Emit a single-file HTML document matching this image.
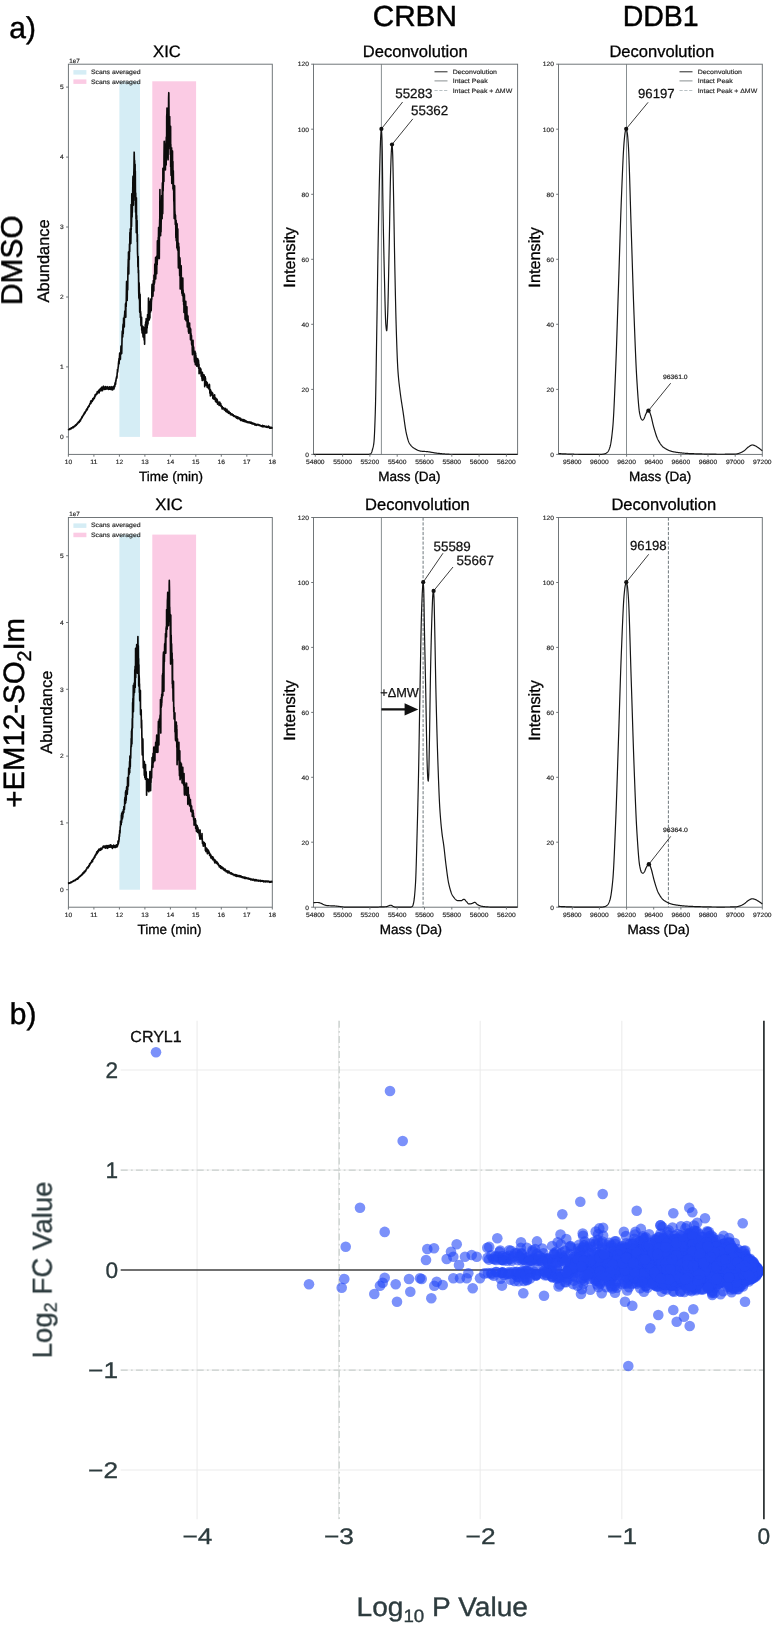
<!DOCTYPE html>
<html><head><meta charset="utf-8"><title>figure</title>
<style>html,body{margin:0;padding:0;background:#fff}svg{display:block}text{font-family:"Liberation Sans",sans-serif;text-rendering:geometricPrecision}.pts circle{r:5.3px}</style>
</head><body>
<svg width="780" height="1632" viewBox="0 0 780 1632">
<rect width="780" height="1632" fill="#fff"/>
<g opacity="0.999">
<text x="9.3" y="38.3" font-size="30" text-anchor="start" fill="#000" stroke="#000" stroke-width="0.45">a)</text>
<text x="414.8" y="25.7" font-size="29" text-anchor="middle" fill="#000" textLength="84.3" lengthAdjust="spacingAndGlyphs" stroke="#000" stroke-width="0.45">CRBN</text>
<text x="660.7" y="26.2" font-size="29" text-anchor="middle" fill="#000" textLength="76" lengthAdjust="spacingAndGlyphs" stroke="#000" stroke-width="0.45">DDB1</text>
<text x="22.2" y="260.2" font-size="30" text-anchor="middle" fill="#000" transform="rotate(-90 22.2 260.2)" stroke="#000" stroke-width="0.45">DMSO</text>
<text font-size="29.4" text-anchor="middle" transform="translate(24.3 712.8) rotate(-90)" stroke="#000" stroke-width="0.45">+EM12-SO<tspan font-size="19.6" dy="6.2">2</tspan><tspan dy="-6.2">Im</tspan></text>
<text x="9.8" y="1023.5" font-size="30" text-anchor="start" fill="#000" stroke="#000" stroke-width="0.45">b)</text>
<rect x="119.4" y="81.3" width="20.6" height="355.6" fill="#d5edf5"/>
<rect x="152.3" y="81.3" width="43.8" height="355.6" fill="#fbcbe4"/>
<rect x="68.4" y="64.2" width="203.9" height="390.2" fill="none" stroke="#6a7073" stroke-width="0.95"/>
<path d="M68.4,429 68.5,429.3 68.7,429.3 68.8,429.7 68.9,429.4 69.1,429.3 69.2,429.2 69.4,429.3 69.5,429.2 69.6,429.1 69.8,429.3 69.9,428.8 70,428.7 70.2,428.5 70.3,428.8 70.4,428.9 70.6,428.8 70.7,429 70.8,428.4 71,428.8 71.1,428.7 71.3,428.4 71.4,427.9 71.5,428.1 71.7,428.4 71.8,428.2 71.9,427.8 72.1,428 72.2,428 72.3,427.8 72.5,427.5 72.6,427.1 72.8,427.7 72.9,427.4 73,427.4 73.2,427.7 73.3,427.3 73.4,427.2 73.6,426.6 73.7,426.8 73.8,427.1 74,426.4 74.1,426.5 74.2,426.8 74.4,426.5 74.5,426.4 74.7,426.3 74.8,426 74.9,426.4 75.1,425.8 75.2,425.4 75.3,425.4 75.5,425.2 75.6,425.2 75.7,424.9 75.9,425.4 76,424.7 76.2,425.3 76.3,424.8 76.4,425 76.6,424.2 76.7,424 76.8,424.3 77,423.7 77.1,424.2 77.2,423.9 77.4,423.7 77.5,423.9 77.6,423.3 77.8,422.8 77.9,423.4 78.1,422.8 78.2,422.8 78.3,422.2 78.5,422.4 78.6,422.2 78.7,422 78.9,422.1 79,422.4 79.1,421.4 79.3,422.1 79.4,421.3 79.6,421 79.7,421.1 79.8,420.6 80,420.1 80.1,420.4 80.2,420.5 80.4,421 80.5,420.1 80.6,419.8 80.8,419.5 80.9,419.4 81.1,418.7 81.2,418.9 81.3,418.4 81.5,418 81.6,418.3 81.7,418 81.9,416.9 82,417.1 82.1,417.7 82.3,417 82.4,416.5 82.5,416.1 82.7,416.3 82.8,416.1 83,416 83.1,415.3 83.2,415.2 83.4,415.2 83.5,414.9 83.6,414.8 83.8,414 83.9,414.5 84,413.9 84.2,413.4 84.3,413.4 84.5,413.7 84.6,412.4 84.7,412.9 84.9,412.4 85,412.5 85.1,412.9 85.3,412 85.4,411.6 85.5,411.6 85.7,411.3 85.8,411.4 85.9,411.2 86.1,410.9 86.2,409.9 86.4,410.2 86.5,410.5 86.6,409.7 86.8,409.9 86.9,409.6 87,408.7 87.2,409.1 87.3,409.6 87.4,409 87.6,408.1 87.7,407.9 87.9,407.1 88,407.6 88.1,406.8 88.3,407 88.4,407 88.5,406.4 88.7,406.3 88.8,406.7 88.9,405.5 89.1,406.3 89.2,405.4 89.3,405.3 89.5,404.8 89.6,404.8 89.8,404.4 89.9,404.4 90,403.4 90.2,403.9 90.3,403.2 90.4,403.2 90.6,403.6 90.7,401.2 90.8,402.7 91,403.3 91.1,401.4 91.3,402.1 91.4,401.2 91.5,400.7 91.7,401.4 91.8,401.1 91.9,401.1 92.1,400.7 92.2,401.5 92.3,401.2 92.5,400.4 92.6,399.7 92.7,399.7 92.9,398.5 93,398.7 93.2,399.2 93.3,398.8 93.4,399.7 93.6,399 93.7,398.9 93.8,397.9 94,397.6 94.1,397.9 94.2,397.8 94.4,398.2 94.5,397.1 94.7,396.3 94.8,396.3 94.9,396.8 95.1,394.8 95.2,395 95.3,395.6 95.5,395.9 95.6,395.4 95.7,395 95.9,395 96,394.7 96.1,394.1 96.3,393.7 96.4,393.7 96.6,394.2 96.7,393.7 96.8,394.1 97,393.9 97.1,392 97.2,393.5 97.4,391.6 97.5,393 97.6,392.4 97.8,391.9 97.9,392.6 98.1,392.1 98.2,392.5 98.3,392.7 98.5,392.3 98.6,392.1 98.7,390.6 98.9,391.6 99,390.1 99.1,392.9 99.3,391.1 99.4,390.5 99.5,390.8 99.7,389.7 99.8,390 100,390.6 100.1,390.2 100.2,388.8 100.4,390.6 100.5,390.5 100.6,390.7 100.8,390.1 100.9,390.9 101,389.8 101.2,387.9 101.3,388.6 101.5,388.5 101.6,388.1 101.7,387.4 101.9,388 102,387.1 102.1,388.1 102.3,388.9 102.4,387.7 102.5,390.7 102.7,389.4 102.8,388.8 103,389.4 103.1,388.8 103.2,388.7 103.4,388.7 103.5,386.2 103.6,387.5 103.8,388.1 103.9,387.6 104,388.7 104.2,388.1 104.3,388.4 104.4,387.5 104.6,389.4 104.7,388 104.9,388.2 105,389.1 105.1,387.2 105.3,388.5 105.4,386.5 105.5,387.3 105.7,387.2 105.8,387.8 105.9,387.4 106.1,389.3 106.2,387.8 106.4,388.1 106.5,387.6 106.6,387.9 106.8,387.6 106.9,388.7 107,387.1 107.2,386.7 107.3,388.7 107.4,388.6 107.6,388.4 107.7,387.7 107.8,387.1 108,389.1 108.1,388.6 108.3,388.7 108.4,388.8 108.5,389.4 108.7,387.9 108.8,389.1 108.9,387.4 109.1,387.8 109.2,389.1 109.3,388.8 109.5,388.5 109.6,386.8 109.8,388.4 109.9,389.2 110,388.5 110.2,387.9 110.3,388.8 110.4,387.1 110.6,387.7 110.7,387.4 110.8,388.6 111,387.8 111.1,388 111.2,389.7 111.4,387.8 111.5,389.1 111.7,387.8 111.8,389 111.9,386.7 112.1,388 112.2,387.8 112.3,388 112.5,389.3 112.6,389.9 112.7,388.4 112.9,387.4 113,388.2 113.2,387.8 113.3,387.5 113.4,389 113.6,387.8 113.7,386.3 113.8,388 114,389 114.1,387.9 114.2,387.4 114.4,386.4 114.5,386.9 114.6,385.8 114.8,386.8 114.9,384.1 115.1,383.1 115.2,382.7 115.3,384.1 115.5,382.4 115.6,384.4 115.7,380.8 115.9,380.6 116,381.3 116.1,379.1 116.3,378.6 116.4,377.6 116.6,377.4 116.7,376.3 116.8,378.2 117,376.6 117.1,374.6 117.2,372.9 117.4,372.4 117.5,369.3 117.6,372.2 117.8,370.4 117.9,369 118,368.7 118.2,366.8 118.3,367.3 118.5,362.9 118.6,364.8 118.7,361 118.9,362 119,358.7 119.1,363.6 119.3,358.4 119.4,359.8 119.5,356.7 119.7,353 119.8,357.8 120,358.6 120.1,358.2 120.2,354.4 120.4,359.4 120.5,352.8 120.6,354.9 120.8,352.9 120.9,348.6 121,346.4 121.2,348.4 121.3,348.6 121.4,345.6 121.6,345.9 121.7,353.6 121.9,344.6 122,340.5 122.1,335.2 122.3,331.2 122.4,333.3 122.5,334.2 122.7,337 122.8,330.9 122.9,326.5 123.1,324.2 123.2,333.7 123.4,327.4 123.5,324.9 123.6,318 123.8,324.2 123.9,326.5 124,325.6 124.2,323.3 124.3,326.9 124.4,316.7 124.6,314.5 124.7,314.6 124.8,311.1 125,315.6 125.1,311.2 125.3,314.1 125.4,312.2 125.5,303.9 125.7,309.4 125.8,317.3 125.9,302.8 126.1,304 126.2,306.5 126.3,298.2 126.5,286.3 126.6,281.5 126.8,294.2 126.9,285.5 127,286.6 127.2,300.4 127.3,292.3 127.4,284.1 127.6,280.6 127.7,289.9 127.8,278.7 128,267.7 128.1,266.7 128.3,259 128.4,272.3 128.5,252 128.7,257.7 128.8,273.9 128.9,256.1 129.1,260.3 129.2,257.8 129.3,259.4 129.5,244 129.6,248.9 129.7,251.8 129.9,232.6 130,237.5 130.2,242.5 130.3,228.9 130.4,241.9 130.6,243.5 130.7,236.8 130.8,243.6 131,232.6 131.1,204.6 131.2,229.7 131.4,219.5 131.5,226.6 131.7,213.6 131.8,193.9 131.9,200.3 132.1,216.9 132.2,207.2 132.3,212.6 132.5,201.7 132.6,201.5 132.7,193.3 132.9,178.7 133,176.5 133.1,176.1 133.3,184.4 133.4,205.2 133.6,189.1 133.7,196.3 133.8,174.2 134,167.1 134.1,157.8 134.2,152.2 134.4,162.7 134.5,160.6 134.6,160.6 134.8,188.2 134.9,177 135.1,164.4 135.2,200.4 135.3,170.9 135.5,204 135.6,212.2 135.7,193 135.9,206.4 136,219.1 136.1,201.3 136.3,232.7 136.4,197.8 136.5,223.4 136.7,215.6 136.8,226.1 137,222.9 137.1,220.5 137.2,242 137.4,234.2 137.5,251.2 137.6,254.3 137.8,258.5 137.9,266.4 138,267.1 138.2,256.5 138.3,273.1 138.5,270.3 138.6,279 138.7,290.4 138.9,298.2 139,289.6 139.1,282.7 139.3,287.4 139.4,299.9 139.5,292.4 139.7,311.6 139.8,312.4 139.9,306 140.1,294.4 140.2,305.8 140.4,317.5 140.5,311.2 140.6,312 140.8,314.1 140.9,323 141,325.8 141.2,322.7 141.3,323.4 141.4,318.3 141.6,317.4 141.7,330 141.9,330.3 142,329.8 142.1,333 142.3,330.1 142.4,331.3 142.5,331.9 142.7,326.2 142.8,331.1 142.9,333.9 143.1,337 143.2,334.3 143.3,334.2 143.5,337.2 143.6,327.4 143.8,328.4 143.9,332.2 144,336.4 144.2,340.2 144.3,338.4 144.4,328.3 144.6,344.3 144.7,332.3 144.8,328.3 145,329.5 145.1,329.3 145.3,324.5 145.4,333.2 145.5,328.8 145.7,321.9 145.8,331.1 145.9,329.1 146.1,324.1 146.2,318.7 146.3,319 146.5,322.5 146.6,330.8 146.7,333 146.9,325 147,322.2 147.2,328 147.3,321.1 147.4,320.2 147.6,314.6 147.7,324.9 147.8,316.9 148,323.7 148.1,319.6 148.2,317.1 148.4,308.1 148.5,298.1 148.7,313 148.8,309.5 148.9,307.2 149.1,319.3 149.2,310.3 149.3,320 149.5,306.4 149.6,307.1 149.7,310.8 149.9,318.1 150,301.2 150.2,304.3 150.3,303.9 150.4,302.9 150.6,311.9 150.7,299.9 150.8,299.1 151,304.4 151.1,302.4 151.2,310.5 151.4,302.3 151.5,301.1 151.6,299.3 151.8,299.2 151.9,287.2 152.1,284.3 152.2,289.9 152.3,287.9 152.5,288 152.6,286.7 152.7,293.9 152.9,296.1 153,295.2 153.1,289.8 153.3,283.4 153.4,280.6 153.6,290.5 153.7,287.5 153.8,290.9 154,275.2 154.1,284.7 154.2,275.8 154.4,280.4 154.5,280.4 154.6,282.9 154.8,264.1 154.9,269.7 155,272.6 155.2,276.7 155.3,274.2 155.5,266.1 155.6,257.6 155.7,279 155.9,270 156,262.1 156.1,262.4 156.3,272.3 156.4,258.3 156.5,256.7 156.7,273.7 156.8,265.1 157,255.8 157.1,257 157.2,264.8 157.4,240.9 157.5,249.4 157.6,260.1 157.8,241.9 157.9,258.4 158,242.6 158.2,256.7 158.3,237.2 158.4,243.6 158.6,227.5 158.7,230.8 158.9,234.6 159,240.2 159.1,234 159.3,258.6 159.4,233 159.5,229.5 159.7,219.9 159.8,219.1 159.9,189.6 160.1,221.6 160.2,214 160.4,223.3 160.5,203.5 160.6,235.7 160.8,200.9 160.9,221.8 161,231.9 161.2,218.6 161.3,207.4 161.4,202.1 161.6,202.1 161.7,195.5 161.8,201.3 162,201.2 162.1,218.7 162.3,192.1 162.4,182.9 162.5,198.1 162.7,213.7 162.8,205.7 162.9,168.4 163.1,191.3 163.2,186.3 163.3,184.3 163.5,168.4 163.6,178.7 163.8,173 163.9,181.6 164,157.4 164.2,141.4 164.3,158.2 164.4,149.2 164.6,152 164.7,154.3 164.8,150.8 165,151.2 165.1,145.2 165.2,153 165.4,169.9 165.5,160.8 165.7,160.5 165.8,143.8 165.9,144.3 166.1,140.6 166.2,164.9 166.3,137.2 166.5,146.6 166.6,157.3 166.7,116.5 166.9,113.7 167,108.1 167.2,118.6 167.3,119.7 167.4,143.6 167.6,143.1 167.7,132.1 167.8,157.1 168,159.3 168.1,159.8 168.2,140.1 168.4,133.6 168.5,124.2 168.6,98.3 168.8,92.7 168.9,103.2 169.1,133.6 169.2,116.5 169.3,127.7 169.5,145.8 169.6,138.8 169.7,116.5 169.9,149 170,143 170.1,129.2 170.3,154.5 170.4,126 170.6,126.5 170.7,166.9 170.8,144.3 171,171.8 171.1,175.4 171.2,152.5 171.4,150.1 171.5,164.4 171.6,147.7 171.8,183.5 171.9,177.6 172.1,176.7 172.2,153.1 172.3,153.8 172.5,151.1 172.6,177.4 172.7,162.9 172.9,161.5 173,188.9 173.1,183.3 173.3,170.8 173.4,178.3 173.5,190.6 173.7,189.2 173.8,199.9 174,202.4 174.1,207 174.2,218.6 174.4,214.1 174.5,213.5 174.6,185.7 174.8,210.2 174.9,211.7 175,214.5 175.2,215.5 175.3,224.6 175.5,215.2 175.6,223.6 175.7,220.5 175.9,237.8 176,225.7 176.1,220.3 176.3,240.8 176.4,227.4 176.5,223.1 176.7,229.2 176.8,236.7 176.9,248 177.1,223.7 177.2,240.1 177.4,245.9 177.5,228.6 177.6,250.1 177.8,229.1 177.9,241.9 178,242 178.2,248.7 178.3,260.6 178.4,267.9 178.6,243.2 178.7,259.4 178.9,263.2 179,246.9 179.1,265.9 179.3,263.7 179.4,266.4 179.5,267.1 179.7,275.7 179.8,269.1 179.9,257.7 180.1,260.7 180.2,289.1 180.3,284.3 180.5,271.8 180.6,274.3 180.8,277.5 180.9,270.5 181,285.5 181.2,265.7 181.3,275.5 181.4,276.9 181.6,278.9 181.7,279.8 181.8,292.3 182,293.6 182.1,285.5 182.3,285.2 182.4,295.6 182.5,280.2 182.7,279.7 182.8,278 182.9,290.9 183.1,290 183.2,293.8 183.3,301.5 183.5,296.7 183.6,297.7 183.7,305.1 183.9,293.2 184,312.4 184.2,306.8 184.3,305.8 184.4,294.7 184.6,303.3 184.7,304 184.8,312.6 185,313.5 185.1,319.3 185.2,310.2 185.4,314.7 185.5,310.8 185.7,319.5 185.8,301.3 185.9,316.1 186.1,320.8 186.2,312.1 186.3,311.1 186.5,306.7 186.6,316.2 186.7,310.3 186.9,306.8 187,318.6 187.1,319.8 187.3,326.9 187.4,316.6 187.6,315.2 187.7,317.4 187.8,317.8 188,316.2 188.1,323.8 188.2,319.6 188.4,329 188.5,332 188.6,327.9 188.8,333.2 188.9,327.6 189.1,323.9 189.2,326 189.3,331.5 189.5,332.7 189.6,323.1 189.7,332.7 189.9,330.6 190,332.6 190.1,330.9 190.3,328 190.4,336.1 190.5,339.8 190.7,329 190.8,335.5 191,333.6 191.1,338.2 191.2,335.5 191.4,335.3 191.5,336.2 191.6,343.9 191.8,344.8 191.9,344.1 192,345.5 192.2,344.8 192.3,350.4 192.5,354.7 192.6,345.2 192.7,343 192.9,344.7 193,340.3 193.1,345.1 193.3,349.8 193.4,346.3 193.5,349.5 193.7,347.5 193.8,352.4 194,351.3 194.1,352.3 194.2,353.8 194.4,360.1 194.5,354.2 194.6,361.9 194.8,355.6 194.9,355.1 195,351.4 195.2,357.9 195.3,362.7 195.4,364.7 195.6,353.1 195.7,363.2 195.9,355.5 196,364.5 196.1,358.7 196.3,359.1 196.4,360.9 196.5,362.7 196.7,365.6 196.8,366.2 196.9,358.3 197.1,361.6 197.2,363.5 197.4,362.7 197.5,365.2 197.6,360.5 197.8,358.8 197.9,365 198,363.6 198.2,361.5 198.3,367 198.4,360 198.6,362.6 198.7,368.5 198.8,365.9 199,364.4 199.1,373.7 199.3,369 199.4,370.6 199.5,371 199.7,369 199.8,370.9 199.9,373 200.1,372.9 200.2,369.1 200.3,368.1 200.5,369.3 200.6,370.1 200.8,370.2 200.9,369.1 201,371.1 201.2,376.1 201.3,375.4 201.4,372 201.6,376.2 201.7,375.8 201.8,376 202,378.7 202.1,373.8 202.2,380.6 202.4,372.3 202.5,376.4 202.7,379 202.8,375.7 202.9,380.1 203.1,375.2 203.2,374.5 203.3,376.6 203.5,377.3 203.6,374.9 203.7,378.8 203.9,378 204,377.5 204.2,375 204.3,379.6 204.4,379.8 204.6,377.9 204.7,386.7 204.8,382.1 205,385.5 205.1,384.8 205.2,376.9 205.4,380.3 205.5,378.4 205.6,382.5 205.8,381.3 205.9,383.6 206.1,384.2 206.2,384.1 206.3,384.4 206.5,381.9 206.6,385.4 206.7,384.6 206.9,385.3 207,384.6 207.1,387.1 207.3,382.7 207.4,386.2 207.6,385.8 207.7,386.4 207.8,385.7 208,386.5 208.1,387.4 208.2,387.9 208.4,388.2 208.5,386.7 208.6,387.7 208.8,385.9 208.9,385 209,386.4 209.2,389.5 209.3,384.3 209.5,385 209.6,388.9 209.7,389.7 209.9,393.3 210,390.5 210.1,392.9 210.3,389.5 210.4,396 210.5,391.7 210.7,390.2 210.8,392.2 211,393.3 211.1,391.7 211.2,394.3 211.4,394.8 211.5,394.3 211.6,394.5 211.8,394.3 211.9,392.2 212,393.7 212.2,393.6 212.3,395.3 212.4,392.8 212.6,396.2 212.7,393.4 212.9,398.4 213,396.3 213.1,398.1 213.3,395.5 213.4,396.6 213.5,398.9 213.7,398.2 213.8,396.2 213.9,397.5 214.1,396.8 214.2,399.2 214.4,399.1 214.5,396.5 214.6,394.9 214.8,398.5 214.9,397.6 215,399.8 215.2,397.8 215.3,399.8 215.4,399.7 215.6,401.6 215.7,400.2 215.9,399.4 216,398.2 216.1,401.6 216.3,399.5 216.4,400.9 216.5,401.1 216.7,401.5 216.8,402.4 216.9,401.9 217.1,399.3 217.2,402.3 217.3,402.2 217.5,400.7 217.6,404.2 217.8,402 217.9,403 218,402.5 218.2,402 218.3,402.8 218.4,403 218.6,402.3 218.7,402.7 218.8,404.3 219,404.3 219.1,405.3 219.3,402.9 219.4,405.1 219.5,403.8 219.7,402.1 219.8,403.1 219.9,404.9 220.1,405.5 220.2,405.7 220.3,405.1 220.5,405.7 220.6,405.9 220.7,403.5 220.9,406.2 221,405.8 221.2,405.8 221.3,405.6 221.4,406.3 221.6,407 221.7,406.8 221.8,407 222,407.4 222.1,408.9 222.2,406.5 222.4,407.7 222.5,407.9 222.7,407.9 222.8,408.8 222.9,408.6 223.1,407.9 223.2,408 223.3,407.8 223.5,408.6 223.6,408.2 223.7,409 223.9,408.7 224,408.2 224.1,408.7 224.3,409.8 224.4,409.2 224.6,409.1 224.7,408.5 224.8,409.5 225,409.8 225.1,410.3 225.2,408.4 225.4,410.6 225.5,410.7 225.6,410.3 225.8,411.4 225.9,409.5 226.1,410.1 226.2,410.2 226.3,411.1 226.5,410.8 226.6,410.2 226.7,410.2 226.9,409.2 227,410.2 227.1,412.3 227.3,411.4 227.4,411.7 227.5,410.9 227.7,411.7 227.8,411.4 228,412 228.1,411.7 228.2,411.3 228.4,412.4 228.5,413.3 228.6,412.7 228.8,411.4 228.9,412.4 229,412.7 229.2,413 229.3,412 229.5,412.6 229.6,412.8 229.7,413.2 229.9,413.3 230,413.6 230.1,413 230.3,412.8 230.4,414.6 230.5,414.4 230.7,413.7 230.8,413.7 230.9,414.7 231.1,414.4 231.2,414.3 231.4,414.3 231.5,414.4 231.6,414.1 231.8,413.8 231.9,413.9 232,414.2 232.2,414.5 232.3,415.3 232.4,415.1 232.6,414.7 232.7,415 232.9,414.8 233,414.8 233.1,414.9 233.3,414.9 233.4,416 233.5,415.7 233.7,416.1 233.8,415.8 233.9,416.5 234.1,416.2 234.2,416.3 234.3,415.9 234.5,415.9 234.6,416.4 234.8,416.1 234.9,416.2 235,416 235.2,416.4 235.3,416.3 235.4,416.7 235.6,417.1 235.7,416.7 235.8,416.7 236,417.5 236.1,416.4 236.3,417.7 236.4,416.9 236.5,417.2 236.7,418.2 236.8,417.5 236.9,418.2 237.1,417.6 237.2,417.3 237.3,416.8 237.5,417.4 237.6,418.6 237.7,418.2 237.9,417.4 238,418.1 238.2,417.4 238.3,418.4 238.4,418.3 238.6,418.7 238.7,418.2 238.8,417.6 239,418.6 239.1,418 239.2,418.3 239.4,418.2 239.5,418.7 239.7,418.8 239.8,418 239.9,419.4 240.1,418.6 240.2,418.3 240.3,418.9 240.5,418.3 240.6,420.4 240.7,419.4 240.9,419.8 241,419.6 241.2,419.7 241.3,419.5 241.4,420.1 241.6,419.4 241.7,420.4 241.8,419.3 242,419.9 242.1,420.5 242.2,420.6 242.4,420.7 242.5,420.5 242.6,420.1 242.8,419.6 242.9,419.8 243.1,420.8 243.2,421.2 243.3,420.5 243.5,421 243.6,420.7 243.7,420.8 243.9,419.7 244,421.4 244.1,420.7 244.3,420.1 244.4,420.9 244.6,421.1 244.7,420.2 244.8,421.7 245,421.7 245.1,421.6 245.2,421.1 245.4,420.9 245.5,421.4 245.6,420.6 245.8,421.8 245.9,421.7 246,421.9 246.2,421.3 246.3,421.8 246.5,422 246.6,421.3 246.7,421.5 246.9,421.6 247,422.4 247.1,422.3 247.3,422 247.4,422 247.5,422.2 247.7,422.2 247.8,421.9 248,422.6 248.1,422.2 248.2,422.5 248.4,422.6 248.5,422.5 248.6,422.1 248.8,422.2 248.9,422.6 249,422.2 249.2,422.3 249.3,422.2 249.4,422.6 249.6,422.1 249.7,422.4 249.9,422.9 250,423 250.1,423.2 250.3,422.7 250.4,423.2 250.5,423.1 250.7,423.1 250.8,422.6 250.9,422.2 251.1,422.9 251.2,422.2 251.4,422.8 251.5,422.6 251.6,423.4 251.8,423.7 251.9,423.2 252,423 252.2,423.9 252.3,423.3 252.4,423.3 252.6,423.1 252.7,423.8 252.8,423.6 253,423.2 253.1,423.1 253.3,423.8 253.4,423.6 253.5,424 253.7,423.8 253.8,424.1 253.9,424 254.1,424.1 254.2,423.8 254.3,423.6 254.5,423.9 254.6,423.8 254.8,424.3 254.9,423.9 255,425.2 255.2,424.7 255.3,424.5 255.4,424.9 255.6,424.2 255.7,424.4 255.8,424.7 256,424.4 256.1,425.1 256.2,424.9 256.4,424.8 256.5,425.3 256.7,424.5 256.8,425 256.9,424.5 257.1,424.9 257.2,424.7 257.3,425 257.5,424.8 257.6,424.8 257.7,424.7 257.9,424.4 258,425 258.2,424.9 258.3,424.7 258.4,424.5 258.6,424.9 258.7,425.1 258.8,425.2 259,425.2 259.1,425.2 259.2,425.5 259.4,425.3 259.5,425 259.6,425.3 259.8,425.5 259.9,425.1 260.1,425.2 260.2,425.3 260.3,425.3 260.5,425.7 260.6,425.5 260.7,425.5 260.9,425.7 261,426.2 261.1,425.8 261.3,425.8 261.4,425.8 261.6,425.9 261.7,425.9 261.8,426.4 262,426.2 262.1,426.7 262.2,426 262.4,425.5 262.5,425.4 262.6,426.3 262.8,425.8 262.9,425.7 263.1,426.1 263.2,426.8 263.3,425.8 263.5,426.3 263.6,426.4 263.7,425.9 263.9,426.2 264,426.1 264.1,425.9 264.3,426.4 264.4,426.6 264.5,426.1 264.7,426.4 264.8,426.2 265,426.3 265.1,426.7 265.2,426.5 265.4,426.6 265.5,426.6 265.6,426.6 265.8,426.6 265.9,426.6 266,427.1 266.2,426.7 266.3,427.2 266.5,426.3 266.6,427.1 266.7,426.9 266.9,426.5 267,427 267.1,427.3 267.3,427.3 267.4,426.9 267.5,426.9 267.7,426.8 267.8,426.9 267.9,427.1 268.1,426.9 268.2,426.6 268.4,427.3 268.5,426.1 268.6,427.2 268.8,426.8 268.9,426.6 269,426.9 269.2,427.1 269.3,427 269.4,427 269.6,428.1 269.7,427.3 269.9,427.6 270,427.7 270.1,427.4 270.3,427.5 270.4,427.5 270.5,427.8 270.7,427.4 270.8,428.2 270.9,427.9 271.1,427.9 271.2,427.6 271.3,427.8 271.5,427.5 271.6,427.9 271.8,427.4 271.9,427.6 272,427.9 272.2,428.2 272.3,428.1" fill="none" stroke="#0b0b0b" stroke-width="1.65" stroke-linejoin="round"/>
<line x1="68.4" y1="454.4" x2="68.4" y2="456.7" stroke="#6a7073" stroke-width="0.95"/>
<text x="68.4" y="463.8" font-size="6.25" text-anchor="middle" fill="#2b2b2b" textLength="7.4" lengthAdjust="spacingAndGlyphs" stroke="#2b2b2b" stroke-width="0.18">10</text>
<line x1="93.9" y1="454.4" x2="93.9" y2="456.7" stroke="#6a7073" stroke-width="0.95"/>
<text x="93.9" y="463.8" font-size="6.25" text-anchor="middle" fill="#2b2b2b" textLength="7.4" lengthAdjust="spacingAndGlyphs" stroke="#2b2b2b" stroke-width="0.18">11</text>
<line x1="119.4" y1="454.4" x2="119.4" y2="456.7" stroke="#6a7073" stroke-width="0.95"/>
<text x="119.4" y="463.8" font-size="6.25" text-anchor="middle" fill="#2b2b2b" textLength="7.4" lengthAdjust="spacingAndGlyphs" stroke="#2b2b2b" stroke-width="0.18">12</text>
<line x1="144.9" y1="454.4" x2="144.9" y2="456.7" stroke="#6a7073" stroke-width="0.95"/>
<text x="144.9" y="463.8" font-size="6.25" text-anchor="middle" fill="#2b2b2b" textLength="7.4" lengthAdjust="spacingAndGlyphs" stroke="#2b2b2b" stroke-width="0.18">13</text>
<line x1="170.4" y1="454.4" x2="170.4" y2="456.7" stroke="#6a7073" stroke-width="0.95"/>
<text x="170.4" y="463.8" font-size="6.25" text-anchor="middle" fill="#2b2b2b" textLength="7.4" lengthAdjust="spacingAndGlyphs" stroke="#2b2b2b" stroke-width="0.18">14</text>
<line x1="195.8" y1="454.4" x2="195.8" y2="456.7" stroke="#6a7073" stroke-width="0.95"/>
<text x="195.8" y="463.8" font-size="6.25" text-anchor="middle" fill="#2b2b2b" textLength="7.4" lengthAdjust="spacingAndGlyphs" stroke="#2b2b2b" stroke-width="0.18">15</text>
<line x1="221.3" y1="454.4" x2="221.3" y2="456.7" stroke="#6a7073" stroke-width="0.95"/>
<text x="221.3" y="463.8" font-size="6.25" text-anchor="middle" fill="#2b2b2b" textLength="7.4" lengthAdjust="spacingAndGlyphs" stroke="#2b2b2b" stroke-width="0.18">16</text>
<line x1="246.8" y1="454.4" x2="246.8" y2="456.7" stroke="#6a7073" stroke-width="0.95"/>
<text x="246.8" y="463.8" font-size="6.25" text-anchor="middle" fill="#2b2b2b" textLength="7.4" lengthAdjust="spacingAndGlyphs" stroke="#2b2b2b" stroke-width="0.18">17</text>
<line x1="272.3" y1="454.4" x2="272.3" y2="456.7" stroke="#6a7073" stroke-width="0.95"/>
<text x="272.3" y="463.8" font-size="6.25" text-anchor="middle" fill="#2b2b2b" textLength="7.4" lengthAdjust="spacingAndGlyphs" stroke="#2b2b2b" stroke-width="0.18">18</text>
<line x1="66.1" y1="436.9" x2="68.4" y2="436.9" stroke="#6a7073" stroke-width="0.95"/>
<text x="63.8" y="439.1" font-size="6.25" text-anchor="end" fill="#2b2b2b" textLength="3.7" lengthAdjust="spacingAndGlyphs" stroke="#2b2b2b" stroke-width="0.18">0</text>
<line x1="66.1" y1="366.9" x2="68.4" y2="366.9" stroke="#6a7073" stroke-width="0.95"/>
<text x="63.8" y="369.2" font-size="6.25" text-anchor="end" fill="#2b2b2b" textLength="3.7" lengthAdjust="spacingAndGlyphs" stroke="#2b2b2b" stroke-width="0.18">1</text>
<line x1="66.1" y1="297" x2="68.4" y2="297" stroke="#6a7073" stroke-width="0.95"/>
<text x="63.8" y="299.2" font-size="6.25" text-anchor="end" fill="#2b2b2b" textLength="3.7" lengthAdjust="spacingAndGlyphs" stroke="#2b2b2b" stroke-width="0.18">2</text>
<line x1="66.1" y1="227" x2="68.4" y2="227" stroke="#6a7073" stroke-width="0.95"/>
<text x="63.8" y="229.3" font-size="6.25" text-anchor="end" fill="#2b2b2b" textLength="3.7" lengthAdjust="spacingAndGlyphs" stroke="#2b2b2b" stroke-width="0.18">3</text>
<line x1="66.1" y1="157.1" x2="68.4" y2="157.1" stroke="#6a7073" stroke-width="0.95"/>
<text x="63.8" y="159.3" font-size="6.25" text-anchor="end" fill="#2b2b2b" textLength="3.7" lengthAdjust="spacingAndGlyphs" stroke="#2b2b2b" stroke-width="0.18">4</text>
<line x1="66.1" y1="87.1" x2="68.4" y2="87.1" stroke="#6a7073" stroke-width="0.95"/>
<text x="63.8" y="89.4" font-size="6.25" text-anchor="end" fill="#2b2b2b" textLength="3.7" lengthAdjust="spacingAndGlyphs" stroke="#2b2b2b" stroke-width="0.18">5</text>
<text x="69.2" y="62.7" font-size="6.25" text-anchor="start" fill="#2b2b2b" textLength="10.5" lengthAdjust="spacingAndGlyphs" stroke="#2b2b2b" stroke-width="0.18">1e7</text>
<rect x="73.4" y="70.1" width="13" height="4.5" fill="#d5edf5"/>
<rect x="73.4" y="79.4" width="13" height="4.5" fill="#fbcbe4"/>
<text x="91" y="74" font-size="6.25" text-anchor="start" fill="#2b2b2b" textLength="49.5" lengthAdjust="spacingAndGlyphs" stroke="#2b2b2b" stroke-width="0.18">Scans averaged</text>
<text x="91" y="83.6" font-size="6.25" text-anchor="start" fill="#2b2b2b" textLength="49.5" lengthAdjust="spacingAndGlyphs" stroke="#2b2b2b" stroke-width="0.18">Scans averaged</text>
<text x="166.9" y="56.8" font-size="16.6" text-anchor="middle" fill="#000" stroke="#000" stroke-width="0.3">XIC</text>
<text x="171" y="481" font-size="13.5" text-anchor="middle" fill="#000" stroke="#000" stroke-width="0.3">Time (min)</text>
<text x="48.9" y="260.9" font-size="16.4" text-anchor="middle" fill="#000" transform="rotate(-90 48.9 260.9)" stroke="#000" stroke-width="0.3">Abundance</text>
<rect x="119.4" y="534.6" width="20.6" height="355.1" fill="#d5edf5"/>
<rect x="152.3" y="534.6" width="43.8" height="355.1" fill="#fbcbe4"/>
<rect x="68.4" y="517.5" width="203.9" height="389.7" fill="none" stroke="#6a7073" stroke-width="0.95"/>
<path d="M68.4,883.3 68.5,883.4 68.7,882.9 68.8,883.3 68.9,883.2 69.1,882.9 69.2,883.3 69.4,883.2 69.5,883 69.6,883 69.8,883.1 69.9,882.9 70,882.8 70.2,882.6 70.3,883 70.4,882.8 70.6,882.4 70.7,882.2 70.8,882.8 71,882.3 71.1,882.6 71.3,882.5 71.4,882.4 71.5,882.2 71.7,881.9 71.8,881.9 71.9,882 72.1,881.9 72.2,881.8 72.3,881.7 72.5,881.4 72.6,881.7 72.8,881.5 72.9,881.5 73,881.4 73.2,881.3 73.3,881.2 73.4,880.9 73.6,881.1 73.7,880.7 73.8,881 74,881 74.1,880.7 74.2,880.6 74.4,880.5 74.5,880.2 74.7,880.2 74.8,880.3 74.9,880.4 75.1,880.3 75.2,879.9 75.3,880.1 75.5,880.3 75.6,880.1 75.7,880 75.9,879.5 76,879.6 76.2,879 76.3,879.2 76.4,879.2 76.6,879.2 76.7,878.8 76.8,879.1 77,879.2 77.1,878.7 77.2,878.8 77.4,878.4 77.5,878.6 77.6,879.2 77.8,878.2 77.9,878.7 78.1,877.8 78.2,877.6 78.3,878 78.5,878.1 78.6,878 78.7,877.3 78.9,877.5 79,877.5 79.1,877.3 79.3,876.6 79.4,877 79.6,876.7 79.7,876.5 79.8,876.4 80,876.2 80.1,876.5 80.2,876.3 80.4,876.3 80.5,876.1 80.6,875.5 80.8,875.8 80.9,875.6 81.1,875.6 81.2,875.4 81.3,874.9 81.5,875.2 81.6,875 81.7,874.7 81.9,874.5 82,874.3 82.1,874.3 82.3,874.7 82.4,873.7 82.5,873.6 82.7,873.3 82.8,873.8 83,872.8 83.1,873.8 83.2,873 83.4,873 83.5,873 83.6,872.5 83.8,872.6 83.9,873.1 84,872.8 84.2,872.1 84.3,871.4 84.5,872.5 84.6,871.9 84.7,871.2 84.9,871.3 85,871.4 85.1,871.6 85.3,871.5 85.4,871 85.5,870.7 85.7,871.1 85.8,870.7 85.9,869.9 86.1,870 86.2,869.9 86.4,869.6 86.5,869.5 86.6,868.7 86.8,868.3 86.9,867.9 87,868.2 87.2,868.1 87.3,867.7 87.4,867.4 87.6,867.5 87.7,867.3 87.9,867.8 88,867.9 88.1,866.7 88.3,866.8 88.4,866.6 88.5,866.9 88.7,866.8 88.8,865.6 88.9,865.8 89.1,866.2 89.2,865.4 89.3,865.2 89.5,864.9 89.6,863.9 89.8,864.6 89.9,864.8 90,864 90.2,864 90.3,863.3 90.4,863.2 90.6,863 90.7,863.2 90.8,862.7 91,862.9 91.1,862.3 91.3,862.3 91.4,862.5 91.5,861.5 91.7,861.9 91.8,860.6 91.9,860.9 92.1,860.8 92.2,860.9 92.3,860.7 92.5,861.7 92.6,859.7 92.7,860.4 92.9,859.2 93,859.7 93.2,859.3 93.3,859.2 93.4,859.2 93.6,858.5 93.7,858 93.8,858.2 94,858.3 94.1,857.9 94.2,857.4 94.4,856.7 94.5,856.7 94.7,856.8 94.8,857.4 94.9,855.9 95.1,856.3 95.2,856 95.3,855.2 95.5,854.9 95.6,854.6 95.7,855.2 95.9,854.6 96,855 96.1,853.9 96.3,853.9 96.4,853.2 96.6,853.5 96.7,853.5 96.8,851.9 97,853.6 97.1,853.5 97.2,853 97.4,852.3 97.5,852.5 97.6,852.2 97.8,852.4 97.9,850.6 98.1,851.8 98.2,851.6 98.3,851 98.5,851.2 98.6,850.8 98.7,849.3 98.9,850.7 99,850.3 99.1,850.5 99.3,850.2 99.4,849.5 99.5,849.4 99.7,849.6 99.8,849.8 100,849.1 100.1,848.6 100.2,849.1 100.4,849.1 100.5,850.3 100.6,848.3 100.8,849.8 100.9,849.4 101,848.8 101.2,848.4 101.3,848.6 101.5,848.8 101.6,848.5 101.7,848.8 101.9,849.3 102,848 102.1,848.3 102.3,847.9 102.4,848 102.5,847.3 102.7,847.6 102.8,847.4 103,846.6 103.1,846.8 103.2,847.2 103.4,846 103.5,847.3 103.6,846.8 103.8,846.4 103.9,847.2 104,846.5 104.2,847.5 104.3,847.4 104.4,846.6 104.6,846.4 104.7,846 104.9,846.7 105,846.5 105.1,846.4 105.3,846.7 105.4,848.1 105.5,847.6 105.7,846.3 105.8,847.7 105.9,846.2 106.1,846.7 106.2,845.6 106.4,846.8 106.5,846.2 106.6,847.8 106.8,846.6 106.9,846.1 107,847.9 107.2,846.6 107.3,847.6 107.4,847.1 107.6,848.3 107.7,845.7 107.8,846.7 108,846.7 108.1,847.1 108.3,847.3 108.4,845.7 108.5,846.5 108.7,845.7 108.8,846.6 108.9,846.4 109.1,847.3 109.2,847.2 109.3,845.5 109.5,846.5 109.6,846.4 109.8,846.7 109.9,845.6 110,845.2 110.2,847.2 110.3,847.1 110.4,844.8 110.6,846.1 110.7,846.5 110.8,846.3 111,846 111.1,846.5 111.2,847 111.4,845.4 111.5,846.9 111.7,847.5 111.8,847.3 111.9,847.1 112.1,847.2 112.2,847.1 112.3,846.4 112.5,848.5 112.6,847.1 112.7,845.9 112.9,846.2 113,847.3 113.2,847.1 113.3,845.7 113.4,846.5 113.6,846.5 113.7,845.1 113.8,846.7 114,846.1 114.1,846.7 114.2,846.9 114.4,847.3 114.5,847.3 114.6,846.1 114.8,847.5 114.9,846.4 115.1,847.3 115.2,846.5 115.3,846.4 115.5,847.3 115.6,845.6 115.7,846.7 115.9,845.9 116,847.3 116.1,846.1 116.3,844.9 116.4,846.6 116.6,847 116.7,846.3 116.8,846.6 117,846.9 117.1,846.1 117.2,846.6 117.4,845.6 117.5,845.9 117.6,845.9 117.8,844.1 117.9,844.5 118,841.1 118.2,844.1 118.3,843.6 118.5,843 118.6,841.6 118.7,841.6 118.9,841.1 119,837.1 119.1,839.8 119.3,834.6 119.4,835.6 119.5,836.5 119.7,830.5 119.8,832.3 120,833 120.1,830.4 120.2,826.7 120.4,826.9 120.5,824.8 120.6,821.1 120.8,822.7 120.9,821.6 121,822 121.2,824.7 121.3,820.1 121.4,815.2 121.6,822.5 121.7,813.3 121.9,816.8 122,819.9 122.1,816.9 122.3,812.1 122.4,819 122.5,813.5 122.7,812.7 122.8,817.3 122.9,811.4 123.1,811.1 123.2,814 123.4,809.5 123.5,811 123.6,810.9 123.8,812.4 123.9,806.6 124,807.9 124.2,808.7 124.3,808.7 124.4,809.5 124.6,805.7 124.7,799.2 124.8,802.9 125,797.4 125.1,798.5 125.3,798.8 125.4,803.4 125.5,792 125.7,802.7 125.8,794.8 125.9,790.5 126.1,798.3 126.2,800.2 126.3,796.1 126.5,790.6 126.6,787.5 126.8,786.7 126.9,792.6 127,790.9 127.2,789.4 127.3,794.2 127.4,790.5 127.6,777.5 127.7,790 127.8,777.9 128,786.9 128.1,783.5 128.3,780.1 128.4,786 128.5,778.6 128.7,768.4 128.8,768.6 128.9,769.4 129.1,774.4 129.2,771.2 129.3,767.5 129.5,766.3 129.6,761.5 129.7,772.7 129.9,756.2 130,768.4 130.2,764.6 130.3,766.7 130.4,758 130.6,756.4 130.7,758.4 130.8,751.5 131,745.8 131.1,747.3 131.2,738.6 131.4,746.4 131.5,731.1 131.7,738.5 131.8,729.1 131.9,743.9 132.1,729.3 132.2,726.2 132.3,718.6 132.5,728.1 132.6,702.7 132.7,717.8 132.9,698.6 133,698.9 133.1,707.6 133.3,685.3 133.4,711.8 133.6,701.1 133.7,694.3 133.8,695.6 134,690.4 134.1,683.2 134.2,685.7 134.4,689 134.5,692.4 134.6,687.3 134.8,669.8 134.9,683.6 135.1,666.3 135.2,687.5 135.3,673.4 135.5,678.1 135.6,648.4 135.7,677.7 135.9,661.3 136,657.6 136.1,660.3 136.3,653.5 136.4,656.5 136.5,657.9 136.7,644.5 136.8,658.9 137,660.6 137.1,672.3 137.2,654.5 137.4,673.3 137.5,657.5 137.6,662.6 137.8,641.9 137.9,636.5 138,646.5 138.2,658.1 138.3,645.7 138.5,669.9 138.6,658.6 138.7,686.1 138.9,664.7 139,676.6 139.1,675.2 139.3,678.8 139.4,692.5 139.5,683.7 139.7,700 139.8,700.7 139.9,689.7 140.1,698.7 140.2,701.8 140.4,690.5 140.5,710.4 140.6,714.8 140.8,712.2 140.9,711.2 141,712.9 141.2,709.7 141.3,720.6 141.4,727.9 141.6,720 141.7,724.6 141.9,738 142,737.6 142.1,747.7 142.3,754.9 142.4,739.5 142.5,746.1 142.7,747.6 142.8,738.8 142.9,740.7 143.1,756.6 143.2,762 143.3,767.8 143.5,760.5 143.6,766.4 143.8,761.9 143.9,763.7 144,767.8 144.2,769.4 144.3,775.3 144.4,761.9 144.6,775 144.7,771.3 144.8,777.5 145,774.2 145.1,773.5 145.3,777 145.4,779.3 145.5,764.6 145.7,778.1 145.8,772.9 145.9,775.8 146.1,779.1 146.2,771.7 146.3,776.4 146.5,780.6 146.6,795.3 146.7,784.5 146.9,782.5 147,786 147.2,787.3 147.3,778.9 147.4,784.2 147.6,781.7 147.7,780.3 147.8,780.1 148,790.8 148.1,782.5 148.2,787.7 148.4,790.5 148.5,779.4 148.7,786.8 148.8,784.3 148.9,791.8 149.1,785.3 149.2,784.2 149.3,782.1 149.5,780.8 149.6,782.8 149.7,783.1 149.9,771.5 150,781.1 150.2,780.3 150.3,772.2 150.4,787.1 150.6,790.7 150.7,786.2 150.8,780.1 151,782.6 151.1,776.9 151.2,773 151.4,776.9 151.5,769.9 151.6,777.9 151.8,765.7 151.9,767.1 152.1,757.6 152.2,765.5 152.3,766.3 152.5,763.5 152.6,764.6 152.7,765.7 152.9,767.3 153,756.9 153.1,753.3 153.3,762.9 153.4,762.2 153.6,760.8 153.7,748.4 153.8,747.2 154,754.3 154.1,750.3 154.2,754.6 154.4,751.1 154.5,748.1 154.6,750.7 154.8,757.9 154.9,760.8 155,749.3 155.2,746.3 155.3,750.6 155.5,747.5 155.6,744.5 155.7,742.4 155.9,748 156,743.2 156.1,746.3 156.3,752.1 156.4,740.7 156.5,742.1 156.7,735.1 156.8,746.7 157,742.2 157.1,738.5 157.2,752.5 157.4,745.3 157.5,744.3 157.6,748 157.8,741.7 157.9,752.2 158,735.5 158.2,737.8 158.3,727.2 158.4,721.3 158.6,731.3 158.7,726.6 158.9,745 159,722.9 159.1,721.4 159.3,719 159.4,721.4 159.5,727.2 159.7,725.1 159.8,722.9 159.9,719 160.1,715.2 160.2,717.1 160.4,724.4 160.5,699.6 160.6,718.6 160.8,733.1 160.9,700.2 161,704.4 161.2,707.5 161.3,697.5 161.4,699.4 161.6,705.9 161.7,694.4 161.8,702.7 162,696.9 162.1,697.4 162.3,688 162.4,675.2 162.5,686.7 162.7,673.7 162.8,695.7 162.9,682.3 163.1,666 163.2,658.8 163.3,655.3 163.5,652.2 163.6,679.9 163.8,671.5 163.9,691.2 164,667.5 164.2,656.8 164.3,661.3 164.4,661.5 164.6,646.6 164.7,643.8 164.8,647.8 165,650.9 165.1,643.3 165.2,643.3 165.4,639.5 165.5,633.5 165.7,639.3 165.8,653.2 165.9,637.6 166.1,627.9 166.2,637 166.3,626.7 166.5,637 166.6,609.7 166.7,620.2 166.9,620.7 167,610.2 167.2,629.2 167.3,608.7 167.4,600.5 167.6,597.8 167.7,592.4 167.8,602.5 168,602.1 168.1,600.5 168.2,625.8 168.4,609.9 168.5,600.5 168.6,609.8 168.8,621.3 168.9,612.4 169.1,608.9 169.2,585.8 169.3,580.4 169.5,590.4 169.6,617.5 169.7,606.7 169.9,613.8 170,625.7 170.1,622.6 170.3,622.5 170.4,642.3 170.6,664.1 170.7,618.6 170.8,615 171,653.9 171.1,635.9 171.2,635.3 171.4,663.1 171.5,656.6 171.6,643.7 171.8,655.4 171.9,661.5 172.1,653.1 172.2,668.4 172.3,684 172.5,659.3 172.6,688.1 172.7,685.5 172.9,683.5 173,693.1 173.1,699.8 173.3,701.4 173.4,694.8 173.5,681.4 173.7,706.8 173.8,711.9 174,707.3 174.1,718.9 174.2,717 174.4,717.9 174.5,714.3 174.6,717.8 174.8,719.9 174.9,712.9 175,731.9 175.2,728.2 175.3,730 175.5,739.5 175.6,740.4 175.7,737.1 175.9,739.3 176,729.8 176.1,735.5 176.3,722 176.4,741.3 176.5,741.7 176.7,725.2 176.8,747.3 176.9,729.3 177.1,764.7 177.2,753.7 177.4,743.5 177.5,738.9 177.6,747.6 177.8,756.2 177.9,754.9 178,750.1 178.2,756.8 178.3,754.3 178.4,759.8 178.6,750.9 178.7,750.3 178.9,742.3 179,757.1 179.1,761.6 179.3,770 179.4,770.8 179.5,775.7 179.7,760.3 179.8,750.9 179.9,764.5 180.1,779.7 180.2,767.2 180.3,769.9 180.5,773 180.6,762.4 180.8,767.7 180.9,766.1 181,777.8 181.2,771 181.3,778 181.4,763.7 181.6,776.7 181.7,766.9 181.8,774.7 182,774.4 182.1,782.9 182.3,771.6 182.4,781.8 182.5,776.9 182.7,778 182.8,767.3 182.9,777.3 183.1,783.3 183.2,781.2 183.3,773.6 183.5,782.4 183.6,784.7 183.7,785 183.9,779.2 184,773.6 184.2,785.8 184.3,790 184.4,794 184.6,795 184.7,782.5 184.8,785.3 185,784.3 185.1,793.2 185.2,786.2 185.4,790.5 185.5,784.2 185.7,785.9 185.8,790.3 185.9,788.6 186.1,787.4 186.2,790.5 186.3,795.3 186.5,789.3 186.6,783.2 186.7,793.5 186.9,788.6 187,795.2 187.1,793.4 187.3,792.9 187.4,794.7 187.6,789.3 187.7,788.9 187.8,804.3 188,792.1 188.1,793 188.2,787.4 188.4,797.8 188.5,795.9 188.6,794.6 188.8,796.4 188.9,794.7 189.1,802.7 189.2,802.6 189.3,797.2 189.5,805.8 189.6,801.1 189.7,800.3 189.9,800.2 190,805.9 190.1,802.3 190.3,800.2 190.4,799.6 190.5,802.5 190.7,804.3 190.8,810.6 191,811.5 191.1,807.5 191.2,807.4 191.4,806.8 191.5,808.2 191.6,806 191.8,810.9 191.9,810.9 192,812.5 192.2,810.7 192.3,816.4 192.5,814.9 192.6,815 192.7,813.1 192.9,810.8 193,810.3 193.1,814.1 193.3,815.6 193.4,813 193.5,816.5 193.7,820.2 193.8,816.1 194,821.2 194.1,825.2 194.2,822.8 194.4,824.8 194.5,821.4 194.6,822.3 194.8,821.1 194.9,821.4 195,819.4 195.2,818.8 195.3,821.1 195.4,822.4 195.6,820.3 195.7,828.5 195.9,826 196,824.2 196.1,826.1 196.3,826.3 196.4,831.2 196.5,825.9 196.7,830.8 196.8,825.2 196.9,826.7 197.1,825.6 197.2,829.4 197.4,827.3 197.5,832.5 197.6,828.1 197.8,827.4 197.9,829.5 198,828.4 198.2,829.9 198.3,831.3 198.4,830.4 198.6,832.9 198.7,829.8 198.8,831.4 199,831.9 199.1,834 199.3,834.6 199.4,836.2 199.5,835.3 199.7,833.6 199.8,839.1 199.9,836.7 200.1,830.1 200.2,837.5 200.3,838.8 200.5,837.7 200.6,837.8 200.8,837.3 200.9,836.8 201,838.9 201.2,835.7 201.3,838.3 201.4,836.3 201.6,838.4 201.7,836.6 201.8,838.6 202,833.6 202.1,838.2 202.2,838 202.4,841.3 202.5,843.5 202.7,842.3 202.8,841.7 202.9,843.2 203.1,844.4 203.2,845 203.3,846.1 203.5,844.6 203.6,842.2 203.7,842.5 203.9,842.4 204,843.1 204.2,842.5 204.3,843.6 204.4,843.7 204.6,844.9 204.7,844.8 204.8,846.1 205,846.4 205.1,843.6 205.2,844.6 205.4,850.4 205.5,847.3 205.6,847.4 205.8,847.5 205.9,851.6 206.1,851.3 206.2,850 206.3,849.3 206.5,851.3 206.6,848.4 206.7,848.5 206.9,848.6 207,849.1 207.1,852.2 207.3,850.9 207.4,853.8 207.6,850.4 207.7,850 207.8,850.8 208,852.7 208.1,851.3 208.2,850 208.4,852.7 208.5,851 208.6,850.7 208.8,853 208.9,853.4 209,851.9 209.2,852.7 209.3,852.3 209.5,853.7 209.6,855.4 209.7,854.4 209.9,855.4 210,855.3 210.1,854.9 210.3,854.3 210.4,855.9 210.5,854.2 210.7,857.3 210.8,856 211,855.3 211.1,858.1 211.2,857.7 211.4,856.7 211.5,856.5 211.6,856.5 211.8,856.8 211.9,857 212,858 212.2,857.4 212.3,856.7 212.4,858 212.6,859.6 212.7,859 212.9,858.2 213,857 213.1,858.5 213.3,858.1 213.4,858.2 213.5,859.3 213.7,859.6 213.8,860.2 213.9,859.8 214.1,859.8 214.2,861.2 214.4,860.6 214.5,859.5 214.6,860.9 214.8,862.8 214.9,859.9 215,861.2 215.2,860.8 215.3,860.4 215.4,861.6 215.6,862.2 215.7,862.2 215.9,861.8 216,862.8 216.1,862.8 216.3,861.7 216.4,863 216.5,862.7 216.7,861.5 216.8,863.2 216.9,863.5 217.1,863.7 217.2,863.2 217.3,862.3 217.5,863 217.6,863.7 217.8,864.2 217.9,863.8 218,863.2 218.2,865 218.3,863.8 218.4,864.5 218.6,864.8 218.7,865 218.8,865.5 219,865.8 219.1,865 219.3,866.8 219.4,866.1 219.5,865.6 219.7,866.5 219.8,866.1 219.9,866.8 220.1,865.9 220.2,866 220.3,867.3 220.5,865.9 220.6,867.6 220.7,868.1 220.9,868.1 221,866.8 221.2,868.5 221.3,867.1 221.4,867.1 221.6,866.9 221.7,867.8 221.8,867.1 222,868.2 222.1,867.4 222.2,868.6 222.4,867.9 222.5,868.5 222.7,868.2 222.8,867.5 222.9,868.6 223.1,868.7 223.2,868.4 223.3,868.4 223.5,869.6 223.6,868.4 223.7,869.5 223.9,870 224,869.2 224.1,870.2 224.3,869.7 224.4,869.5 224.6,870.1 224.7,870.6 224.8,870.1 225,869.1 225.1,870.1 225.2,869.4 225.4,869.6 225.5,871 225.6,870.1 225.8,871.2 225.9,870.6 226.1,870.6 226.2,871.1 226.3,871.8 226.5,871.3 226.6,871.1 226.7,870.9 226.9,871 227,870.8 227.1,871.4 227.3,871.9 227.4,871.3 227.5,871 227.7,872.2 227.8,872.2 228,872.9 228.1,871.4 228.2,872.7 228.4,871.8 228.5,872.2 228.6,872.2 228.8,872 228.9,871.2 229,871.3 229.2,872.1 229.3,872.7 229.5,872.1 229.6,872.5 229.7,872.8 229.9,872.8 230,873.3 230.1,872.8 230.3,873.3 230.4,873.3 230.5,873.6 230.7,873.3 230.8,873.2 230.9,873.8 231.1,873.1 231.2,873.2 231.4,872.9 231.5,873.1 231.6,874 231.8,873.4 231.9,873.7 232,874.1 232.2,874.3 232.3,873.6 232.4,873.7 232.6,874.3 232.7,874 232.9,874.4 233,874.6 233.1,874.7 233.3,874.2 233.4,874.4 233.5,874.5 233.7,874.8 233.8,874.9 233.9,874.5 234.1,875.5 234.2,874.7 234.3,875.3 234.5,875.1 234.6,875.1 234.8,875.1 234.9,875 235,875.5 235.2,874.5 235.3,874.9 235.4,875 235.6,874.9 235.7,875.5 235.8,876 236,875.8 236.1,875.3 236.3,876.4 236.4,874.8 236.5,875.2 236.7,875.8 236.8,875.7 236.9,876.2 237.1,875.7 237.2,875.7 237.3,875.5 237.5,876.3 237.6,875.4 237.7,875.8 237.9,875.9 238,875.8 238.2,875.8 238.3,875.5 238.4,875.7 238.6,875.9 238.7,876.5 238.8,876.2 239,875.8 239.1,876 239.2,876.6 239.4,875.7 239.5,875.6 239.7,876.2 239.8,876.6 239.9,876.5 240.1,876.8 240.2,877 240.3,876.5 240.5,876.6 240.6,876.4 240.7,875.8 240.9,876.7 241,876.8 241.2,876.8 241.3,876.7 241.4,876.4 241.6,876.7 241.7,876.7 241.8,877.5 242,877.4 242.1,877.2 242.2,877 242.4,877.5 242.5,876.8 242.6,877.6 242.8,877.2 242.9,877.3 243.1,876.9 243.2,877.7 243.3,877.7 243.5,877.6 243.6,877.3 243.7,877.3 243.9,877.9 244,877.9 244.1,878 244.3,877.1 244.4,877.4 244.6,877.4 244.7,878.3 244.8,877.6 245,877.7 245.1,877.5 245.2,878.3 245.4,877.4 245.5,877.7 245.6,877.8 245.8,878.4 245.9,877.5 246,878.1 246.2,878 246.3,878 246.5,878.2 246.6,878.2 246.7,878.1 246.9,877.9 247,878.3 247.1,878.6 247.3,878.2 247.4,878.2 247.5,878.7 247.7,878.5 247.8,878.3 248,878.5 248.1,878.7 248.2,878.4 248.4,878.4 248.5,878.5 248.6,878.7 248.8,878.2 248.9,879.2 249,878.7 249.2,878.7 249.3,879.2 249.4,879.1 249.6,879.1 249.7,878.8 249.9,878.9 250,878.8 250.1,878.7 250.3,879.3 250.4,879.1 250.5,879.1 250.7,879.8 250.8,879.3 250.9,879.8 251.1,879.7 251.2,879.7 251.4,879.1 251.5,879.6 251.6,879.6 251.8,879.3 251.9,879.6 252,880 252.2,879.3 252.3,879.4 252.4,879.7 252.6,880.1 252.7,879.9 252.8,880.1 253,879.4 253.1,880 253.3,879.6 253.4,879.4 253.5,879.6 253.7,879.6 253.8,879.4 253.9,879.6 254.1,880.3 254.2,879.7 254.3,880.7 254.5,880.3 254.6,879.9 254.8,880.6 254.9,879.8 255,879.5 255.2,880.2 255.3,880.7 255.4,879.8 255.6,880.5 255.7,880.6 255.8,880.5 256,880.4 256.1,880.4 256.2,879.7 256.4,880.5 256.5,880.7 256.7,880.7 256.8,880.5 256.9,880 257.1,880.8 257.2,880.5 257.3,880.3 257.5,880.5 257.6,880.6 257.7,880.7 257.9,880.5 258,880.8 258.2,880.3 258.3,881.1 258.4,880.4 258.6,880.4 258.7,880.7 258.8,880.8 259,880.4 259.1,881 259.2,880.8 259.4,880.9 259.5,880.7 259.6,881 259.8,880.9 259.9,880.6 260.1,880.7 260.2,880.7 260.3,880.4 260.5,881.4 260.6,881 260.7,880.9 260.9,880.5 261,881.1 261.1,880.9 261.3,880.8 261.4,881.2 261.6,881 261.7,881 261.8,881.1 262,880.9 262.1,880.9 262.2,881.2 262.4,880.9 262.5,880.9 262.6,881 262.8,881.2 262.9,880.7 263.1,881.3 263.2,881.1 263.3,880.9 263.5,881.8 263.6,881.3 263.7,881.7 263.9,881.3 264,881.1 264.1,881.5 264.3,881.4 264.4,881.2 264.5,881.6 264.7,881.5 264.8,881.6 265,881.2 265.1,881.5 265.2,881.1 265.4,881.2 265.5,881.9 265.6,881.5 265.8,881.5 265.9,881.5 266,881.4 266.2,881.5 266.3,881.2 266.5,881.3 266.6,881.4 266.7,881.6 266.9,881.2 267,881.9 267.1,881.2 267.3,881.4 267.4,881.8 267.5,881.4 267.7,881 267.8,881.6 267.9,881.7 268.1,881.5 268.2,881.5 268.4,881.2 268.5,881.6 268.6,881.4 268.8,881.6 268.9,881.4 269,881.5 269.2,882 269.3,881.6 269.4,881.5 269.6,881.8 269.7,882.3 269.9,882 270,881.8 270.1,881.6 270.3,881.9 270.4,881.6 270.5,882 270.7,882.2 270.8,881.8 270.9,882.1 271.1,881.5 271.2,881.6 271.3,881.9 271.5,881.9 271.6,881.7 271.8,881.5 271.9,881.7 272,881.8 272.2,881.6 272.3,881.7" fill="none" stroke="#0b0b0b" stroke-width="1.65" stroke-linejoin="round"/>
<line x1="68.4" y1="907.2" x2="68.4" y2="909.5" stroke="#6a7073" stroke-width="0.95"/>
<text x="68.4" y="916.7" font-size="6.25" text-anchor="middle" fill="#2b2b2b" textLength="7.4" lengthAdjust="spacingAndGlyphs" stroke="#2b2b2b" stroke-width="0.18">10</text>
<line x1="93.9" y1="907.2" x2="93.9" y2="909.5" stroke="#6a7073" stroke-width="0.95"/>
<text x="93.9" y="916.7" font-size="6.25" text-anchor="middle" fill="#2b2b2b" textLength="7.4" lengthAdjust="spacingAndGlyphs" stroke="#2b2b2b" stroke-width="0.18">11</text>
<line x1="119.4" y1="907.2" x2="119.4" y2="909.5" stroke="#6a7073" stroke-width="0.95"/>
<text x="119.4" y="916.7" font-size="6.25" text-anchor="middle" fill="#2b2b2b" textLength="7.4" lengthAdjust="spacingAndGlyphs" stroke="#2b2b2b" stroke-width="0.18">12</text>
<line x1="144.9" y1="907.2" x2="144.9" y2="909.5" stroke="#6a7073" stroke-width="0.95"/>
<text x="144.9" y="916.7" font-size="6.25" text-anchor="middle" fill="#2b2b2b" textLength="7.4" lengthAdjust="spacingAndGlyphs" stroke="#2b2b2b" stroke-width="0.18">13</text>
<line x1="170.4" y1="907.2" x2="170.4" y2="909.5" stroke="#6a7073" stroke-width="0.95"/>
<text x="170.4" y="916.7" font-size="6.25" text-anchor="middle" fill="#2b2b2b" textLength="7.4" lengthAdjust="spacingAndGlyphs" stroke="#2b2b2b" stroke-width="0.18">14</text>
<line x1="195.8" y1="907.2" x2="195.8" y2="909.5" stroke="#6a7073" stroke-width="0.95"/>
<text x="195.8" y="916.7" font-size="6.25" text-anchor="middle" fill="#2b2b2b" textLength="7.4" lengthAdjust="spacingAndGlyphs" stroke="#2b2b2b" stroke-width="0.18">15</text>
<line x1="221.3" y1="907.2" x2="221.3" y2="909.5" stroke="#6a7073" stroke-width="0.95"/>
<text x="221.3" y="916.7" font-size="6.25" text-anchor="middle" fill="#2b2b2b" textLength="7.4" lengthAdjust="spacingAndGlyphs" stroke="#2b2b2b" stroke-width="0.18">16</text>
<line x1="246.8" y1="907.2" x2="246.8" y2="909.5" stroke="#6a7073" stroke-width="0.95"/>
<text x="246.8" y="916.7" font-size="6.25" text-anchor="middle" fill="#2b2b2b" textLength="7.4" lengthAdjust="spacingAndGlyphs" stroke="#2b2b2b" stroke-width="0.18">17</text>
<line x1="272.3" y1="907.2" x2="272.3" y2="909.5" stroke="#6a7073" stroke-width="0.95"/>
<text x="272.3" y="916.7" font-size="6.25" text-anchor="middle" fill="#2b2b2b" textLength="7.4" lengthAdjust="spacingAndGlyphs" stroke="#2b2b2b" stroke-width="0.18">18</text>
<line x1="66.1" y1="889.7" x2="68.4" y2="889.7" stroke="#6a7073" stroke-width="0.95"/>
<text x="63.8" y="892" font-size="6.25" text-anchor="end" fill="#2b2b2b" textLength="3.7" lengthAdjust="spacingAndGlyphs" stroke="#2b2b2b" stroke-width="0.18">0</text>
<line x1="66.1" y1="822.9" x2="68.4" y2="822.9" stroke="#6a7073" stroke-width="0.95"/>
<text x="63.8" y="825.2" font-size="6.25" text-anchor="end" fill="#2b2b2b" textLength="3.7" lengthAdjust="spacingAndGlyphs" stroke="#2b2b2b" stroke-width="0.18">1</text>
<line x1="66.1" y1="756.1" x2="68.4" y2="756.1" stroke="#6a7073" stroke-width="0.95"/>
<text x="63.8" y="758.4" font-size="6.25" text-anchor="end" fill="#2b2b2b" textLength="3.7" lengthAdjust="spacingAndGlyphs" stroke="#2b2b2b" stroke-width="0.18">2</text>
<line x1="66.1" y1="689.3" x2="68.4" y2="689.3" stroke="#6a7073" stroke-width="0.95"/>
<text x="63.8" y="691.6" font-size="6.25" text-anchor="end" fill="#2b2b2b" textLength="3.7" lengthAdjust="spacingAndGlyphs" stroke="#2b2b2b" stroke-width="0.18">3</text>
<line x1="66.1" y1="622.5" x2="68.4" y2="622.5" stroke="#6a7073" stroke-width="0.95"/>
<text x="63.8" y="624.8" font-size="6.25" text-anchor="end" fill="#2b2b2b" textLength="3.7" lengthAdjust="spacingAndGlyphs" stroke="#2b2b2b" stroke-width="0.18">4</text>
<line x1="66.1" y1="555.7" x2="68.4" y2="555.7" stroke="#6a7073" stroke-width="0.95"/>
<text x="63.8" y="558" font-size="6.25" text-anchor="end" fill="#2b2b2b" textLength="3.7" lengthAdjust="spacingAndGlyphs" stroke="#2b2b2b" stroke-width="0.18">5</text>
<text x="69.2" y="516" font-size="6.25" text-anchor="start" fill="#2b2b2b" textLength="10.5" lengthAdjust="spacingAndGlyphs" stroke="#2b2b2b" stroke-width="0.18">1e7</text>
<rect x="73.4" y="523.4" width="13" height="4.5" fill="#d5edf5"/>
<rect x="73.4" y="532.7" width="13" height="4.5" fill="#fbcbe4"/>
<text x="91" y="527.2" font-size="6.25" text-anchor="start" fill="#2b2b2b" textLength="49.5" lengthAdjust="spacingAndGlyphs" stroke="#2b2b2b" stroke-width="0.18">Scans averaged</text>
<text x="91" y="536.9" font-size="6.25" text-anchor="start" fill="#2b2b2b" textLength="49.5" lengthAdjust="spacingAndGlyphs" stroke="#2b2b2b" stroke-width="0.18">Scans averaged</text>
<text x="169" y="510.1" font-size="16.6" text-anchor="middle" fill="#000" stroke="#000" stroke-width="0.3">XIC</text>
<text x="169.5" y="933.9" font-size="13.5" text-anchor="middle" fill="#000" stroke="#000" stroke-width="0.3">Time (min)</text>
<text x="52.3" y="712.2" font-size="16.4" text-anchor="middle" fill="#000" transform="rotate(-90 52.3 712.2)" stroke="#000" stroke-width="0.3">Abundance</text>
<line x1="381.4" y1="64.2" x2="381.4" y2="454.4" stroke="#6a7275" stroke-width="0.8"/>
<rect x="313.5" y="64.2" width="204.1" height="390.2" fill="none" stroke="#6a7073" stroke-width="0.95"/>
<path d="M313.5,454.4 313.75,454.4 314,454.4 314.25,454.4 314.5,454.4 314.75,454.4 315,454.4 315.25,454.4 315.5,454.4 315.75,454.4 316,454.4 316.25,454.4 316.5,454.4 316.75,454.4 317,454.4 317.25,454.4 317.5,454.4 317.75,454.4 318,454.4 318.25,454.4 318.5,454.4 318.75,454.4 319,454.4 319.25,454.4 319.5,454.4 319.75,454.4 320,454.4 320.25,454.4 320.5,454.4 320.75,454.4 321,454.4 321.25,454.4 321.5,454.4 321.75,454.4 322,454.4 322.25,454.4 322.5,454.4 322.75,454.4 323,454.4 323.25,454.4 323.5,454.4 323.75,454.4 324,454.4 324.25,454.4 324.5,454.4 324.75,454.4 325,454.4 325.25,454.4 325.5,454.4 325.75,454.4 326,454.4 326.25,454.4 326.5,454.4 326.75,454.4 327,454.4 327.25,454.4 327.5,454.4 327.75,454.4 328,454.4 328.25,454.4 328.5,454.4 328.75,454.4 329,454.4 329.25,454.4 329.5,454.4 329.75,454.4 330,454.4 330.25,454.4 330.5,454.4 330.75,454.4 331,454.4 331.25,454.4 331.5,454.4 331.75,454.4 332,454.4 332.25,454.4 332.5,454.4 332.75,454.4 333,454.4 333.25,454.4 333.5,454.4 333.75,454.4 334,454.4 334.25,454.4 334.5,454.4 334.75,454.4 335,454.4 335.25,454.4 335.5,454.4 335.75,454.4 336,454.4 336.25,454.4 336.5,454.4 336.75,454.4 337,454.4 337.25,454.4 337.5,454.4 337.75,454.4 338,454.4 338.25,454.4 338.5,454.4 338.75,454.4 339,454.4 339.25,454.4 339.5,454.4 339.75,454.4 340,454.4 340.25,454.4 340.5,454.4 340.75,454.4 341,454.4 341.25,454.4 341.5,454.4 341.75,454.4 342,454.4 342.25,454.4 342.5,454.4 342.75,454.4 343,454.4 343.25,454.4 343.5,454.4 343.75,454.4 344,454.4 344.25,454.4 344.5,454.4 344.75,454.4 345,454.4 345.25,454.4 345.5,454.4 345.75,454.4 346,454.4 346.25,454.4 346.5,454.4 346.75,454.4 347,454.4 347.25,454.4 347.5,454.4 347.75,454.4 348,454.4 348.25,454.4 348.5,454.4 348.75,454.4 349,454.4 349.25,454.4 349.5,454.4 349.75,454.4 350,454.4 350.25,454.4 350.5,454.4 350.75,454.4 351,454.4 351.25,454.4 351.5,454.4 351.75,454.4 352,454.4 352.25,454.4 352.5,454.4 352.75,454.4 353,454.4 353.25,454.4 353.5,454.4 353.75,454.4 354,454.4 354.25,454.4 354.5,454.4 354.75,454.4 355,454.4 355.25,454.4 355.5,454.4 355.75,454.4 356,454.4 356.25,454.4 356.5,454.4 356.75,454.4 357,454.4 357.25,454.4 357.5,454.4 357.75,454.4 358,454.4 358.25,454.4 358.5,454.4 358.75,454.4 359,454.4 359.25,454.4 359.5,454.4 359.75,454.4 360,454.4 360.25,454.4 360.5,454.4 360.75,454.4 361,454.4 361.25,454.4 361.5,454.4 361.75,454.4 362,454.4 362.25,454.4 362.5,454.4 362.75,454.4 363,454.4 363.25,454.4 363.5,454.4 363.75,454.4 364,454.4 364.25,454.4 364.5,454.4 364.75,454.4 365,454.4 365.25,454.4 365.5,454.4 365.75,454.4 366,454.4 366.25,454.4 366.5,454.4 366.75,454.4 367,454.4 367.25,454.4 367.5,454.4 367.75,454.4 368,454.39 368.25,454.37 368.5,454.34 368.75,454.31 369,454.28 369.25,454.23 369.5,454.18 369.75,454.13 370,454.06 370.25,453.99 370.5,453.86 370.75,453.63 371,453.34 371.25,453 371.5,452.6 371.75,452.02 372,451.28 372.25,450.43 372.5,449.52 372.75,448.62 373,447.69 373.25,446.64 373.5,445.38 373.75,443.81 374,441.77 374.25,438.4 374.5,433.69 374.75,427.86 375,421.12 375.25,413.68 375.5,404.76 375.75,392.83 376,378.7 376.25,363.21 376.5,347.21 376.75,331.57 377,316.16 377.25,299.72 377.5,282.91 377.75,266.44 378,251.03 378.25,237.05 378.5,223.58 378.75,210.64 379,198.33 379.25,186.79 379.5,176.14 379.75,166.28 380,156.71 380.25,148.06 380.5,141.12 380.75,136.06 381,131.66 381.25,129.31 381.5,130.24 381.75,133.8 382,138.99 382.25,151.08 382.5,171.31 382.75,192.65 383,208.85 383.25,222.71 383.5,235.7 383.75,247.88 384,259.32 384.25,270.06 384.5,280.3 384.75,290.9 385,301.36 385.25,310.86 385.5,318.57 385.75,323.69 386,326.53 386.25,328.87 386.5,330.41 386.75,330.77 387,328.56 387.25,324.1 387.5,318.51 387.75,312.26 388,303.6 388.25,292.92 388.5,280.86 388.75,268.08 389,255.22 389.25,242.87 389.5,229.49 389.75,215.02 390,200.54 390.25,187.11 390.5,175.83 390.75,167.14 391,159.41 391.25,153.05 391.5,148.74 391.75,145.87 392,144.52 392.25,146.17 392.5,150.11 392.75,156.16 393,167.21 393.25,180.1 393.5,192.75 393.75,206.66 394,221.32 394.25,236.12 394.5,250.43 394.75,263.67 395,275.82 395.25,287.74 395.5,299.23 395.75,310.03 396,319.89 396.25,328.56 396.5,336.43 396.75,343.95 397,350.99 397.25,357.4 397.5,363.06 397.75,367.81 398,371.6 398.25,374.85 398.5,377.74 398.75,380.34 399,382.7 399.25,384.89 399.5,386.96 399.75,388.97 400,390.99 400.25,392.99 400.5,394.89 400.75,396.71 401,398.46 401.25,400.15 401.5,401.8 401.75,403.42 402,405.02 402.25,406.61 402.5,408.21 402.75,409.82 403,411.46 403.25,413.15 403.5,414.9 403.75,416.7 404,418.53 404.25,420.36 404.5,422.18 404.75,423.97 405,425.71 405.25,427.38 405.5,428.96 405.75,430.42 406,431.76 406.25,432.94 406.5,434.03 406.75,435.09 407,436.13 407.25,437.12 407.5,438.08 407.75,438.98 408,439.83 408.25,440.63 408.5,441.35 408.75,442.01 409,442.59 409.25,443.09 409.5,443.5 409.75,443.89 410,444.25 410.25,444.6 410.5,444.93 410.75,445.25 411,445.55 411.25,445.83 411.5,446.1 411.75,446.36 412,446.6 412.25,446.83 412.5,447.05 412.75,447.26 413,447.46 413.25,447.65 413.5,447.83 413.75,448.01 414,448.17 414.25,448.33 414.5,448.49 414.75,448.64 415,448.78 415.25,448.93 415.5,449.07 415.75,449.22 416,449.36 416.25,449.49 416.5,449.62 416.75,449.75 417,449.88 417.25,450 417.5,450.12 417.75,450.23 418,450.34 418.25,450.44 418.5,450.54 418.75,450.63 419,450.72 419.25,450.8 419.5,450.88 419.75,450.94 420,451 420.25,451.06 420.5,451.1 420.75,451.14 421,451.17 421.25,451.2 421.5,451.23 421.75,451.26 422,451.28 422.25,451.3 422.5,451.32 422.75,451.34 423,451.36 423.25,451.37 423.5,451.39 423.75,451.4 424,451.42 424.25,451.43 424.5,451.45 424.75,451.46 425,451.48 425.25,451.49 425.5,451.51 425.75,451.52 426,451.54 426.25,451.56 426.5,451.58 426.75,451.6 427,451.63 427.25,451.65 427.5,451.68 427.75,451.71 428,451.74 428.25,451.77 428.5,451.81 428.75,451.84 429,451.88 429.25,451.92 429.5,451.95 429.75,451.99 430,452.04 430.25,452.08 430.5,452.12 430.75,452.16 431,452.21 431.25,452.25 431.5,452.3 431.75,452.34 432,452.39 432.25,452.43 432.5,452.48 432.75,452.53 433,452.57 433.25,452.62 433.5,452.66 433.75,452.71 434,452.75 434.25,452.79 434.5,452.84 434.75,452.88 435,452.92 435.25,452.96 435.5,453 435.75,453.04 436,453.07 436.25,453.11 436.5,453.14 436.75,453.17 437,453.21 437.25,453.23 437.5,453.26 437.75,453.29 438,453.31 438.25,453.34 438.5,453.37 438.75,453.39 439,453.42 439.25,453.45 439.5,453.47 439.75,453.5 440,453.53 440.25,453.55 440.5,453.58 440.75,453.6 441,453.63 441.25,453.65 441.5,453.68 441.75,453.7 442,453.73 442.25,453.75 442.5,453.78 442.75,453.8 443,453.82 443.25,453.85 443.5,453.87 443.75,453.89 444,453.91 444.25,453.93 444.5,453.95 444.75,453.97 445,453.99 445.25,454.01 445.5,454.03 445.75,454.05 446,454.06 446.25,454.08 446.5,454.1 446.75,454.11 447,454.13 447.25,454.14 447.5,454.15 447.75,454.17 448,454.18 448.25,454.19 448.5,454.2 448.75,454.21 449,454.21 449.25,454.22 449.5,454.23 449.75,454.23 450,454.24 450.25,454.24 450.5,454.25 450.75,454.25 451,454.25 451.25,454.26 451.5,454.26 451.75,454.26 452,454.27 452.25,454.27 452.5,454.27 452.75,454.28 453,454.28 453.25,454.28 453.5,454.29 453.75,454.29 454,454.29 454.25,454.3 454.5,454.3 454.75,454.3 455,454.31 455.25,454.31 455.5,454.31 455.75,454.32 456,454.32 456.25,454.32 456.5,454.32 456.75,454.33 457,454.33 457.25,454.33 457.5,454.33 457.75,454.34 458,454.34 458.25,454.34 458.5,454.34 458.75,454.35 459,454.35 459.25,454.35 459.5,454.35 459.75,454.36 460,454.36 460.25,454.36 460.5,454.36 460.75,454.36 461,454.37 461.25,454.37 461.5,454.37 461.75,454.37 462,454.37 462.25,454.37 462.5,454.38 462.75,454.38 463,454.38 463.25,454.38 463.5,454.38 463.75,454.38 464,454.38 464.25,454.39 464.5,454.39 464.75,454.39 465,454.39 465.25,454.39 465.5,454.39 465.75,454.39 466,454.39 466.25,454.39 466.5,454.39 466.75,454.4 467,454.4 467.25,454.4 467.5,454.4 467.75,454.4 468,454.4 468.25,454.4 468.5,454.4 468.75,454.4 469,454.4 469.25,454.4 469.5,454.4 469.75,454.4 470,454.4 470.25,454.4 470.5,454.4 470.75,454.4 471,454.4 471.25,454.4 471.5,454.4 471.75,454.4 472,454.4 472.25,454.4 472.5,454.4 472.75,454.4 473,454.4 473.25,454.4 473.5,454.4 473.75,454.4 474,454.4 474.25,454.4 474.5,454.4 474.75,454.4 475,454.4 475.25,454.4 475.5,454.4 475.75,454.4 476,454.4 476.25,454.4 476.5,454.4 476.75,454.4 477,454.4 477.25,454.4 477.5,454.4 477.75,454.4 478,454.4 478.25,454.4 478.5,454.4 478.75,454.4 479,454.4 479.25,454.4 479.5,454.4 479.75,454.4 480,454.4 480.25,454.4 480.5,454.4 480.75,454.4 481,454.4 481.25,454.4 481.5,454.4 481.75,454.4 482,454.4 482.25,454.4 482.5,454.4 482.75,454.4 483,454.4 483.25,454.4 483.5,454.4 483.75,454.4 484,454.4 484.25,454.4 484.5,454.4 484.75,454.4 485,454.4 485.25,454.4 485.5,454.4 485.75,454.4 486,454.4 486.25,454.4 486.5,454.4 486.75,454.4 487,454.4 487.25,454.4 487.5,454.4 487.75,454.4 488,454.4 488.25,454.4 488.5,454.4 488.75,454.4 489,454.4 489.25,454.4 489.5,454.4 489.75,454.4 490,454.4 490.25,454.4 490.5,454.4 490.75,454.4 491,454.4 491.25,454.4 491.5,454.4 491.75,454.4 492,454.4 492.25,454.4 492.5,454.4 492.75,454.4 493,454.4 493.25,454.4 493.5,454.4 493.75,454.4 494,454.4 494.25,454.4 494.5,454.4 494.75,454.4 495,454.4 495.25,454.4 495.5,454.4 495.75,454.4 496,454.4 496.25,454.4 496.5,454.4 496.75,454.4 497,454.4 497.25,454.4 497.5,454.4 497.75,454.4 498,454.4 498.25,454.4 498.5,454.4 498.75,454.4 499,454.4 499.25,454.4 499.5,454.4 499.75,454.4 500,454.4 500.25,454.4 500.5,454.4 500.75,454.4 501,454.4 501.25,454.4 501.5,454.4 501.75,454.4 502,454.4 502.25,454.4 502.5,454.4 502.75,454.4 503,454.4 503.25,454.4 503.5,454.4 503.75,454.4 504,454.4 504.25,454.4 504.5,454.4 504.75,454.4 505,454.4 505.25,454.4 505.5,454.4 505.75,454.4 506,454.4 506.25,454.4 506.5,454.4 506.75,454.4 507,454.4 507.25,454.4 507.5,454.4 507.75,454.4 508,454.4 508.25,454.4 508.5,454.4 508.75,454.4 509,454.4 509.25,454.4 509.5,454.4 509.75,454.4 510,454.4 510.25,454.4 510.5,454.4 510.75,454.4 511,454.4 511.25,454.4 511.5,454.4 511.75,454.4 512,454.4 512.25,454.4 512.5,454.4 512.75,454.4 513,454.4 513.25,454.4 513.5,454.4 513.75,454.4 514,454.4 514.25,454.4 514.5,454.4 514.75,454.4 515,454.4 515.25,454.4 515.5,454.4 515.75,454.4 516,454.4 516.25,454.4 516.5,454.4 516.75,454.4 517,454.4 517.25,454.4 517.5,454.4" fill="none" stroke="#161616" stroke-width="1.2" stroke-linejoin="round"/>
<line x1="315.3" y1="454.4" x2="315.3" y2="456.7" stroke="#6a7073" stroke-width="0.95"/>
<text x="315.3" y="463.8" font-size="6.25" text-anchor="middle" fill="#2b2b2b" textLength="18.6" lengthAdjust="spacingAndGlyphs" stroke="#2b2b2b" stroke-width="0.18">54800</text>
<line x1="342.6" y1="454.4" x2="342.6" y2="456.7" stroke="#6a7073" stroke-width="0.95"/>
<text x="342.6" y="463.8" font-size="6.25" text-anchor="middle" fill="#2b2b2b" textLength="18.6" lengthAdjust="spacingAndGlyphs" stroke="#2b2b2b" stroke-width="0.18">55000</text>
<line x1="369.9" y1="454.4" x2="369.9" y2="456.7" stroke="#6a7073" stroke-width="0.95"/>
<text x="369.9" y="463.8" font-size="6.25" text-anchor="middle" fill="#2b2b2b" textLength="18.6" lengthAdjust="spacingAndGlyphs" stroke="#2b2b2b" stroke-width="0.18">55200</text>
<line x1="397.2" y1="454.4" x2="397.2" y2="456.7" stroke="#6a7073" stroke-width="0.95"/>
<text x="397.2" y="463.8" font-size="6.25" text-anchor="middle" fill="#2b2b2b" textLength="18.6" lengthAdjust="spacingAndGlyphs" stroke="#2b2b2b" stroke-width="0.18">55400</text>
<line x1="424.5" y1="454.4" x2="424.5" y2="456.7" stroke="#6a7073" stroke-width="0.95"/>
<text x="424.5" y="463.8" font-size="6.25" text-anchor="middle" fill="#2b2b2b" textLength="18.6" lengthAdjust="spacingAndGlyphs" stroke="#2b2b2b" stroke-width="0.18">55600</text>
<line x1="451.8" y1="454.4" x2="451.8" y2="456.7" stroke="#6a7073" stroke-width="0.95"/>
<text x="451.8" y="463.8" font-size="6.25" text-anchor="middle" fill="#2b2b2b" textLength="18.6" lengthAdjust="spacingAndGlyphs" stroke="#2b2b2b" stroke-width="0.18">55800</text>
<line x1="479.1" y1="454.4" x2="479.1" y2="456.7" stroke="#6a7073" stroke-width="0.95"/>
<text x="479.1" y="463.8" font-size="6.25" text-anchor="middle" fill="#2b2b2b" textLength="18.6" lengthAdjust="spacingAndGlyphs" stroke="#2b2b2b" stroke-width="0.18">56000</text>
<line x1="506.4" y1="454.4" x2="506.4" y2="456.7" stroke="#6a7073" stroke-width="0.95"/>
<text x="506.4" y="463.8" font-size="6.25" text-anchor="middle" fill="#2b2b2b" textLength="18.6" lengthAdjust="spacingAndGlyphs" stroke="#2b2b2b" stroke-width="0.18">56200</text>
<line x1="311.2" y1="454.4" x2="313.5" y2="454.4" stroke="#6a7073" stroke-width="0.95"/>
<text x="308.9" y="456.6" font-size="6.25" text-anchor="end" fill="#2b2b2b" textLength="3.7" lengthAdjust="spacingAndGlyphs" stroke="#2b2b2b" stroke-width="0.18">0</text>
<line x1="311.2" y1="389.4" x2="313.5" y2="389.4" stroke="#6a7073" stroke-width="0.95"/>
<text x="308.9" y="391.6" font-size="6.25" text-anchor="end" fill="#2b2b2b" textLength="7.4" lengthAdjust="spacingAndGlyphs" stroke="#2b2b2b" stroke-width="0.18">20</text>
<line x1="311.2" y1="324.3" x2="313.5" y2="324.3" stroke="#6a7073" stroke-width="0.95"/>
<text x="308.9" y="326.6" font-size="6.25" text-anchor="end" fill="#2b2b2b" textLength="7.4" lengthAdjust="spacingAndGlyphs" stroke="#2b2b2b" stroke-width="0.18">40</text>
<line x1="311.2" y1="259.3" x2="313.5" y2="259.3" stroke="#6a7073" stroke-width="0.95"/>
<text x="308.9" y="261.5" font-size="6.25" text-anchor="end" fill="#2b2b2b" textLength="7.4" lengthAdjust="spacingAndGlyphs" stroke="#2b2b2b" stroke-width="0.18">60</text>
<line x1="311.2" y1="194.3" x2="313.5" y2="194.3" stroke="#6a7073" stroke-width="0.95"/>
<text x="308.9" y="196.5" font-size="6.25" text-anchor="end" fill="#2b2b2b" textLength="7.4" lengthAdjust="spacingAndGlyphs" stroke="#2b2b2b" stroke-width="0.18">80</text>
<line x1="311.2" y1="129.2" x2="313.5" y2="129.2" stroke="#6a7073" stroke-width="0.95"/>
<text x="308.9" y="131.5" font-size="6.25" text-anchor="end" fill="#2b2b2b" textLength="11.2" lengthAdjust="spacingAndGlyphs" stroke="#2b2b2b" stroke-width="0.18">100</text>
<line x1="311.2" y1="64.2" x2="313.5" y2="64.2" stroke="#6a7073" stroke-width="0.95"/>
<text x="308.9" y="66.4" font-size="6.25" text-anchor="end" fill="#2b2b2b" textLength="11.2" lengthAdjust="spacingAndGlyphs" stroke="#2b2b2b" stroke-width="0.18">120</text>
<text x="415.2" y="56.8" font-size="16.55" text-anchor="middle" fill="#000" stroke="#000" stroke-width="0.3">Deconvolution</text>
<text x="409.5" y="481" font-size="13.5" text-anchor="middle" fill="#000" stroke="#000" stroke-width="0.3">Mass (Da)</text>
<text x="295.5" y="257.3" font-size="16.3" text-anchor="middle" fill="#000" transform="rotate(-90 295.5 257.3)" stroke="#000" stroke-width="0.3">Intensity</text>
<line x1="434.5" y1="71.8" x2="447.5" y2="71.8" stroke="#1a1a1a" stroke-width="0.95"/>
<line x1="434.5" y1="80.9" x2="447.5" y2="80.9" stroke="#6a7275" stroke-width="0.8"/>
<line x1="434.5" y1="90.5" x2="447.5" y2="90.5" stroke="#b9c1c4" stroke-width="1" stroke-dasharray="3.2 1.6"/>
<text x="452.7" y="74.1" font-size="6.25" text-anchor="start" fill="#2b2b2b" textLength="44.3" lengthAdjust="spacingAndGlyphs" stroke="#2b2b2b" stroke-width="0.18">Deconvolution</text>
<text x="452.7" y="83.2" font-size="6.25" text-anchor="start" fill="#2b2b2b" textLength="35" lengthAdjust="spacingAndGlyphs" stroke="#2b2b2b" stroke-width="0.18">Intact Peak</text>
<text x="452.7" y="92.8" font-size="6.25" text-anchor="start" fill="#2b2b2b" textLength="59.5" lengthAdjust="spacingAndGlyphs" stroke="#2b2b2b" stroke-width="0.18">Intact Peak + ΔMW</text>
<line x1="381.4" y1="128.9" x2="402.6" y2="102" stroke="#1a1a1a" stroke-width="0.85"/>
<circle cx="381.4" cy="128.9" r="2.1" fill="#111"/>
<text x="395.2" y="98" font-size="13.4" text-anchor="start" fill="#111" stroke="#111" stroke-width="0.25">55283</text>
<line x1="392" y1="144.5" x2="412.8" y2="118.9" stroke="#1a1a1a" stroke-width="0.85"/>
<circle cx="392" cy="144.5" r="2.1" fill="#111"/>
<text x="411" y="115.4" font-size="13.4" text-anchor="start" fill="#111" stroke="#111" stroke-width="0.25">55362</text>
<line x1="626.5" y1="64.2" x2="626.5" y2="454.4" stroke="#6a7275" stroke-width="0.8"/>
<rect x="558.5" y="64.2" width="203.8" height="390.2" fill="none" stroke="#6a7073" stroke-width="0.95"/>
<path d="M558.5,453.59 558.75,453.6 559,453.61 559.25,453.63 559.5,453.64 559.75,453.65 560,453.67 560.25,453.68 560.5,453.69 560.75,453.71 561,453.72 561.25,453.73 561.5,453.74 561.75,453.76 562,453.77 562.25,453.78 562.5,453.8 562.75,453.81 563,453.82 563.25,453.83 563.5,453.85 563.75,453.86 564,453.87 564.25,453.88 564.5,453.89 564.75,453.91 565,453.92 565.25,453.93 565.5,453.94 565.75,453.95 566,453.96 566.25,453.97 566.5,453.99 566.75,454 567,454.01 567.25,454.02 567.5,454.03 567.75,454.04 568,454.05 568.25,454.06 568.5,454.07 568.75,454.08 569,454.09 569.25,454.1 569.5,454.1 569.75,454.11 570,454.12 570.25,454.13 570.5,454.14 570.75,454.15 571,454.15 571.25,454.16 571.5,454.17 571.75,454.17 572,454.18 572.25,454.19 572.5,454.19 572.75,454.2 573,454.2 573.25,454.21 573.5,454.21 573.75,454.22 574,454.22 574.25,454.23 574.5,454.23 574.75,454.23 575,454.24 575.25,454.24 575.5,454.24 575.75,454.25 576,454.25 576.25,454.25 576.5,454.25 576.75,454.26 577,454.26 577.25,454.26 577.5,454.27 577.75,454.27 578,454.27 578.25,454.27 578.5,454.28 578.75,454.28 579,454.28 579.25,454.28 579.5,454.29 579.75,454.29 580,454.29 580.25,454.29 580.5,454.3 580.75,454.3 581,454.3 581.25,454.3 581.5,454.31 581.75,454.31 582,454.31 582.25,454.31 582.5,454.32 582.75,454.32 583,454.32 583.25,454.32 583.5,454.32 583.75,454.33 584,454.33 584.25,454.33 584.5,454.33 584.75,454.33 585,454.34 585.25,454.34 585.5,454.34 585.75,454.34 586,454.34 586.25,454.35 586.5,454.35 586.75,454.35 587,454.35 587.25,454.35 587.5,454.36 587.75,454.36 588,454.36 588.25,454.36 588.5,454.36 588.75,454.36 589,454.37 589.25,454.37 589.5,454.37 589.75,454.37 590,454.37 590.25,454.37 590.5,454.37 590.75,454.38 591,454.38 591.25,454.38 591.5,454.38 591.75,454.38 592,454.38 592.25,454.38 592.5,454.38 592.75,454.38 593,454.39 593.25,454.39 593.5,454.39 593.75,454.39 594,454.39 594.25,454.39 594.5,454.39 594.75,454.39 595,454.39 595.25,454.39 595.5,454.39 595.75,454.39 596,454.4 596.25,454.4 596.5,454.4 596.75,454.4 597,454.4 597.25,454.4 597.5,454.4 597.75,454.4 598,454.4 598.25,454.4 598.5,454.4 598.75,454.4 599,454.4 599.25,454.4 599.5,454.4 599.75,454.4 600,454.4 600.25,454.4 600.5,454.39 600.75,454.38 601,454.37 601.25,454.35 601.5,454.33 601.75,454.31 602,454.29 602.25,454.26 602.5,454.23 602.75,454.19 603,454.15 603.25,454.12 603.5,454.08 603.75,454.03 604,453.99 604.25,453.94 604.5,453.89 604.75,453.83 605,453.75 605.25,453.65 605.5,453.54 605.75,453.41 606,453.27 606.25,453.11 606.5,452.94 606.75,452.76 607,452.56 607.25,452.35 607.5,452.12 607.75,451.86 608,451.54 608.25,451.16 608.5,450.72 608.75,450.23 609,449.68 609.25,449.07 609.5,448.41 609.75,447.69 610,446.92 610.25,446.03 610.5,444.94 610.75,443.68 611,442.23 611.25,440.61 611.5,438.83 611.75,436.88 612,434.78 612.25,432.53 612.5,430.14 612.75,427.61 613,424.77 613.25,421.29 613.5,417.24 613.75,412.69 614,407.71 614.25,402.38 614.5,396.76 614.75,390.93 615,384.96 615.25,378.93 615.5,372.9 615.75,366.85 616,360.45 616.25,353.7 616.5,346.65 616.75,339.36 617,331.88 617.25,324.26 617.5,316.56 617.75,308.83 618,301.11 618.25,293.48 618.5,285.96 618.75,278.4 619,270.61 619.25,262.67 619.5,254.65 619.75,246.63 620,238.67 620.25,230.85 620.5,223.23 620.75,215.9 621,208.91 621.25,202.35 621.5,196.09 621.75,189.81 622,183.57 622.25,177.43 622.5,171.47 622.75,165.74 623,160.33 623.25,155.29 623.5,150.7 623.75,146.63 624,143.13 624.25,140.19 624.5,137.49 624.75,135.09 625,133.12 625.25,131.71 625.5,130.76 625.75,129.94 626,129.39 626.25,129.25 626.5,129.62 626.75,130.43 627,131.51 627.25,132.75 627.5,134.58 627.75,137.13 628,140.25 628.25,143.78 628.5,147.87 628.75,153.04 629,159.15 629.25,166.04 629.5,173.56 629.75,181.56 630,189.87 630.25,198.36 630.5,206.85 630.75,215.2 631,223.26 631.25,230.88 631.5,238.47 631.75,246.22 632,254.08 632.25,262 632.5,269.91 632.75,277.77 633,285.51 633.25,293.09 633.5,300.44 633.75,307.51 634,314.25 634.25,320.82 634.5,327.38 634.75,333.89 635,340.29 635.25,346.54 635.5,352.59 635.75,358.39 636,363.9 636.25,369.06 636.5,373.83 636.75,378.15 637,382.15 637.25,386.08 637.5,389.93 637.75,393.65 638,397.2 638.25,400.54 638.5,403.62 638.75,406.4 639,408.85 639.25,410.92 639.5,412.57 639.75,413.83 640,414.97 640.25,416 640.5,416.93 640.75,417.73 641,418.39 641.25,418.92 641.5,419.28 641.75,419.56 642,419.8 642.25,419.99 642.5,420.09 642.75,420.07 643,419.92 643.25,419.68 643.5,419.36 643.75,419 644,418.63 644.25,418.18 644.5,417.59 644.75,416.91 645,416.18 645.25,415.45 645.5,414.77 645.75,414.18 646,413.67 646.25,413.14 646.5,412.62 646.75,412.14 647,411.72 647.25,411.4 647.5,411.19 647.75,411.11 648,411.06 648.25,411.01 648.5,410.99 648.75,411.03 649,411.24 649.25,411.57 649.5,411.97 649.75,412.4 650,412.97 650.25,413.65 650.5,414.42 650.75,415.22 651,416.03 651.25,416.92 651.5,417.89 651.75,418.92 652,419.99 652.25,421.09 652.5,422.19 652.75,423.29 653,424.37 653.25,425.4 653.5,426.37 653.75,427.26 654,428.12 654.25,428.99 654.5,429.84 654.75,430.69 655,431.53 655.25,432.36 655.5,433.16 655.75,433.96 656,434.72 656.25,435.47 656.5,436.19 656.75,436.87 657,437.53 657.25,438.15 657.5,438.73 657.75,439.27 658,439.77 658.25,440.24 658.5,440.7 658.75,441.15 659,441.59 659.25,442.02 659.5,442.44 659.75,442.84 660,443.24 660.25,443.62 660.5,444 660.75,444.35 661,444.7 661.25,445.03 661.5,445.35 661.75,445.65 662,445.94 662.25,446.21 662.5,446.47 662.75,446.71 663,446.94 663.25,447.15 663.5,447.34 663.75,447.51 664,447.69 664.25,447.85 664.5,448.02 664.75,448.18 665,448.34 665.25,448.5 665.5,448.65 665.75,448.8 666,448.95 666.25,449.09 666.5,449.23 666.75,449.36 667,449.5 667.25,449.63 667.5,449.75 667.75,449.88 668,450 668.25,450.11 668.5,450.23 668.75,450.34 669,450.44 669.25,450.55 669.5,450.65 669.75,450.74 670,450.84 670.25,450.93 670.5,451.02 670.75,451.1 671,451.18 671.25,451.26 671.5,451.33 671.75,451.4 672,451.47 672.25,451.53 672.5,451.59 672.75,451.65 673,451.7 673.25,451.75 673.5,451.8 673.75,451.84 674,451.89 674.25,451.93 674.5,451.97 674.75,452.02 675,452.06 675.25,452.1 675.5,452.14 675.75,452.18 676,452.22 676.25,452.26 676.5,452.3 676.75,452.33 677,452.37 677.25,452.41 677.5,452.44 677.75,452.48 678,452.51 678.25,452.55 678.5,452.58 678.75,452.62 679,452.65 679.25,452.68 679.5,452.71 679.75,452.74 680,452.77 680.25,452.8 680.5,452.83 680.75,452.86 681,452.89 681.25,452.92 681.5,452.94 681.75,452.97 682,453 682.25,453.02 682.5,453.05 682.75,453.07 683,453.1 683.25,453.12 683.5,453.14 683.75,453.17 684,453.19 684.25,453.21 684.5,453.23 684.75,453.25 685,453.27 685.25,453.29 685.5,453.31 685.75,453.33 686,453.35 686.25,453.36 686.5,453.38 686.75,453.4 687,453.41 687.25,453.43 687.5,453.44 687.75,453.46 688,453.47 688.25,453.49 688.5,453.5 688.75,453.51 689,453.53 689.25,453.54 689.5,453.55 689.75,453.56 690,453.57 690.25,453.58 690.5,453.59 690.75,453.6 691,453.61 691.25,453.62 691.5,453.63 691.75,453.64 692,453.65 692.25,453.66 692.5,453.67 692.75,453.68 693,453.68 693.25,453.69 693.5,453.7 693.75,453.71 694,453.72 694.25,453.73 694.5,453.74 694.75,453.75 695,453.76 695.25,453.76 695.5,453.77 695.75,453.78 696,453.79 696.25,453.8 696.5,453.81 696.75,453.82 697,453.82 697.25,453.83 697.5,453.84 697.75,453.85 698,453.86 698.25,453.86 698.5,453.87 698.75,453.88 699,453.89 699.25,453.9 699.5,453.9 699.75,453.91 700,453.92 700.25,453.92 700.5,453.93 700.75,453.94 701,453.95 701.25,453.95 701.5,453.96 701.75,453.97 702,453.97 702.25,453.98 702.5,453.99 702.75,453.99 703,454 703.25,454.01 703.5,454.01 703.75,454.02 704,454.03 704.25,454.03 704.5,454.04 704.75,454.04 705,454.05 705.25,454.06 705.5,454.06 705.75,454.07 706,454.07 706.25,454.08 706.5,454.08 706.75,454.09 707,454.1 707.25,454.1 707.5,454.11 707.75,454.11 708,454.12 708.25,454.12 708.5,454.12 708.75,454.13 709,454.13 709.25,454.14 709.5,454.14 709.75,454.15 710,454.15 710.25,454.16 710.5,454.16 710.75,454.16 711,454.17 711.25,454.17 711.5,454.17 711.75,454.18 712,454.18 712.25,454.18 712.5,454.19 712.75,454.19 713,454.19 713.25,454.2 713.5,454.2 713.75,454.2 714,454.21 714.25,454.21 714.5,454.21 714.75,454.21 715,454.22 715.25,454.22 715.5,454.22 715.75,454.22 716,454.22 716.25,454.22 716.5,454.23 716.75,454.23 717,454.23 717.25,454.23 717.5,454.23 717.75,454.23 718,454.23 718.25,454.23 718.5,454.24 718.75,454.24 719,454.24 719.25,454.24 719.5,454.24 719.75,454.24 720,454.24 720.25,454.24 720.5,454.24 720.75,454.24 721,454.24 721.25,454.24 721.5,454.24 721.75,454.24 722,454.24 722.25,454.23 722.5,454.23 722.75,454.23 723,454.23 723.25,454.23 723.5,454.23 723.75,454.23 724,454.23 724.25,454.23 724.5,454.23 724.75,454.23 725,454.22 725.25,454.22 725.5,454.22 725.75,454.22 726,454.22 726.25,454.22 726.5,454.21 726.75,454.21 727,454.21 727.25,454.21 727.5,454.21 727.75,454.2 728,454.2 728.25,454.2 728.5,454.2 728.75,454.19 729,454.19 729.25,454.19 729.5,454.18 729.75,454.18 730,454.18 730.25,454.17 730.5,454.17 730.75,454.17 731,454.16 731.25,454.16 731.5,454.16 731.75,454.15 732,454.15 732.25,454.14 732.5,454.14 732.75,454.13 733,454.13 733.25,454.12 733.5,454.12 733.75,454.11 734,454.11 734.25,454.1 734.5,454.1 734.75,454.09 735,454.09 735.25,454.08 735.5,454.07 735.75,454.06 736,454.04 736.25,454.01 736.5,453.98 736.75,453.93 737,453.88 737.25,453.82 737.5,453.76 737.75,453.69 738,453.61 738.25,453.53 738.5,453.45 738.75,453.37 739,453.28 739.25,453.2 739.5,453.11 739.75,453.02 740,452.94 740.25,452.85 740.5,452.75 740.75,452.65 741,452.54 741.25,452.42 741.5,452.3 741.75,452.17 742,452.03 742.25,451.9 742.5,451.75 742.75,451.61 743,451.46 743.25,451.3 743.5,451.15 743.75,450.99 744,450.82 744.25,450.65 744.5,450.46 744.75,450.26 745,450.05 745.25,449.82 745.5,449.59 745.75,449.35 746,449.11 746.25,448.86 746.5,448.62 746.75,448.38 747,448.14 747.25,447.91 747.5,447.69 747.75,447.48 748,447.28 748.25,447.09 748.5,446.92 748.75,446.76 749,446.59 749.25,446.41 749.5,446.24 749.75,446.07 750,445.9 750.25,445.73 750.5,445.58 750.75,445.44 751,445.31 751.25,445.2 751.5,445.11 751.75,445.04 752,444.99 752.25,444.97 752.5,444.98 752.75,445 753,445.04 753.25,445.09 753.5,445.16 753.75,445.24 754,445.33 754.25,445.42 754.5,445.52 754.75,445.63 755,445.73 755.25,445.84 755.5,445.95 755.75,446.06 756,446.18 756.25,446.33 756.5,446.48 756.75,446.64 757,446.8 757.25,446.98 757.5,447.15 757.75,447.33 758,447.5 758.25,447.67 758.5,447.85 758.75,448.03 759,448.21 759.25,448.39 759.5,448.57 759.75,448.76 760,448.95 760.25,449.14 760.5,449.34 760.75,449.53 761,449.74 761.25,449.94 761.5,450.14 761.75,450.35 762,450.57 762.25,450.78" fill="none" stroke="#161616" stroke-width="1.2" stroke-linejoin="round"/>
<line x1="572.3" y1="454.4" x2="572.3" y2="456.7" stroke="#6a7073" stroke-width="0.95"/>
<text x="572.3" y="463.8" font-size="6.25" text-anchor="middle" fill="#2b2b2b" textLength="18.6" lengthAdjust="spacingAndGlyphs" stroke="#2b2b2b" stroke-width="0.18">95800</text>
<line x1="599.4" y1="454.4" x2="599.4" y2="456.7" stroke="#6a7073" stroke-width="0.95"/>
<text x="599.4" y="463.8" font-size="6.25" text-anchor="middle" fill="#2b2b2b" textLength="18.6" lengthAdjust="spacingAndGlyphs" stroke="#2b2b2b" stroke-width="0.18">96000</text>
<line x1="626.6" y1="454.4" x2="626.6" y2="456.7" stroke="#6a7073" stroke-width="0.95"/>
<text x="626.6" y="463.8" font-size="6.25" text-anchor="middle" fill="#2b2b2b" textLength="18.6" lengthAdjust="spacingAndGlyphs" stroke="#2b2b2b" stroke-width="0.18">96200</text>
<line x1="653.7" y1="454.4" x2="653.7" y2="456.7" stroke="#6a7073" stroke-width="0.95"/>
<text x="653.7" y="463.8" font-size="6.25" text-anchor="middle" fill="#2b2b2b" textLength="18.6" lengthAdjust="spacingAndGlyphs" stroke="#2b2b2b" stroke-width="0.18">96400</text>
<line x1="680.9" y1="454.4" x2="680.9" y2="456.7" stroke="#6a7073" stroke-width="0.95"/>
<text x="680.9" y="463.8" font-size="6.25" text-anchor="middle" fill="#2b2b2b" textLength="18.6" lengthAdjust="spacingAndGlyphs" stroke="#2b2b2b" stroke-width="0.18">96600</text>
<line x1="708" y1="454.4" x2="708" y2="456.7" stroke="#6a7073" stroke-width="0.95"/>
<text x="708" y="463.8" font-size="6.25" text-anchor="middle" fill="#2b2b2b" textLength="18.6" lengthAdjust="spacingAndGlyphs" stroke="#2b2b2b" stroke-width="0.18">96800</text>
<line x1="735.2" y1="454.4" x2="735.2" y2="456.7" stroke="#6a7073" stroke-width="0.95"/>
<text x="735.2" y="463.8" font-size="6.25" text-anchor="middle" fill="#2b2b2b" textLength="18.6" lengthAdjust="spacingAndGlyphs" stroke="#2b2b2b" stroke-width="0.18">97000</text>
<line x1="762.3" y1="454.4" x2="762.3" y2="456.7" stroke="#6a7073" stroke-width="0.95"/>
<text x="762.3" y="463.8" font-size="6.25" text-anchor="middle" fill="#2b2b2b" textLength="18.6" lengthAdjust="spacingAndGlyphs" stroke="#2b2b2b" stroke-width="0.18">97200</text>
<line x1="556.2" y1="454.4" x2="558.5" y2="454.4" stroke="#6a7073" stroke-width="0.95"/>
<text x="553.9" y="456.6" font-size="6.25" text-anchor="end" fill="#2b2b2b" textLength="3.7" lengthAdjust="spacingAndGlyphs" stroke="#2b2b2b" stroke-width="0.18">0</text>
<line x1="556.2" y1="389.4" x2="558.5" y2="389.4" stroke="#6a7073" stroke-width="0.95"/>
<text x="553.9" y="391.6" font-size="6.25" text-anchor="end" fill="#2b2b2b" textLength="7.4" lengthAdjust="spacingAndGlyphs" stroke="#2b2b2b" stroke-width="0.18">20</text>
<line x1="556.2" y1="324.3" x2="558.5" y2="324.3" stroke="#6a7073" stroke-width="0.95"/>
<text x="553.9" y="326.6" font-size="6.25" text-anchor="end" fill="#2b2b2b" textLength="7.4" lengthAdjust="spacingAndGlyphs" stroke="#2b2b2b" stroke-width="0.18">40</text>
<line x1="556.2" y1="259.3" x2="558.5" y2="259.3" stroke="#6a7073" stroke-width="0.95"/>
<text x="553.9" y="261.5" font-size="6.25" text-anchor="end" fill="#2b2b2b" textLength="7.4" lengthAdjust="spacingAndGlyphs" stroke="#2b2b2b" stroke-width="0.18">60</text>
<line x1="556.2" y1="194.3" x2="558.5" y2="194.3" stroke="#6a7073" stroke-width="0.95"/>
<text x="553.9" y="196.5" font-size="6.25" text-anchor="end" fill="#2b2b2b" textLength="7.4" lengthAdjust="spacingAndGlyphs" stroke="#2b2b2b" stroke-width="0.18">80</text>
<line x1="556.2" y1="129.2" x2="558.5" y2="129.2" stroke="#6a7073" stroke-width="0.95"/>
<text x="553.9" y="131.5" font-size="6.25" text-anchor="end" fill="#2b2b2b" textLength="11.2" lengthAdjust="spacingAndGlyphs" stroke="#2b2b2b" stroke-width="0.18">100</text>
<line x1="556.2" y1="64.2" x2="558.5" y2="64.2" stroke="#6a7073" stroke-width="0.95"/>
<text x="553.9" y="66.4" font-size="6.25" text-anchor="end" fill="#2b2b2b" textLength="11.2" lengthAdjust="spacingAndGlyphs" stroke="#2b2b2b" stroke-width="0.18">120</text>
<text x="661.8" y="56.8" font-size="16.55" text-anchor="middle" fill="#000" stroke="#000" stroke-width="0.3">Deconvolution</text>
<text x="660.2" y="481" font-size="13.5" text-anchor="middle" fill="#000" stroke="#000" stroke-width="0.3">Mass (Da)</text>
<text x="540.5" y="257.3" font-size="16.3" text-anchor="middle" fill="#000" transform="rotate(-90 540.5 257.3)" stroke="#000" stroke-width="0.3">Intensity</text>
<line x1="679.5" y1="71.8" x2="692.5" y2="71.8" stroke="#1a1a1a" stroke-width="0.95"/>
<line x1="679.5" y1="80.9" x2="692.5" y2="80.9" stroke="#6a7275" stroke-width="0.8"/>
<line x1="679.5" y1="90.5" x2="692.5" y2="90.5" stroke="#b9c1c4" stroke-width="1" stroke-dasharray="3.2 1.6"/>
<text x="697.7" y="74.1" font-size="6.25" text-anchor="start" fill="#2b2b2b" textLength="44.3" lengthAdjust="spacingAndGlyphs" stroke="#2b2b2b" stroke-width="0.18">Deconvolution</text>
<text x="697.7" y="83.2" font-size="6.25" text-anchor="start" fill="#2b2b2b" textLength="35" lengthAdjust="spacingAndGlyphs" stroke="#2b2b2b" stroke-width="0.18">Intact Peak</text>
<text x="697.7" y="92.8" font-size="6.25" text-anchor="start" fill="#2b2b2b" textLength="59.5" lengthAdjust="spacingAndGlyphs" stroke="#2b2b2b" stroke-width="0.18">Intact Peak + ΔMW</text>
<line x1="626.2" y1="128.9" x2="648.1" y2="102.3" stroke="#1a1a1a" stroke-width="0.85"/>
<circle cx="626.2" cy="128.9" r="2.1" fill="#111"/>
<text x="638" y="98.1" font-size="13.2" text-anchor="start" fill="#111" stroke="#111" stroke-width="0.25">96197</text>
<line x1="648.5" y1="410.6" x2="670.7" y2="383.2" stroke="#1a1a1a" stroke-width="0.85"/>
<circle cx="648.5" cy="410.6" r="2.2" fill="#111"/>
<text x="663" y="378.9" font-size="6.25" text-anchor="start" fill="#111" textLength="24.6" lengthAdjust="spacingAndGlyphs" stroke="#2b2b2b" stroke-width="0.18">96361.0</text>
<line x1="381.4" y1="517.5" x2="381.4" y2="907.2" stroke="#6a7275" stroke-width="0.8"/>
<line x1="423.1" y1="517.5" x2="423.1" y2="907.2" stroke="#5f6a6e" stroke-width="0.9" stroke-dasharray="3.2 1.6"/>
<rect x="313.5" y="517.5" width="204.1" height="389.7" fill="none" stroke="#6a7073" stroke-width="0.95"/>
<path d="M313.5,902.65 313.75,902.63 314,902.61 314.25,902.59 314.5,902.57 314.75,902.55 315,902.54 315.25,902.53 315.5,902.52 315.75,902.51 316,902.51 316.25,902.5 316.5,902.5 316.75,902.49 317,902.49 317.25,902.49 317.5,902.49 317.75,902.49 318,902.49 318.25,902.5 318.5,902.53 318.75,902.57 319,902.62 319.25,902.69 319.5,902.77 319.75,902.85 320,902.94 320.25,903.03 320.5,903.12 320.75,903.21 321,903.3 321.25,903.4 321.5,903.51 321.75,903.63 322,903.76 322.25,903.89 322.5,904.03 322.75,904.17 323,904.31 323.25,904.44 323.5,904.56 323.75,904.67 324,904.76 324.25,904.85 324.5,904.94 324.75,905.03 325,905.11 325.25,905.19 325.5,905.27 325.75,905.34 326,905.4 326.25,905.46 326.5,905.51 326.75,905.55 327,905.58 327.25,905.6 327.5,905.62 327.75,905.64 328,905.66 328.25,905.67 328.5,905.69 328.75,905.7 329,905.71 329.25,905.73 329.5,905.74 329.75,905.75 330,905.76 330.25,905.77 330.5,905.78 330.75,905.78 331,905.79 331.25,905.8 331.5,905.81 331.75,905.82 332,905.82 332.25,905.83 332.5,905.84 332.75,905.85 333,905.86 333.25,905.87 333.5,905.88 333.75,905.89 334,905.9 334.25,905.92 334.5,905.93 334.75,905.95 335,905.97 335.25,905.98 335.5,906.01 335.75,906.03 336,906.05 336.25,906.08 336.5,906.11 336.75,906.14 337,906.17 337.25,906.2 337.5,906.23 337.75,906.26 338,906.3 338.25,906.33 338.5,906.36 338.75,906.4 339,906.43 339.25,906.46 339.5,906.49 339.75,906.52 340,906.55 340.25,906.58 340.5,906.61 340.75,906.64 341,906.68 341.25,906.71 341.5,906.74 341.75,906.78 342,906.81 342.25,906.84 342.5,906.88 342.75,906.91 343,906.94 343.25,906.97 343.5,906.99 343.75,907.02 344,907.04 344.25,907.06 344.5,907.08 344.75,907.09 345,907.1 345.25,907.11 345.5,907.12 345.75,907.13 346,907.13 346.25,907.14 346.5,907.15 346.75,907.15 347,907.16 347.25,907.17 347.5,907.17 347.75,907.18 348,907.18 348.25,907.19 348.5,907.19 348.75,907.19 349,907.2 349.25,907.2 349.5,907.2 349.75,907.2 350,907.2 350.25,907.2 350.5,907.2 350.75,907.2 351,907.2 351.25,907.2 351.5,907.2 351.75,907.2 352,907.2 352.25,907.2 352.5,907.2 352.75,907.2 353,907.2 353.25,907.2 353.5,907.2 353.75,907.2 354,907.2 354.25,907.2 354.5,907.2 354.75,907.2 355,907.2 355.25,907.2 355.5,907.2 355.75,907.2 356,907.2 356.25,907.2 356.5,907.2 356.75,907.2 357,907.2 357.25,907.2 357.5,907.2 357.75,907.2 358,907.2 358.25,907.2 358.5,907.2 358.75,907.2 359,907.2 359.25,907.2 359.5,907.2 359.75,907.2 360,907.2 360.25,907.2 360.5,907.2 360.75,907.2 361,907.2 361.25,907.2 361.5,907.2 361.75,907.2 362,907.2 362.25,907.2 362.5,907.2 362.75,907.2 363,907.2 363.25,907.2 363.5,907.2 363.75,907.2 364,907.2 364.25,907.2 364.5,907.2 364.75,907.2 365,907.2 365.25,907.2 365.5,907.2 365.75,907.2 366,907.2 366.25,907.2 366.5,907.2 366.75,907.2 367,907.2 367.25,907.2 367.5,907.2 367.75,907.2 368,907.2 368.25,907.2 368.5,907.2 368.75,907.2 369,907.2 369.25,907.2 369.5,907.2 369.75,907.2 370,907.2 370.25,907.2 370.5,907.2 370.75,907.2 371,907.2 371.25,907.2 371.5,907.2 371.75,907.2 372,907.2 372.25,907.2 372.5,907.2 372.75,907.2 373,907.2 373.25,907.2 373.5,907.2 373.75,907.2 374,907.2 374.25,907.2 374.5,907.2 374.75,907.2 375,907.2 375.25,907.2 375.5,907.2 375.75,907.19 376,907.18 376.25,907.17 376.5,907.16 376.75,907.15 377,907.13 377.25,907.12 377.5,907.1 377.75,907.09 378,907.07 378.25,907.05 378.5,907.03 378.75,907.01 379,907 379.25,906.98 379.5,906.96 379.75,906.94 380,906.93 380.25,906.91 380.5,906.9 380.75,906.89 381,906.88 381.25,906.87 381.5,906.86 381.75,906.85 382,906.84 382.25,906.84 382.5,906.83 382.75,906.82 383,906.82 383.25,906.81 383.5,906.81 383.75,906.8 384,906.79 384.25,906.79 384.5,906.78 384.75,906.77 385,906.76 385.25,906.75 385.5,906.74 385.75,906.73 386,906.71 386.25,906.69 386.5,906.64 386.75,906.59 387,906.51 387.25,906.43 387.5,906.33 387.75,906.23 388,906.12 388.25,906.01 388.5,905.9 388.75,905.79 389,905.69 389.25,905.59 389.5,905.5 389.75,905.42 390,905.35 390.25,905.3 390.5,905.27 390.75,905.25 391,905.27 391.25,905.33 391.5,905.42 391.75,905.55 392,905.69 392.25,905.85 392.5,906.01 392.75,906.17 393,906.32 393.25,906.45 393.5,906.55 393.75,906.64 394,906.73 394.25,906.81 394.5,906.9 394.75,906.98 395,907.05 395.25,907.11 395.5,907.16 395.75,907.19 396,907.2 396.25,907.2 396.5,907.2 396.75,907.2 397,907.2 397.25,907.2 397.5,907.2 397.75,907.2 398,907.2 398.25,907.2 398.5,907.2 398.75,907.2 399,907.2 399.25,907.2 399.5,907.2 399.75,907.2 400,907.2 400.25,907.2 400.5,907.2 400.75,907.2 401,907.2 401.25,907.2 401.5,907.2 401.75,907.2 402,907.2 402.25,907.2 402.5,907.2 402.75,907.2 403,907.2 403.25,907.2 403.5,907.2 403.75,907.2 404,907.2 404.25,907.2 404.5,907.2 404.75,907.2 405,907.2 405.25,907.2 405.5,907.2 405.75,907.2 406,907.2 406.25,907.2 406.5,907.2 406.75,907.2 407,907.2 407.25,907.2 407.5,907.2 407.75,907.2 408,907.2 408.25,907.2 408.5,907.2 408.75,907.2 409,907.2 409.25,907.2 409.5,907.2 409.75,907.2 410,907.2 410.25,907.19 410.5,907.16 410.75,907.11 411,907.04 411.25,906.95 411.5,906.84 411.75,906.72 412,906.57 412.25,906.41 412.5,906.23 412.75,905.87 413,905.21 413.25,904.32 413.5,903.26 413.75,902.08 414,900.59 414.25,898.7 414.5,896.42 414.75,893.74 415,890.69 415.25,887.27 415.5,883.49 415.75,878.6 416,872.06 416.25,864.26 416.5,855.55 416.75,846.33 417,836.95 417.25,827.77 417.5,818.45 417.75,808.65 418,798.31 418.25,787.34 418.5,775.68 418.75,762.71 419,748.34 419.25,733.2 419.5,717.93 419.75,703.16 420,689.35 420.25,675.32 420.5,661.16 420.75,647.42 421,634.61 421.25,623.28 421.5,613.95 421.75,606.14 422,599.2 422.25,593.38 422.5,588.94 422.75,585.26 423,582.73 423.25,582.96 423.5,585.68 423.75,590.11 424,602.22 424.25,618.96 424.5,633.03 424.75,645.31 425,657.09 425.25,668.66 425.5,680.31 425.75,692.34 426,705.45 426.25,719.93 426.5,734.53 426.75,747.97 427,758.95 427.25,766.9 427.5,773.53 427.75,778.05 428,780.38 428.25,781.12 428.5,778.87 428.75,774.61 429,764.73 429.25,751.34 429.5,737.49 429.75,721.38 430,704.31 430.25,687.68 430.5,672.92 430.75,660.83 431,649.7 431.25,639.38 431.5,629.93 431.75,621.43 432,613.95 432.25,606.97 432.5,600.55 432.75,595.64 433,592.95 433.25,591.25 433.5,591.14 433.75,593.42 434,597.43 434.25,606.34 434.5,618.31 434.75,630.2 435,642.68 435.25,656.23 435.5,670 435.75,683.15 436,694.81 436.25,705.21 436.5,715.15 436.75,724.62 437,733.63 437.25,742.2 437.5,750.31 437.75,757.97 438,765.23 438.25,772.31 438.5,779.2 438.75,785.8 439,792.01 439.25,797.74 439.5,802.88 439.75,807.35 440,811.2 440.25,814.74 440.5,818.01 440.75,821.03 441,823.84 441.25,826.44 441.5,828.88 441.75,831.18 442,833.36 442.25,835.32 442.5,837.09 442.75,838.75 443,840.35 443.25,841.95 443.5,843.63 443.75,845.44 444,847.42 444.25,849.54 444.5,851.76 444.75,854.04 445,856.33 445.25,858.62 445.5,860.84 445.75,862.98 446,864.98 446.25,866.92 446.5,868.88 446.75,870.83 447,872.76 447.25,874.63 447.5,876.44 447.75,878.16 448,879.77 448.25,881.24 448.5,882.56 448.75,883.71 449,884.78 449.25,885.82 449.5,886.83 449.75,887.8 450,888.73 450.25,889.62 450.5,890.48 450.75,891.29 451,892.05 451.25,892.76 451.5,893.42 451.75,894.03 452,894.59 452.25,895.09 452.5,895.53 452.75,895.91 453,896.26 453.25,896.61 453.5,896.96 453.75,897.29 454,897.62 454.25,897.94 454.5,898.24 454.75,898.54 455,898.82 455.25,899.09 455.5,899.34 455.75,899.57 456,899.78 456.25,899.98 456.5,900.15 456.75,900.31 457,900.44 457.25,900.54 457.5,900.62 457.75,900.68 458,900.7 458.25,900.71 458.5,900.71 458.75,900.71 459,900.71 459.25,900.71 459.5,900.71 459.75,900.71 460,900.71 460.25,900.71 460.5,900.71 460.75,900.71 461,900.71 461.25,900.68 461.5,900.6 461.75,900.48 462,900.33 462.25,900.16 462.5,899.97 462.75,899.79 463,899.62 463.25,899.47 463.5,899.35 463.75,899.27 464,899.24 464.25,899.29 464.5,899.42 464.75,899.62 465,899.87 465.25,900.16 465.5,900.48 465.75,900.8 466,901.12 466.25,901.42 466.5,901.68 466.75,901.94 467,902.24 467.25,902.55 467.5,902.86 467.75,903.16 468,903.44 468.25,903.67 468.5,903.84 468.75,903.94 469,903.95 469.25,903.94 469.5,903.93 469.75,903.91 470,903.88 470.25,903.84 470.5,903.81 470.75,903.76 471,903.72 471.25,903.67 471.5,903.63 471.75,903.57 472,903.48 472.25,903.37 472.5,903.25 472.75,903.12 473,902.98 473.25,902.85 473.5,902.72 473.75,902.6 474,902.49 474.25,902.41 474.5,902.35 474.75,902.33 475,902.36 475.25,902.46 475.5,902.64 475.75,902.86 476,903.12 476.25,903.4 476.5,903.69 476.75,903.96 477,904.22 477.25,904.44 477.5,904.6 477.75,904.73 478,904.86 478.25,904.99 478.5,905.11 478.75,905.23 479,905.35 479.25,905.46 479.5,905.57 479.75,905.67 480,905.77 480.25,905.86 480.5,905.95 480.75,906.03 481,906.1 481.25,906.17 481.5,906.23 481.75,906.29 482,906.34 482.25,906.38 482.5,906.42 482.75,906.45 483,906.49 483.25,906.52 483.5,906.55 483.75,906.58 484,906.61 484.25,906.64 484.5,906.67 484.75,906.69 485,906.72 485.25,906.74 485.5,906.76 485.75,906.79 486,906.81 486.25,906.83 486.5,906.85 486.75,906.87 487,906.89 487.25,906.9 487.5,906.92 487.75,906.94 488,906.95 488.25,906.96 488.5,906.98 488.75,906.99 489,907 489.25,907.01 489.5,907.02 489.75,907.03 490,907.04 490.25,907.05 490.5,907.05 490.75,907.06 491,907.07 491.25,907.08 491.5,907.08 491.75,907.09 492,907.1 492.25,907.1 492.5,907.11 492.75,907.12 493,907.12 493.25,907.13 493.5,907.14 493.75,907.14 494,907.15 494.25,907.15 494.5,907.16 494.75,907.16 495,907.17 495.25,907.17 495.5,907.18 495.75,907.18 496,907.18 496.25,907.19 496.5,907.19 496.75,907.19 497,907.19 497.25,907.2 497.5,907.2 497.75,907.2 498,907.2 498.25,907.2 498.5,907.2 498.75,907.2 499,907.2 499.25,907.2 499.5,907.2 499.75,907.2 500,907.2 500.25,907.2 500.5,907.2 500.75,907.2 501,907.2 501.25,907.2 501.5,907.2 501.75,907.2 502,907.2 502.25,907.2 502.5,907.2 502.75,907.2 503,907.2 503.25,907.2 503.5,907.2 503.75,907.2 504,907.2 504.25,907.2 504.5,907.2 504.75,907.2 505,907.2 505.25,907.2 505.5,907.2 505.75,907.2 506,907.2 506.25,907.2 506.5,907.2 506.75,907.2 507,907.2 507.25,907.2 507.5,907.2 507.75,907.2 508,907.2 508.25,907.2 508.5,907.2 508.75,907.2 509,907.2 509.25,907.2 509.5,907.2 509.75,907.2 510,907.2 510.25,907.2 510.5,907.2 510.75,907.2 511,907.2 511.25,907.2 511.5,907.2 511.75,907.2 512,907.2 512.25,907.2 512.5,907.2 512.75,907.2 513,907.2 513.25,907.2 513.5,907.2 513.75,907.2 514,907.2 514.25,907.2 514.5,907.2 514.75,907.2 515,907.2 515.25,907.2 515.5,907.2 515.75,907.2 516,907.2 516.25,907.2 516.5,907.2 516.75,907.2 517,907.2 517.25,907.2 517.5,907.2" fill="none" stroke="#161616" stroke-width="1.2" stroke-linejoin="round"/>
<line x1="315.3" y1="907.2" x2="315.3" y2="909.5" stroke="#6a7073" stroke-width="0.95"/>
<text x="315.3" y="916.7" font-size="6.25" text-anchor="middle" fill="#2b2b2b" textLength="18.6" lengthAdjust="spacingAndGlyphs" stroke="#2b2b2b" stroke-width="0.18">54800</text>
<line x1="342.6" y1="907.2" x2="342.6" y2="909.5" stroke="#6a7073" stroke-width="0.95"/>
<text x="342.6" y="916.7" font-size="6.25" text-anchor="middle" fill="#2b2b2b" textLength="18.6" lengthAdjust="spacingAndGlyphs" stroke="#2b2b2b" stroke-width="0.18">55000</text>
<line x1="369.9" y1="907.2" x2="369.9" y2="909.5" stroke="#6a7073" stroke-width="0.95"/>
<text x="369.9" y="916.7" font-size="6.25" text-anchor="middle" fill="#2b2b2b" textLength="18.6" lengthAdjust="spacingAndGlyphs" stroke="#2b2b2b" stroke-width="0.18">55200</text>
<line x1="397.2" y1="907.2" x2="397.2" y2="909.5" stroke="#6a7073" stroke-width="0.95"/>
<text x="397.2" y="916.7" font-size="6.25" text-anchor="middle" fill="#2b2b2b" textLength="18.6" lengthAdjust="spacingAndGlyphs" stroke="#2b2b2b" stroke-width="0.18">55400</text>
<line x1="424.5" y1="907.2" x2="424.5" y2="909.5" stroke="#6a7073" stroke-width="0.95"/>
<text x="424.5" y="916.7" font-size="6.25" text-anchor="middle" fill="#2b2b2b" textLength="18.6" lengthAdjust="spacingAndGlyphs" stroke="#2b2b2b" stroke-width="0.18">55600</text>
<line x1="451.8" y1="907.2" x2="451.8" y2="909.5" stroke="#6a7073" stroke-width="0.95"/>
<text x="451.8" y="916.7" font-size="6.25" text-anchor="middle" fill="#2b2b2b" textLength="18.6" lengthAdjust="spacingAndGlyphs" stroke="#2b2b2b" stroke-width="0.18">55800</text>
<line x1="479.1" y1="907.2" x2="479.1" y2="909.5" stroke="#6a7073" stroke-width="0.95"/>
<text x="479.1" y="916.7" font-size="6.25" text-anchor="middle" fill="#2b2b2b" textLength="18.6" lengthAdjust="spacingAndGlyphs" stroke="#2b2b2b" stroke-width="0.18">56000</text>
<line x1="506.4" y1="907.2" x2="506.4" y2="909.5" stroke="#6a7073" stroke-width="0.95"/>
<text x="506.4" y="916.7" font-size="6.25" text-anchor="middle" fill="#2b2b2b" textLength="18.6" lengthAdjust="spacingAndGlyphs" stroke="#2b2b2b" stroke-width="0.18">56200</text>
<line x1="311.2" y1="907.2" x2="313.5" y2="907.2" stroke="#6a7073" stroke-width="0.95"/>
<text x="308.9" y="909.5" font-size="6.25" text-anchor="end" fill="#2b2b2b" textLength="3.7" lengthAdjust="spacingAndGlyphs" stroke="#2b2b2b" stroke-width="0.18">0</text>
<line x1="311.2" y1="842.2" x2="313.5" y2="842.2" stroke="#6a7073" stroke-width="0.95"/>
<text x="308.9" y="844.5" font-size="6.25" text-anchor="end" fill="#2b2b2b" textLength="7.4" lengthAdjust="spacingAndGlyphs" stroke="#2b2b2b" stroke-width="0.18">20</text>
<line x1="311.2" y1="777.3" x2="313.5" y2="777.3" stroke="#6a7073" stroke-width="0.95"/>
<text x="308.9" y="779.5" font-size="6.25" text-anchor="end" fill="#2b2b2b" textLength="7.4" lengthAdjust="spacingAndGlyphs" stroke="#2b2b2b" stroke-width="0.18">40</text>
<line x1="311.2" y1="712.4" x2="313.5" y2="712.4" stroke="#6a7073" stroke-width="0.95"/>
<text x="308.9" y="714.6" font-size="6.25" text-anchor="end" fill="#2b2b2b" textLength="7.4" lengthAdjust="spacingAndGlyphs" stroke="#2b2b2b" stroke-width="0.18">60</text>
<line x1="311.2" y1="647.4" x2="313.5" y2="647.4" stroke="#6a7073" stroke-width="0.95"/>
<text x="308.9" y="649.6" font-size="6.25" text-anchor="end" fill="#2b2b2b" textLength="7.4" lengthAdjust="spacingAndGlyphs" stroke="#2b2b2b" stroke-width="0.18">80</text>
<line x1="311.2" y1="582.5" x2="313.5" y2="582.5" stroke="#6a7073" stroke-width="0.95"/>
<text x="308.9" y="584.7" font-size="6.25" text-anchor="end" fill="#2b2b2b" textLength="11.2" lengthAdjust="spacingAndGlyphs" stroke="#2b2b2b" stroke-width="0.18">100</text>
<line x1="311.2" y1="517.5" x2="313.5" y2="517.5" stroke="#6a7073" stroke-width="0.95"/>
<text x="308.9" y="519.8" font-size="6.25" text-anchor="end" fill="#2b2b2b" textLength="11.2" lengthAdjust="spacingAndGlyphs" stroke="#2b2b2b" stroke-width="0.18">120</text>
<text x="417.4" y="510.1" font-size="16.55" text-anchor="middle" fill="#000" stroke="#000" stroke-width="0.3">Deconvolution</text>
<text x="410.8" y="933.9" font-size="13.5" text-anchor="middle" fill="#000" stroke="#000" stroke-width="0.3">Mass (Da)</text>
<text x="295.5" y="710.4" font-size="16.3" text-anchor="middle" fill="#000" transform="rotate(-90 295.5 710.4)" stroke="#000" stroke-width="0.3">Intensity</text>
<line x1="423.2" y1="582.2" x2="443" y2="553.2" stroke="#1a1a1a" stroke-width="0.85"/>
<circle cx="423.2" cy="582.2" r="2.1" fill="#111"/>
<text x="433.5" y="550.9" font-size="13.4" text-anchor="start" fill="#111" stroke="#111" stroke-width="0.25">55589</text>
<line x1="433.6" y1="590.9" x2="453" y2="567" stroke="#1a1a1a" stroke-width="0.85"/>
<circle cx="433.6" cy="590.9" r="2.1" fill="#111"/>
<text x="456.6" y="564.7" font-size="13.4" text-anchor="start" fill="#111" stroke="#111" stroke-width="0.25">55667</text>
<text x="380.3" y="696.9" font-size="13" text-anchor="start" fill="#111" textLength="38.6" lengthAdjust="spacingAndGlyphs" stroke="#111" stroke-width="0.25">+ΔMW</text>
<path d="M381.4 708.3H404.6V703.2L418.3 709.4L404.6 715.6V710.5H381.4Z" fill="#111"/>
<line x1="626.5" y1="517.5" x2="626.5" y2="907.2" stroke="#6a7275" stroke-width="0.8"/>
<line x1="668.4" y1="517.5" x2="668.4" y2="907.2" stroke="#5f6a6e" stroke-width="0.9" stroke-dasharray="3.2 1.6"/>
<rect x="558.5" y="517.5" width="203.8" height="389.7" fill="none" stroke="#6a7073" stroke-width="0.95"/>
<path d="M558.5,906.39 558.75,906.4 559,906.41 559.25,906.43 559.5,906.44 559.75,906.45 560,906.47 560.25,906.48 560.5,906.49 560.75,906.51 561,906.52 561.25,906.53 561.5,906.54 561.75,906.56 562,906.57 562.25,906.58 562.5,906.6 562.75,906.61 563,906.62 563.25,906.63 563.5,906.65 563.75,906.66 564,906.67 564.25,906.68 564.5,906.69 564.75,906.71 565,906.72 565.25,906.73 565.5,906.74 565.75,906.75 566,906.76 566.25,906.78 566.5,906.79 566.75,906.8 567,906.81 567.25,906.82 567.5,906.83 567.75,906.84 568,906.85 568.25,906.86 568.5,906.87 568.75,906.88 569,906.89 569.25,906.9 569.5,906.9 569.75,906.91 570,906.92 570.25,906.93 570.5,906.94 570.75,906.95 571,906.95 571.25,906.96 571.5,906.97 571.75,906.97 572,906.98 572.25,906.99 572.5,906.99 572.75,907 573,907 573.25,907.01 573.5,907.01 573.75,907.02 574,907.02 574.25,907.03 574.5,907.03 574.75,907.03 575,907.04 575.25,907.04 575.5,907.04 575.75,907.05 576,907.05 576.25,907.05 576.5,907.05 576.75,907.06 577,907.06 577.25,907.06 577.5,907.07 577.75,907.07 578,907.07 578.25,907.07 578.5,907.08 578.75,907.08 579,907.08 579.25,907.08 579.5,907.09 579.75,907.09 580,907.09 580.25,907.09 580.5,907.1 580.75,907.1 581,907.1 581.25,907.1 581.5,907.11 581.75,907.11 582,907.11 582.25,907.11 582.5,907.12 582.75,907.12 583,907.12 583.25,907.12 583.5,907.12 583.75,907.13 584,907.13 584.25,907.13 584.5,907.13 584.75,907.13 585,907.14 585.25,907.14 585.5,907.14 585.75,907.14 586,907.14 586.25,907.15 586.5,907.15 586.75,907.15 587,907.15 587.25,907.15 587.5,907.16 587.75,907.16 588,907.16 588.25,907.16 588.5,907.16 588.75,907.16 589,907.17 589.25,907.17 589.5,907.17 589.75,907.17 590,907.17 590.25,907.17 590.5,907.17 590.75,907.18 591,907.18 591.25,907.18 591.5,907.18 591.75,907.18 592,907.18 592.25,907.18 592.5,907.18 592.75,907.18 593,907.19 593.25,907.19 593.5,907.19 593.75,907.19 594,907.19 594.25,907.19 594.5,907.19 594.75,907.19 595,907.19 595.25,907.19 595.5,907.19 595.75,907.19 596,907.2 596.25,907.2 596.5,907.2 596.75,907.2 597,907.2 597.25,907.2 597.5,907.2 597.75,907.2 598,907.2 598.25,907.2 598.5,907.2 598.75,907.2 599,907.2 599.25,907.2 599.5,907.2 599.75,907.2 600,907.2 600.25,907.2 600.5,907.19 600.75,907.18 601,907.17 601.25,907.15 601.5,907.13 601.75,907.11 602,907.09 602.25,907.06 602.5,907.03 602.75,906.99 603,906.96 603.25,906.92 603.5,906.88 603.75,906.83 604,906.79 604.25,906.74 604.5,906.69 604.75,906.63 605,906.55 605.25,906.45 605.5,906.34 605.75,906.21 606,906.07 606.25,905.92 606.5,905.74 606.75,905.56 607,905.36 607.25,905.15 607.5,904.93 607.75,904.67 608,904.35 608.25,903.97 608.5,903.53 608.75,903.03 609,902.48 609.25,901.88 609.5,901.22 609.75,900.5 610,899.73 610.25,898.84 610.5,897.76 610.75,896.49 611,895.05 611.25,893.43 611.5,891.65 611.75,889.7 612,887.61 612.25,885.36 612.5,882.97 612.75,880.44 613,877.61 613.25,874.14 613.5,870.09 613.75,865.55 614,860.57 614.25,855.24 614.5,849.63 614.75,843.81 615,837.85 615.25,831.82 615.5,825.8 615.75,819.77 616,813.37 616.25,806.63 616.5,799.59 616.75,792.31 617,784.84 617.25,777.23 617.5,769.54 617.75,761.81 618,754.11 618.25,746.48 618.5,738.98 618.75,731.42 619,723.65 619.25,715.72 619.5,707.71 619.75,699.7 620,691.75 620.25,683.93 620.5,676.33 620.75,669 621,662.03 621.25,655.47 621.5,649.21 621.75,642.91 622,636.63 622.25,630.45 622.5,624.44 622.75,618.68 623,613.25 623.25,608.21 623.5,603.65 623.75,599.65 624,596.27 624.25,593.5 624.5,590.98 624.75,588.74 625,586.85 625.25,585.37 625.5,584.35 625.75,583.47 626,582.79 626.25,582.46 626.5,582.63 626.75,583.28 627,584.27 627.25,585.45 627.5,586.97 627.75,589.25 628,592.15 628.25,595.53 628.5,599.3 628.75,604.04 629,609.79 629.25,616.37 629.5,623.65 629.75,631.47 630,639.66 630.25,648.09 630.5,656.58 630.75,665 631,673.18 631.25,680.97 631.5,688.49 631.75,696.18 632,703.99 632.25,711.88 632.5,719.79 632.75,727.67 633,735.45 633.25,743.09 633.5,750.53 633.75,757.71 634,764.58 634.25,771.17 634.5,777.73 634.75,784.25 635,790.7 635.25,797 635.5,803.13 635.75,809.03 636,814.65 636.25,819.95 636.5,824.88 636.75,829.38 637,833.45 637.25,837.4 637.5,841.27 637.75,845.02 638,848.62 638.25,852.03 638.5,855.2 638.75,858.1 639,860.69 639.25,862.93 639.5,864.78 639.75,866.21 640,867.45 640.25,868.59 640.5,869.63 640.75,870.54 641,871.3 641.25,871.91 641.5,872.33 641.75,872.6 642,872.83 642.25,873.02 642.5,873.17 642.75,873.25 643,873.25 643.25,873.15 643.5,872.95 643.75,872.67 644,872.35 644.25,872.01 644.5,871.65 644.75,871.17 645,870.58 645.25,869.92 645.5,869.24 645.75,868.58 646,867.98 646.25,867.49 646.5,867.04 646.75,866.59 647,866.15 647.25,865.76 647.5,865.42 647.75,865.16 648,864.98 648.25,864.86 648.5,864.76 648.75,864.69 649,864.66 649.25,864.74 649.5,864.97 649.75,865.28 650,865.63 650.25,866.08 650.5,866.7 650.75,867.44 651,868.23 651.25,869.04 651.5,869.87 651.75,870.77 652,871.73 652.25,872.74 652.5,873.79 652.75,874.86 653,875.92 653.25,876.98 653.5,878 653.75,878.98 654,879.9 654.25,880.76 654.5,881.61 654.75,882.47 655,883.32 655.25,884.16 655.5,884.99 655.75,885.82 656,886.62 656.25,887.41 656.5,888.17 656.75,888.91 657,889.62 657.25,890.29 657.5,890.94 657.75,891.54 658,892.1 658.25,892.62 658.5,893.1 658.75,893.56 659,894 659.25,894.44 659.5,894.87 659.75,895.29 660,895.69 660.25,896.09 660.5,896.47 660.75,896.84 661,897.2 661.25,897.55 661.5,897.88 661.75,898.2 662,898.5 662.25,898.79 662.5,899.06 662.75,899.32 663,899.57 663.25,899.79 663.5,900.01 663.75,900.2 664,900.38 664.25,900.55 664.5,900.71 664.75,900.87 665,901.03 665.25,901.19 665.5,901.34 665.75,901.49 666,901.63 666.25,901.78 666.5,901.92 666.75,902.05 667,902.18 667.25,902.31 667.5,902.44 667.75,902.56 668,902.68 668.25,902.8 668.5,902.91 668.75,903.02 669,903.13 669.25,903.23 669.5,903.34 669.75,903.43 670,903.53 670.25,903.62 670.5,903.71 670.75,903.79 671,903.88 671.25,903.95 671.5,904.03 671.75,904.1 672,904.17 672.25,904.24 672.5,904.3 672.75,904.36 673,904.42 673.25,904.48 673.5,904.53 673.75,904.57 674,904.62 674.25,904.66 674.5,904.71 674.75,904.75 675,904.79 675.25,904.83 675.5,904.88 675.75,904.92 676,904.96 676.25,905 676.5,905.04 676.75,905.07 677,905.11 677.25,905.15 677.5,905.19 677.75,905.22 678,905.26 678.25,905.29 678.5,905.33 678.75,905.36 679,905.39 679.25,905.43 679.5,905.46 679.75,905.49 680,905.52 680.25,905.55 680.5,905.58 680.75,905.61 681,905.64 681.25,905.67 681.5,905.7 681.75,905.73 682,905.75 682.25,905.78 682.5,905.81 682.75,905.83 683,905.86 683.25,905.88 683.5,905.9 683.75,905.93 684,905.95 684.25,905.97 684.5,906 684.75,906.02 685,906.04 685.25,906.06 685.5,906.08 685.75,906.1 686,906.12 686.25,906.13 686.5,906.15 686.75,906.17 687,906.19 687.25,906.2 687.5,906.22 687.75,906.24 688,906.25 688.25,906.27 688.5,906.28 688.75,906.29 689,906.31 689.25,906.32 689.5,906.33 689.75,906.34 690,906.35 690.25,906.37 690.5,906.38 690.75,906.39 691,906.4 691.25,906.41 691.5,906.42 691.75,906.42 692,906.43 692.25,906.44 692.5,906.45 692.75,906.46 693,906.47 693.25,906.48 693.5,906.49 693.75,906.5 694,906.51 694.25,906.52 694.5,906.53 694.75,906.54 695,906.54 695.25,906.55 695.5,906.56 695.75,906.57 696,906.58 696.25,906.59 696.5,906.6 696.75,906.61 697,906.61 697.25,906.62 697.5,906.63 697.75,906.64 698,906.65 698.25,906.65 698.5,906.66 698.75,906.67 699,906.68 699.25,906.69 699.5,906.69 699.75,906.7 700,906.71 700.25,906.72 700.5,906.72 700.75,906.73 701,906.74 701.25,906.75 701.5,906.75 701.75,906.76 702,906.77 702.25,906.77 702.5,906.78 702.75,906.79 703,906.79 703.25,906.8 703.5,906.81 703.75,906.81 704,906.82 704.25,906.83 704.5,906.83 704.75,906.84 705,906.85 705.25,906.85 705.5,906.86 705.75,906.86 706,906.87 706.25,906.87 706.5,906.88 706.75,906.89 707,906.89 707.25,906.9 707.5,906.9 707.75,906.91 708,906.91 708.25,906.92 708.5,906.92 708.75,906.93 709,906.93 709.25,906.94 709.5,906.94 709.75,906.94 710,906.95 710.25,906.95 710.5,906.96 710.75,906.96 711,906.97 711.25,906.97 711.5,906.97 711.75,906.98 712,906.98 712.25,906.98 712.5,906.99 712.75,906.99 713,906.99 713.25,907 713.5,907 713.75,907 714,907 714.25,907.01 714.5,907.01 714.75,907.01 715,907.01 715.25,907.02 715.5,907.02 715.75,907.02 716,907.02 716.25,907.02 716.5,907.03 716.75,907.03 717,907.03 717.25,907.03 717.5,907.03 717.75,907.03 718,907.03 718.25,907.03 718.5,907.04 718.75,907.04 719,907.04 719.25,907.04 719.5,907.04 719.75,907.04 720,907.04 720.25,907.04 720.5,907.04 720.75,907.04 721,907.04 721.25,907.04 721.5,907.04 721.75,907.04 722,907.04 722.25,907.04 722.5,907.03 722.75,907.03 723,907.03 723.25,907.03 723.5,907.03 723.75,907.03 724,907.03 724.25,907.03 724.5,907.03 724.75,907.03 725,907.02 725.25,907.02 725.5,907.02 725.75,907.02 726,907.02 726.25,907.02 726.5,907.01 726.75,907.01 727,907.01 727.25,907.01 727.5,907.01 727.75,907 728,907 728.25,907 728.5,907 728.75,906.99 729,906.99 729.25,906.99 729.5,906.98 729.75,906.98 730,906.98 730.25,906.97 730.5,906.97 730.75,906.97 731,906.96 731.25,906.96 731.5,906.95 731.75,906.95 732,906.95 732.25,906.94 732.5,906.94 732.75,906.93 733,906.93 733.25,906.92 733.5,906.92 733.75,906.91 734,906.91 734.25,906.9 734.5,906.9 734.75,906.89 735,906.89 735.25,906.88 735.5,906.88 735.75,906.87 736,906.85 736.25,906.82 736.5,906.79 736.75,906.75 737,906.71 737.25,906.66 737.5,906.6 737.75,906.54 738,906.48 738.25,906.42 738.5,906.35 738.75,906.28 739,906.2 739.25,906.13 739.5,906.05 739.75,905.98 740,905.9 740.25,905.82 740.5,905.73 740.75,905.64 741,905.54 741.25,905.43 741.5,905.32 741.75,905.2 742,905.08 742.25,904.95 742.5,904.81 742.75,904.68 743,904.54 743.25,904.4 743.5,904.25 743.75,904.1 744,903.95 744.25,903.79 744.5,903.62 744.75,903.43 745,903.23 745.25,903.03 745.5,902.81 745.75,902.59 746,902.36 746.25,902.14 746.5,901.91 746.75,901.69 747,901.47 747.25,901.26 747.5,901.06 747.75,900.87 748,900.69 748.25,900.53 748.5,900.38 748.75,900.24 749,900.1 749.25,899.95 749.5,899.8 749.75,899.66 750,899.52 750.25,899.38 750.5,899.26 750.75,899.14 751,899.04 751.25,898.94 751.5,898.87 751.75,898.81 752,898.77 752.25,898.76 752.5,898.76 752.75,898.78 753,898.81 753.25,898.86 753.5,898.91 753.75,898.98 754,899.05 754.25,899.13 754.5,899.21 754.75,899.3 755,899.39 755.25,899.48 755.5,899.57 755.75,899.67 756,899.78 756.25,899.9 756.5,900.04 756.75,900.18 757,900.34 757.25,900.49 757.5,900.65 757.75,900.81 758,900.97 758.25,901.12 758.5,901.28 758.75,901.44 759,901.6 759.25,901.76 759.5,901.93 759.75,902.1 760,902.27 760.25,902.44 760.5,902.62 760.75,902.79 761,902.97 761.25,903.16 761.5,903.34 761.75,903.53 762,903.72 762.25,903.91" fill="none" stroke="#161616" stroke-width="1.2" stroke-linejoin="round"/>
<line x1="572.3" y1="907.2" x2="572.3" y2="909.5" stroke="#6a7073" stroke-width="0.95"/>
<text x="572.3" y="916.7" font-size="6.25" text-anchor="middle" fill="#2b2b2b" textLength="18.6" lengthAdjust="spacingAndGlyphs" stroke="#2b2b2b" stroke-width="0.18">95800</text>
<line x1="599.4" y1="907.2" x2="599.4" y2="909.5" stroke="#6a7073" stroke-width="0.95"/>
<text x="599.4" y="916.7" font-size="6.25" text-anchor="middle" fill="#2b2b2b" textLength="18.6" lengthAdjust="spacingAndGlyphs" stroke="#2b2b2b" stroke-width="0.18">96000</text>
<line x1="626.6" y1="907.2" x2="626.6" y2="909.5" stroke="#6a7073" stroke-width="0.95"/>
<text x="626.6" y="916.7" font-size="6.25" text-anchor="middle" fill="#2b2b2b" textLength="18.6" lengthAdjust="spacingAndGlyphs" stroke="#2b2b2b" stroke-width="0.18">96200</text>
<line x1="653.7" y1="907.2" x2="653.7" y2="909.5" stroke="#6a7073" stroke-width="0.95"/>
<text x="653.7" y="916.7" font-size="6.25" text-anchor="middle" fill="#2b2b2b" textLength="18.6" lengthAdjust="spacingAndGlyphs" stroke="#2b2b2b" stroke-width="0.18">96400</text>
<line x1="680.9" y1="907.2" x2="680.9" y2="909.5" stroke="#6a7073" stroke-width="0.95"/>
<text x="680.9" y="916.7" font-size="6.25" text-anchor="middle" fill="#2b2b2b" textLength="18.6" lengthAdjust="spacingAndGlyphs" stroke="#2b2b2b" stroke-width="0.18">96600</text>
<line x1="708" y1="907.2" x2="708" y2="909.5" stroke="#6a7073" stroke-width="0.95"/>
<text x="708" y="916.7" font-size="6.25" text-anchor="middle" fill="#2b2b2b" textLength="18.6" lengthAdjust="spacingAndGlyphs" stroke="#2b2b2b" stroke-width="0.18">96800</text>
<line x1="735.2" y1="907.2" x2="735.2" y2="909.5" stroke="#6a7073" stroke-width="0.95"/>
<text x="735.2" y="916.7" font-size="6.25" text-anchor="middle" fill="#2b2b2b" textLength="18.6" lengthAdjust="spacingAndGlyphs" stroke="#2b2b2b" stroke-width="0.18">97000</text>
<line x1="762.3" y1="907.2" x2="762.3" y2="909.5" stroke="#6a7073" stroke-width="0.95"/>
<text x="762.3" y="916.7" font-size="6.25" text-anchor="middle" fill="#2b2b2b" textLength="18.6" lengthAdjust="spacingAndGlyphs" stroke="#2b2b2b" stroke-width="0.18">97200</text>
<line x1="556.2" y1="907.2" x2="558.5" y2="907.2" stroke="#6a7073" stroke-width="0.95"/>
<text x="553.9" y="909.5" font-size="6.25" text-anchor="end" fill="#2b2b2b" textLength="3.7" lengthAdjust="spacingAndGlyphs" stroke="#2b2b2b" stroke-width="0.18">0</text>
<line x1="556.2" y1="842.2" x2="558.5" y2="842.2" stroke="#6a7073" stroke-width="0.95"/>
<text x="553.9" y="844.5" font-size="6.25" text-anchor="end" fill="#2b2b2b" textLength="7.4" lengthAdjust="spacingAndGlyphs" stroke="#2b2b2b" stroke-width="0.18">20</text>
<line x1="556.2" y1="777.3" x2="558.5" y2="777.3" stroke="#6a7073" stroke-width="0.95"/>
<text x="553.9" y="779.5" font-size="6.25" text-anchor="end" fill="#2b2b2b" textLength="7.4" lengthAdjust="spacingAndGlyphs" stroke="#2b2b2b" stroke-width="0.18">40</text>
<line x1="556.2" y1="712.4" x2="558.5" y2="712.4" stroke="#6a7073" stroke-width="0.95"/>
<text x="553.9" y="714.6" font-size="6.25" text-anchor="end" fill="#2b2b2b" textLength="7.4" lengthAdjust="spacingAndGlyphs" stroke="#2b2b2b" stroke-width="0.18">60</text>
<line x1="556.2" y1="647.4" x2="558.5" y2="647.4" stroke="#6a7073" stroke-width="0.95"/>
<text x="553.9" y="649.6" font-size="6.25" text-anchor="end" fill="#2b2b2b" textLength="7.4" lengthAdjust="spacingAndGlyphs" stroke="#2b2b2b" stroke-width="0.18">80</text>
<line x1="556.2" y1="582.5" x2="558.5" y2="582.5" stroke="#6a7073" stroke-width="0.95"/>
<text x="553.9" y="584.7" font-size="6.25" text-anchor="end" fill="#2b2b2b" textLength="11.2" lengthAdjust="spacingAndGlyphs" stroke="#2b2b2b" stroke-width="0.18">100</text>
<line x1="556.2" y1="517.5" x2="558.5" y2="517.5" stroke="#6a7073" stroke-width="0.95"/>
<text x="553.9" y="519.8" font-size="6.25" text-anchor="end" fill="#2b2b2b" textLength="11.2" lengthAdjust="spacingAndGlyphs" stroke="#2b2b2b" stroke-width="0.18">120</text>
<text x="663.8" y="510.1" font-size="16.55" text-anchor="middle" fill="#000" stroke="#000" stroke-width="0.3">Deconvolution</text>
<text x="658.7" y="933.9" font-size="13.5" text-anchor="middle" fill="#000" stroke="#000" stroke-width="0.3">Mass (Da)</text>
<text x="540.5" y="710.4" font-size="16.3" text-anchor="middle" fill="#000" transform="rotate(-90 540.5 710.4)" stroke="#000" stroke-width="0.3">Intensity</text>
<line x1="626.3" y1="582.2" x2="648.7" y2="554.3" stroke="#1a1a1a" stroke-width="0.85"/>
<circle cx="626.3" cy="582.2" r="2.1" fill="#111"/>
<text x="630" y="550.1" font-size="13.2" text-anchor="start" fill="#111" stroke="#111" stroke-width="0.25">96198</text>
<line x1="648.9" y1="864.2" x2="670.7" y2="836.4" stroke="#1a1a1a" stroke-width="0.85"/>
<circle cx="648.9" cy="864.2" r="2.2" fill="#111"/>
<text x="663" y="832.3" font-size="6.25" text-anchor="start" fill="#111" textLength="24.9" lengthAdjust="spacingAndGlyphs" stroke="#2b2b2b" stroke-width="0.18">96364.0</text>
<line x1="197.1" y1="1020.7" x2="197.1" y2="1519.3" stroke="#ececec" stroke-width="1.1"/>
<line x1="338.6" y1="1020.7" x2="338.6" y2="1519.3" stroke="#ececec" stroke-width="1.1"/>
<line x1="480.2" y1="1020.7" x2="480.2" y2="1519.3" stroke="#ececec" stroke-width="1.1"/>
<line x1="621.8" y1="1020.7" x2="621.8" y2="1519.3" stroke="#ececec" stroke-width="1.1"/>
<line x1="120.7" y1="1070" x2="763.6" y2="1070" stroke="#ececec" stroke-width="1.1"/>
<line x1="120.7" y1="1170" x2="763.6" y2="1170" stroke="#ececec" stroke-width="1.1"/>
<line x1="120.7" y1="1370" x2="763.6" y2="1370" stroke="#ececec" stroke-width="1.1"/>
<line x1="120.7" y1="1470" x2="763.6" y2="1470" stroke="#ececec" stroke-width="1.1"/>
<line x1="120.7" y1="1170" x2="763.6" y2="1170" stroke="#c9d0cd" stroke-width="1.25" stroke-dasharray="7 3.2 1.8 3.2"/>
<line x1="120.7" y1="1370" x2="763.6" y2="1370" stroke="#c9d0cd" stroke-width="1.25" stroke-dasharray="7 3.2 1.8 3.2"/>
<line x1="339.2" y1="1020.7" x2="339.2" y2="1519.3" stroke="#c9d0cd" stroke-width="1.25" stroke-dasharray="7 3.2 1.8 3.2"/>
<line x1="120.7" y1="1270" x2="763.6" y2="1270" stroke="#404040" stroke-width="1.3"/>
<g class="pts" fill="#2348f6" fill-opacity="0.6">
<circle cx="658" cy="1284.2"/><circle cx="521.2" cy="1253.6"/><circle cx="716" cy="1259.5"/><circle cx="743.5" cy="1269.5"/><circle cx="718.9" cy="1256.5"/><circle cx="495.3" cy="1256.6"/><circle cx="719.1" cy="1261.3"/><circle cx="753.4" cy="1266.7"/><circle cx="626.9" cy="1265.2"/><circle cx="652.6" cy="1271"/><circle cx="735.1" cy="1266.9"/><circle cx="524.3" cy="1259.4"/><circle cx="631.3" cy="1251.2"/><circle cx="692.6" cy="1282.1"/><circle cx="649.8" cy="1254.3"/><circle cx="746.3" cy="1264.3"/><circle cx="751" cy="1271.9"/><circle cx="697.8" cy="1259.7"/><circle cx="693" cy="1263.4"/><circle cx="628.5" cy="1265.9"/><circle cx="611" cy="1272.4"/><circle cx="742.5" cy="1266.9"/><circle cx="731.9" cy="1263.2"/><circle cx="585.7" cy="1260.2"/><circle cx="718.2" cy="1272.2"/><circle cx="753.2" cy="1272.6"/><circle cx="742.9" cy="1286.5"/><circle cx="696.6" cy="1279.1"/><circle cx="675.5" cy="1276.1"/><circle cx="749.3" cy="1269.3"/><circle cx="594" cy="1265.4"/><circle cx="599.8" cy="1269.7"/><circle cx="693.1" cy="1262.4"/><circle cx="600.2" cy="1259.2"/><circle cx="687.3" cy="1244.6"/><circle cx="748.8" cy="1266.8"/><circle cx="727.9" cy="1254.3"/><circle cx="653.9" cy="1273.1"/><circle cx="712.3" cy="1275.2"/><circle cx="593.2" cy="1267.4"/><circle cx="525" cy="1274.4"/><circle cx="689.3" cy="1283.8"/><circle cx="700.2" cy="1272"/><circle cx="750.1" cy="1258.8"/><circle cx="750.4" cy="1266.5"/><circle cx="695.9" cy="1257.4"/><circle cx="744.6" cy="1273.8"/><circle cx="696" cy="1249"/><circle cx="733.1" cy="1272.2"/><circle cx="604.1" cy="1255.8"/><circle cx="520.8" cy="1272"/><circle cx="734.2" cy="1266.3"/><circle cx="744.8" cy="1275.9"/><circle cx="701.8" cy="1247.5"/><circle cx="654" cy="1279.9"/><circle cx="752.1" cy="1272.9"/><circle cx="744.3" cy="1270.8"/><circle cx="755.1" cy="1270.5"/><circle cx="736.6" cy="1260.9"/><circle cx="741" cy="1271.9"/><circle cx="662.2" cy="1257.7"/><circle cx="695.9" cy="1258.2"/><circle cx="712.5" cy="1271.3"/><circle cx="693" cy="1261.7"/><circle cx="692.9" cy="1277.9"/><circle cx="669.7" cy="1258.6"/><circle cx="689.7" cy="1263.6"/><circle cx="712.6" cy="1270.2"/><circle cx="616.2" cy="1261.4"/><circle cx="689.5" cy="1257"/><circle cx="612.3" cy="1288.5"/><circle cx="697.6" cy="1260.9"/><circle cx="682.7" cy="1268.9"/><circle cx="734.6" cy="1276"/><circle cx="757.6" cy="1272.4"/><circle cx="709.3" cy="1272.7"/><circle cx="686.4" cy="1265.8"/><circle cx="723" cy="1259.3"/><circle cx="743.4" cy="1268.8"/><circle cx="720.4" cy="1271.9"/><circle cx="713.9" cy="1255"/><circle cx="726.6" cy="1267.5"/><circle cx="752.6" cy="1275.9"/><circle cx="636.5" cy="1247.8"/><circle cx="727.3" cy="1269.9"/><circle cx="757.6" cy="1268.3"/><circle cx="692" cy="1260.1"/><circle cx="675.1" cy="1265.7"/><circle cx="710" cy="1259.8"/><circle cx="731.4" cy="1268.9"/><circle cx="672.4" cy="1274.7"/><circle cx="721.4" cy="1270.4"/><circle cx="640.9" cy="1272.3"/><circle cx="644.6" cy="1238.3"/><circle cx="573.8" cy="1280.6"/><circle cx="727" cy="1268.7"/><circle cx="744.5" cy="1257.9"/><circle cx="736.6" cy="1272.3"/><circle cx="582.6" cy="1247.7"/><circle cx="673.7" cy="1271.6"/><circle cx="585.1" cy="1256"/><circle cx="677.5" cy="1234"/><circle cx="584" cy="1268.2"/><circle cx="699.8" cy="1254.5"/><circle cx="582.9" cy="1263.4"/><circle cx="733.3" cy="1268.2"/><circle cx="691.8" cy="1252.2"/><circle cx="739.7" cy="1279.4"/><circle cx="677.3" cy="1255.5"/><circle cx="582.7" cy="1233.5"/><circle cx="606.8" cy="1273.8"/><circle cx="757.6" cy="1269.9"/><circle cx="661.4" cy="1269.7"/><circle cx="656.5" cy="1242.7"/><circle cx="687.4" cy="1256.3"/><circle cx="748.9" cy="1272.1"/><circle cx="654.7" cy="1246.8"/><circle cx="689.1" cy="1250.3"/><circle cx="739" cy="1260.1"/><circle cx="677.7" cy="1272.5"/><circle cx="745.8" cy="1273.4"/><circle cx="755.4" cy="1274.5"/><circle cx="693.3" cy="1249.2"/><circle cx="689" cy="1258.2"/><circle cx="542.9" cy="1273.6"/><circle cx="595.7" cy="1231.6"/><circle cx="740.3" cy="1273.9"/><circle cx="728.6" cy="1267.6"/><circle cx="732.3" cy="1276.8"/><circle cx="754.1" cy="1270.7"/><circle cx="699.1" cy="1252.5"/><circle cx="642.7" cy="1236.4"/><circle cx="670.7" cy="1261.1"/><circle cx="672.9" cy="1239.9"/><circle cx="747.4" cy="1269.4"/><circle cx="725.9" cy="1277.9"/><circle cx="643.8" cy="1283.1"/><circle cx="734.3" cy="1250.6"/><circle cx="671.2" cy="1254"/><circle cx="674.1" cy="1253.6"/><circle cx="718.5" cy="1284"/><circle cx="660.5" cy="1268.8"/><circle cx="738.5" cy="1262.4"/><circle cx="717" cy="1275.9"/><circle cx="590.1" cy="1243.6"/><circle cx="713.9" cy="1260.9"/><circle cx="533.6" cy="1271.6"/><circle cx="683.7" cy="1265.1"/><circle cx="746.3" cy="1267.6"/><circle cx="689.4" cy="1275.4"/><circle cx="731.2" cy="1267.4"/><circle cx="712.9" cy="1255.6"/><circle cx="678.2" cy="1270.8"/><circle cx="695.2" cy="1277.3"/><circle cx="685.9" cy="1263.9"/><circle cx="698.1" cy="1278.1"/><circle cx="699.5" cy="1269.9"/><circle cx="694.2" cy="1287.7"/><circle cx="726.1" cy="1251.2"/><circle cx="517.6" cy="1276.7"/><circle cx="744.9" cy="1275.9"/><circle cx="691.5" cy="1243.6"/><circle cx="752.5" cy="1265.8"/><circle cx="655.6" cy="1240"/><circle cx="684.7" cy="1272.7"/><circle cx="630.5" cy="1256.6"/><circle cx="696.7" cy="1275.5"/><circle cx="724.5" cy="1256.5"/><circle cx="739.4" cy="1263"/><circle cx="624.9" cy="1268.7"/><circle cx="746" cy="1265.9"/><circle cx="692.2" cy="1247.5"/><circle cx="756.2" cy="1271.6"/><circle cx="656.2" cy="1270.1"/><circle cx="667.8" cy="1253.5"/><circle cx="689.8" cy="1247.4"/><circle cx="667.1" cy="1249.2"/><circle cx="602" cy="1262.7"/><circle cx="754.9" cy="1267.6"/><circle cx="553.7" cy="1259.6"/><circle cx="615" cy="1254"/><circle cx="737.1" cy="1282.4"/><circle cx="635" cy="1277.6"/><circle cx="619.5" cy="1247.3"/><circle cx="543.4" cy="1253.2"/><circle cx="736.7" cy="1266.7"/><circle cx="685" cy="1259"/><circle cx="675.8" cy="1251.3"/><circle cx="633.5" cy="1245.6"/><circle cx="725" cy="1276.9"/><circle cx="615.9" cy="1281.4"/><circle cx="596" cy="1279.6"/><circle cx="748.9" cy="1272.3"/><circle cx="707.3" cy="1270.6"/><circle cx="741.5" cy="1272.9"/><circle cx="604.9" cy="1265.8"/><circle cx="684.7" cy="1278.9"/><circle cx="562.9" cy="1274.6"/><circle cx="746.6" cy="1267.7"/><circle cx="736.2" cy="1266.2"/><circle cx="713.9" cy="1249.2"/><circle cx="508" cy="1273.6"/><circle cx="716.4" cy="1268.7"/><circle cx="750.8" cy="1263.1"/><circle cx="687.5" cy="1280.5"/><circle cx="706.1" cy="1253.9"/><circle cx="751.2" cy="1268.1"/><circle cx="693.5" cy="1272.2"/><circle cx="653.8" cy="1274.4"/><circle cx="683.3" cy="1284.3"/><circle cx="712.7" cy="1291.1"/><circle cx="620.8" cy="1250.9"/><circle cx="697.4" cy="1280.1"/><circle cx="721.4" cy="1274.2"/><circle cx="717.3" cy="1247.9"/><circle cx="743.2" cy="1272.2"/><circle cx="670.9" cy="1244.8"/><circle cx="605.6" cy="1270.7"/><circle cx="731.8" cy="1283.7"/><circle cx="723.5" cy="1264.2"/><circle cx="631.7" cy="1274.2"/><circle cx="628.6" cy="1267"/><circle cx="692.9" cy="1285.5"/><circle cx="685.4" cy="1228.4"/><circle cx="656.1" cy="1260.9"/><circle cx="753.8" cy="1269.7"/><circle cx="688.4" cy="1275.7"/><circle cx="627.2" cy="1290.5"/><circle cx="736" cy="1257.4"/><circle cx="625.9" cy="1236"/><circle cx="670.1" cy="1257.7"/><circle cx="687.6" cy="1247.9"/><circle cx="717.4" cy="1280.5"/><circle cx="673.1" cy="1258"/><circle cx="688.8" cy="1277.9"/><circle cx="726.7" cy="1267.9"/><circle cx="645.4" cy="1248.7"/><circle cx="745.9" cy="1263.8"/><circle cx="714.3" cy="1260.6"/><circle cx="708.1" cy="1279.2"/><circle cx="649.7" cy="1270.6"/><circle cx="630.4" cy="1256.5"/><circle cx="726.2" cy="1265.1"/><circle cx="642.1" cy="1259.1"/><circle cx="698.4" cy="1253.3"/><circle cx="734.4" cy="1278.6"/><circle cx="754.9" cy="1270.6"/><circle cx="741.2" cy="1274.8"/><circle cx="560.5" cy="1234.5"/><circle cx="698" cy="1267"/><circle cx="756.4" cy="1271.8"/><circle cx="716.7" cy="1251"/><circle cx="712" cy="1262.7"/><circle cx="690.3" cy="1254.3"/><circle cx="650.5" cy="1271.2"/><circle cx="706.3" cy="1271.3"/><circle cx="570.1" cy="1267.6"/><circle cx="616.9" cy="1272.5"/><circle cx="751.4" cy="1269.3"/><circle cx="715.3" cy="1279.7"/><circle cx="744.8" cy="1270.8"/><circle cx="714.3" cy="1269.9"/><circle cx="650.1" cy="1274.4"/><circle cx="668.8" cy="1263.1"/><circle cx="731.5" cy="1251.4"/><circle cx="667.3" cy="1267.7"/><circle cx="707.3" cy="1272"/><circle cx="732.9" cy="1271.7"/><circle cx="626.4" cy="1250.7"/><circle cx="662" cy="1271.4"/><circle cx="715.3" cy="1286.7"/><circle cx="722.6" cy="1273.6"/><circle cx="750.5" cy="1269.5"/><circle cx="660.5" cy="1251.7"/><circle cx="685" cy="1268.8"/><circle cx="536.5" cy="1270.3"/><circle cx="735.4" cy="1278.9"/><circle cx="752.7" cy="1270.5"/><circle cx="674.2" cy="1264.2"/><circle cx="741.9" cy="1270.5"/><circle cx="745.8" cy="1262.5"/><circle cx="740.6" cy="1264"/><circle cx="729.8" cy="1279.8"/><circle cx="713.3" cy="1242.2"/><circle cx="725.1" cy="1275.4"/><circle cx="640.2" cy="1273.6"/><circle cx="699.5" cy="1234.3"/><circle cx="736" cy="1280"/><circle cx="706.4" cy="1268.6"/><circle cx="747.2" cy="1261.1"/><circle cx="583.1" cy="1278.3"/><circle cx="755.9" cy="1271.7"/><circle cx="740.6" cy="1270.9"/><circle cx="737.3" cy="1269.2"/><circle cx="741.6" cy="1271.4"/><circle cx="756.1" cy="1269.6"/><circle cx="684.9" cy="1256"/><circle cx="529.9" cy="1260.3"/><circle cx="684.6" cy="1284.8"/><circle cx="701.2" cy="1257.1"/><circle cx="677.4" cy="1274.2"/><circle cx="661" cy="1269.6"/><circle cx="704.1" cy="1269.8"/><circle cx="752.1" cy="1275.5"/><circle cx="638.4" cy="1281.8"/><circle cx="699.2" cy="1280.5"/><circle cx="754.2" cy="1270.5"/><circle cx="679.5" cy="1253.2"/><circle cx="712.1" cy="1292.1"/><circle cx="638.3" cy="1268.3"/><circle cx="650.2" cy="1265.4"/><circle cx="712.5" cy="1280.7"/><circle cx="598.9" cy="1267.4"/><circle cx="669.5" cy="1282.5"/><circle cx="751.4" cy="1264"/><circle cx="664.4" cy="1265.8"/><circle cx="586.4" cy="1272.1"/><circle cx="578.9" cy="1251.6"/><circle cx="643.2" cy="1249.3"/><circle cx="629" cy="1287.2"/><circle cx="638.7" cy="1251"/><circle cx="725.5" cy="1270.1"/><circle cx="544.8" cy="1257.7"/><circle cx="621.4" cy="1262.8"/><circle cx="665" cy="1268.7"/><circle cx="675.6" cy="1271.2"/><circle cx="683.3" cy="1268"/><circle cx="685.1" cy="1282.1"/><circle cx="717.1" cy="1257.1"/><circle cx="720.6" cy="1259.1"/><circle cx="713.6" cy="1252.1"/><circle cx="750" cy="1262.9"/><circle cx="664.3" cy="1244.6"/><circle cx="721.2" cy="1273.4"/><circle cx="638.4" cy="1265"/><circle cx="710.7" cy="1264.5"/><circle cx="738.1" cy="1272.2"/><circle cx="665.6" cy="1273.1"/><circle cx="688" cy="1269.9"/><circle cx="623.7" cy="1270.3"/><circle cx="659.3" cy="1249.1"/><circle cx="692.5" cy="1282"/><circle cx="682.9" cy="1257.7"/><circle cx="700.6" cy="1257.4"/><circle cx="715.4" cy="1261.1"/><circle cx="715.3" cy="1246.3"/><circle cx="678.2" cy="1272.7"/><circle cx="661.1" cy="1264.5"/><circle cx="679.9" cy="1264.6"/><circle cx="755.9" cy="1271.9"/><circle cx="654.6" cy="1244.8"/><circle cx="664.8" cy="1284.9"/><circle cx="592.1" cy="1252.8"/><circle cx="637.8" cy="1263.9"/><circle cx="706.6" cy="1276.4"/><circle cx="718.2" cy="1268.4"/><circle cx="723.2" cy="1252.8"/><circle cx="705.1" cy="1241.9"/><circle cx="747.4" cy="1270.5"/><circle cx="640.4" cy="1242.6"/><circle cx="746.1" cy="1262.1"/><circle cx="696.5" cy="1281.7"/><circle cx="675.1" cy="1277.5"/><circle cx="744.5" cy="1274"/><circle cx="701" cy="1275.9"/><circle cx="684.7" cy="1256.3"/><circle cx="732.2" cy="1280.7"/><circle cx="688.5" cy="1259.8"/><circle cx="674.2" cy="1291.7"/><circle cx="749.7" cy="1269.6"/><circle cx="754.4" cy="1272.7"/><circle cx="660.9" cy="1265.2"/><circle cx="713.4" cy="1270.4"/><circle cx="708.8" cy="1288"/><circle cx="626.2" cy="1256.2"/><circle cx="747" cy="1269.7"/><circle cx="719" cy="1257.5"/><circle cx="659.4" cy="1243.4"/><circle cx="580.7" cy="1258.6"/><circle cx="687.7" cy="1257"/><circle cx="750.6" cy="1271.8"/><circle cx="649.7" cy="1275.5"/><circle cx="510.6" cy="1258.9"/><circle cx="757.3" cy="1269.9"/><circle cx="753.6" cy="1265.6"/><circle cx="728.8" cy="1259.6"/><circle cx="611.3" cy="1275.4"/><circle cx="684.8" cy="1276"/><circle cx="659" cy="1237.4"/><circle cx="748.9" cy="1263.5"/><circle cx="755" cy="1270.8"/><circle cx="732.8" cy="1288.1"/><circle cx="669.3" cy="1262.6"/><circle cx="585.5" cy="1260.9"/><circle cx="691.2" cy="1261.4"/><circle cx="533.9" cy="1259.6"/><circle cx="693.6" cy="1280.6"/><circle cx="690.6" cy="1263.2"/><circle cx="752.9" cy="1267.7"/><circle cx="721" cy="1265.2"/><circle cx="693.5" cy="1280.4"/><circle cx="663.2" cy="1236.9"/><circle cx="732.1" cy="1265.9"/><circle cx="682.4" cy="1271.3"/><circle cx="707.7" cy="1251.3"/><circle cx="560.4" cy="1254"/><circle cx="741.1" cy="1267.8"/><circle cx="754.6" cy="1271.5"/><circle cx="645.7" cy="1257.5"/><circle cx="665.5" cy="1243.6"/><circle cx="654.5" cy="1285.2"/><circle cx="688.1" cy="1261.4"/><circle cx="749.1" cy="1272.4"/><circle cx="626.4" cy="1266.2"/><circle cx="669.9" cy="1269.8"/><circle cx="570.4" cy="1264.7"/><circle cx="708.3" cy="1263.8"/><circle cx="728.3" cy="1252.1"/><circle cx="754.7" cy="1273.9"/><circle cx="686.5" cy="1268.2"/><circle cx="676.7" cy="1267.3"/><circle cx="751.2" cy="1263"/><circle cx="536.1" cy="1275.6"/><circle cx="698.2" cy="1284"/><circle cx="554.4" cy="1254.4"/><circle cx="669.3" cy="1278.9"/><circle cx="608.7" cy="1272.9"/><circle cx="752.9" cy="1272.2"/><circle cx="585.6" cy="1263"/><circle cx="583.2" cy="1284.1"/><circle cx="733.4" cy="1273.1"/><circle cx="667.4" cy="1280.7"/><circle cx="696" cy="1266.6"/><circle cx="743.9" cy="1274.4"/><circle cx="685.4" cy="1257.2"/><circle cx="638.4" cy="1280.4"/><circle cx="598.1" cy="1270.7"/><circle cx="634" cy="1259.7"/><circle cx="606.9" cy="1265.4"/><circle cx="649.5" cy="1276.9"/><circle cx="723.3" cy="1249.4"/><circle cx="740.3" cy="1279.6"/><circle cx="656.5" cy="1275"/><circle cx="696.3" cy="1289"/><circle cx="714" cy="1252.9"/><circle cx="655.2" cy="1258.9"/><circle cx="650.7" cy="1263.5"/><circle cx="706.1" cy="1257.8"/><circle cx="698.1" cy="1254.1"/><circle cx="739.4" cy="1260.3"/><circle cx="758.2" cy="1270.3"/><circle cx="752.5" cy="1272.1"/><circle cx="584.3" cy="1280.5"/><circle cx="752.3" cy="1269.7"/><circle cx="665" cy="1274.1"/><circle cx="736" cy="1273.8"/><circle cx="574.5" cy="1256.5"/><circle cx="755.2" cy="1271.3"/><circle cx="629.6" cy="1265.8"/><circle cx="698.7" cy="1265.4"/><circle cx="737.5" cy="1268.6"/><circle cx="716.2" cy="1244.5"/><circle cx="700.3" cy="1271.1"/><circle cx="699.9" cy="1256.7"/><circle cx="752.1" cy="1269.8"/><circle cx="740.3" cy="1276.8"/><circle cx="752.1" cy="1268.4"/><circle cx="729.7" cy="1287"/><circle cx="604.6" cy="1262.5"/><circle cx="617.2" cy="1268.5"/><circle cx="695.2" cy="1251.7"/><circle cx="601.8" cy="1255.1"/><circle cx="654.8" cy="1259.8"/><circle cx="738.3" cy="1254"/><circle cx="730.7" cy="1258.9"/><circle cx="688" cy="1268.9"/><circle cx="723.5" cy="1250.5"/><circle cx="622.4" cy="1248.8"/><circle cx="709.3" cy="1263.8"/><circle cx="677.1" cy="1261.9"/><circle cx="557.7" cy="1242.2"/><circle cx="685.5" cy="1250"/><circle cx="668.4" cy="1279.8"/><circle cx="741.3" cy="1276.7"/><circle cx="755.1" cy="1271.9"/><circle cx="678.1" cy="1266.5"/><circle cx="747.9" cy="1269.6"/><circle cx="559.9" cy="1284.4"/><circle cx="666" cy="1260"/><circle cx="705" cy="1261.6"/><circle cx="741" cy="1257.2"/><circle cx="738.6" cy="1276.9"/><circle cx="751.3" cy="1267.5"/><circle cx="743.3" cy="1267.6"/><circle cx="593" cy="1273.6"/><circle cx="746.6" cy="1268.9"/><circle cx="669" cy="1260.7"/><circle cx="714.5" cy="1253.2"/><circle cx="545.7" cy="1269.9"/><circle cx="749.7" cy="1264.9"/><circle cx="697.7" cy="1250.1"/><circle cx="734.7" cy="1270.7"/><circle cx="629.3" cy="1269.6"/><circle cx="743.6" cy="1281.3"/><circle cx="658.9" cy="1265.4"/><circle cx="723.9" cy="1261"/><circle cx="653" cy="1281.1"/><circle cx="749.1" cy="1263.6"/><circle cx="667.4" cy="1232.1"/><circle cx="713.5" cy="1258.5"/><circle cx="745.5" cy="1267.5"/><circle cx="721" cy="1267.1"/><circle cx="690.1" cy="1253.2"/><circle cx="655.7" cy="1268.7"/><circle cx="648.3" cy="1250.3"/><circle cx="667.3" cy="1243.3"/><circle cx="750.4" cy="1267.1"/><circle cx="610.3" cy="1272.5"/><circle cx="625" cy="1257.2"/><circle cx="700.6" cy="1267.5"/><circle cx="696" cy="1290.3"/><circle cx="684.3" cy="1271.3"/><circle cx="746.5" cy="1271.9"/><circle cx="746.3" cy="1271.5"/><circle cx="748.8" cy="1261.9"/><circle cx="729.5" cy="1255.1"/><circle cx="692.3" cy="1274.7"/><circle cx="750.5" cy="1267.4"/><circle cx="639.1" cy="1270.3"/><circle cx="637.2" cy="1256.4"/><circle cx="667" cy="1273.2"/><circle cx="753.9" cy="1271"/><circle cx="720.2" cy="1277.7"/><circle cx="708.3" cy="1268.7"/><circle cx="736.5" cy="1268.3"/><circle cx="758.2" cy="1272.1"/><circle cx="569.7" cy="1253.9"/><circle cx="701.3" cy="1281.5"/><circle cx="682.3" cy="1264.3"/><circle cx="567.4" cy="1279.6"/><circle cx="703.5" cy="1270.1"/><circle cx="694.6" cy="1276.3"/><circle cx="649.8" cy="1260.3"/><circle cx="632.8" cy="1260"/><circle cx="723" cy="1272.2"/><circle cx="734" cy="1257.8"/><circle cx="745" cy="1266.1"/><circle cx="586.2" cy="1268"/><circle cx="696.5" cy="1255.2"/><circle cx="721.2" cy="1265.9"/><circle cx="692.8" cy="1275.3"/><circle cx="635.4" cy="1261"/><circle cx="743.6" cy="1276"/><circle cx="736.8" cy="1269.4"/><circle cx="687.3" cy="1279.1"/><circle cx="712.4" cy="1268.7"/><circle cx="660.5" cy="1225.2"/><circle cx="678.2" cy="1266.8"/><circle cx="699.2" cy="1261"/><circle cx="736.6" cy="1273.6"/><circle cx="714.4" cy="1292.9"/><circle cx="641.4" cy="1277.5"/><circle cx="750.8" cy="1269.6"/><circle cx="685" cy="1251.8"/><circle cx="683.6" cy="1257.2"/><circle cx="702.1" cy="1237"/><circle cx="696.2" cy="1257"/><circle cx="718" cy="1274.4"/><circle cx="750.8" cy="1269"/><circle cx="655.3" cy="1253.6"/><circle cx="674.8" cy="1266.6"/><circle cx="697.7" cy="1239.2"/><circle cx="739.6" cy="1262.1"/><circle cx="744.4" cy="1264"/><circle cx="744.4" cy="1262.8"/><circle cx="669.1" cy="1254.5"/><circle cx="671.1" cy="1250.7"/><circle cx="730.7" cy="1264.7"/><circle cx="665.6" cy="1268.1"/><circle cx="733.8" cy="1251.9"/><circle cx="688" cy="1270.8"/><circle cx="718.8" cy="1264.3"/><circle cx="754" cy="1266.7"/><circle cx="700.5" cy="1265.6"/><circle cx="691" cy="1252.8"/><circle cx="732.4" cy="1256"/><circle cx="753.8" cy="1263.2"/><circle cx="673.8" cy="1245.7"/><circle cx="709.7" cy="1262.2"/><circle cx="755.7" cy="1271.2"/><circle cx="643.4" cy="1271.3"/><circle cx="754.4" cy="1272.8"/><circle cx="630.2" cy="1264.5"/><circle cx="737.9" cy="1279.5"/><circle cx="705.2" cy="1258.9"/><circle cx="752" cy="1270.2"/><circle cx="640.2" cy="1246.5"/><circle cx="632.5" cy="1262"/><circle cx="739.1" cy="1270.1"/><circle cx="641.9" cy="1266.6"/><circle cx="741.6" cy="1268.9"/><circle cx="712.1" cy="1263.5"/><circle cx="637.2" cy="1267.8"/><circle cx="727.8" cy="1274.8"/><circle cx="748.9" cy="1270.9"/><circle cx="677.6" cy="1269"/><circle cx="705.7" cy="1248.1"/><circle cx="674.5" cy="1282.4"/><circle cx="695.1" cy="1269.3"/><circle cx="614.8" cy="1286.1"/><circle cx="729" cy="1261"/><circle cx="635.1" cy="1256.1"/><circle cx="724" cy="1279"/><circle cx="694.7" cy="1244.5"/><circle cx="695.7" cy="1286.6"/><circle cx="626.8" cy="1277.5"/><circle cx="665.4" cy="1256.6"/><circle cx="547" cy="1275.2"/><circle cx="755.9" cy="1274.9"/><circle cx="694.2" cy="1231.4"/><circle cx="708.4" cy="1267.3"/><circle cx="632.9" cy="1243.7"/><circle cx="671.9" cy="1255"/><circle cx="671.9" cy="1266.6"/><circle cx="739.7" cy="1273.9"/><circle cx="640.1" cy="1249.1"/><circle cx="661.5" cy="1246"/><circle cx="577.7" cy="1263.7"/><circle cx="752.7" cy="1267.3"/><circle cx="747.9" cy="1265.5"/><circle cx="706.4" cy="1257.7"/><circle cx="743" cy="1278.3"/><circle cx="747.9" cy="1269.8"/><circle cx="757.6" cy="1269.7"/><circle cx="749.2" cy="1273.2"/><circle cx="695.6" cy="1274"/><circle cx="721.3" cy="1268.7"/><circle cx="618" cy="1269.7"/><circle cx="709.8" cy="1278.4"/><circle cx="669.3" cy="1266.3"/><circle cx="695.8" cy="1231.3"/><circle cx="673.5" cy="1260.4"/><circle cx="731.3" cy="1258"/><circle cx="716.2" cy="1262.8"/><circle cx="747.6" cy="1258.8"/><circle cx="736.1" cy="1257.9"/><circle cx="630.1" cy="1243.5"/><circle cx="522.3" cy="1271"/><circle cx="702.6" cy="1274.9"/><circle cx="633.5" cy="1275.8"/><circle cx="753.7" cy="1269.3"/><circle cx="742.7" cy="1264.5"/><circle cx="658.5" cy="1251.8"/><circle cx="522.8" cy="1259.1"/><circle cx="721.8" cy="1271.2"/><circle cx="621.3" cy="1255.4"/><circle cx="749.2" cy="1273.6"/><circle cx="675" cy="1249.8"/><circle cx="749.9" cy="1275.5"/><circle cx="708.9" cy="1256.6"/><circle cx="647.7" cy="1270.7"/><circle cx="733.3" cy="1256.9"/><circle cx="719.8" cy="1255.6"/><circle cx="543.6" cy="1270.7"/><circle cx="572.7" cy="1267.9"/><circle cx="623.8" cy="1262.3"/><circle cx="558.2" cy="1257"/><circle cx="746.8" cy="1269.8"/><circle cx="736.3" cy="1252.9"/><circle cx="690.6" cy="1272.8"/><circle cx="687.4" cy="1250.2"/><circle cx="753.8" cy="1273.1"/><circle cx="601.1" cy="1273.2"/><circle cx="709.5" cy="1282.4"/><circle cx="612.9" cy="1253.9"/><circle cx="732.7" cy="1280.7"/><circle cx="680" cy="1261"/><circle cx="672.9" cy="1267.3"/><circle cx="696.5" cy="1280.6"/><circle cx="742.5" cy="1269.5"/><circle cx="742.7" cy="1259.2"/><circle cx="757.7" cy="1273.2"/><circle cx="724.9" cy="1259.1"/><circle cx="679.6" cy="1243.8"/><circle cx="735.1" cy="1252.4"/><circle cx="616.9" cy="1272.5"/><circle cx="697.4" cy="1273.2"/><circle cx="689.9" cy="1257.2"/><circle cx="727.7" cy="1272"/><circle cx="685.6" cy="1261.3"/><circle cx="724.2" cy="1261.3"/><circle cx="754" cy="1270.8"/><circle cx="580.6" cy="1267.3"/><circle cx="732.6" cy="1263.4"/><circle cx="690.1" cy="1246.4"/><circle cx="601.8" cy="1251.9"/><circle cx="614.4" cy="1257.8"/><circle cx="754.4" cy="1267.3"/><circle cx="639.5" cy="1249.1"/><circle cx="686.9" cy="1273.1"/><circle cx="600.2" cy="1266.3"/><circle cx="665.8" cy="1276.8"/><circle cx="671.6" cy="1268.1"/><circle cx="641.1" cy="1270.2"/><circle cx="732.9" cy="1263.8"/><circle cx="716.6" cy="1267.3"/><circle cx="664.8" cy="1244.4"/><circle cx="676.1" cy="1258.1"/><circle cx="706.9" cy="1260.7"/><circle cx="694.2" cy="1243.5"/><circle cx="642.2" cy="1255.2"/><circle cx="702.5" cy="1257"/><circle cx="703.7" cy="1251.8"/><circle cx="582.6" cy="1249.8"/><circle cx="661.6" cy="1277.6"/><circle cx="698.2" cy="1273.9"/><circle cx="592.8" cy="1265.6"/><circle cx="673" cy="1263.5"/><circle cx="603.7" cy="1265.3"/><circle cx="690.6" cy="1269.6"/><circle cx="653" cy="1261.5"/><circle cx="622.7" cy="1252"/><circle cx="756.9" cy="1269.6"/><circle cx="710.3" cy="1248.9"/><circle cx="723.5" cy="1235.7"/><circle cx="734.8" cy="1280.6"/><circle cx="678.2" cy="1264.9"/><circle cx="727.3" cy="1250.9"/><circle cx="727.5" cy="1255.8"/><circle cx="712.5" cy="1254.6"/><circle cx="602" cy="1247.8"/><circle cx="526.8" cy="1247.7"/><circle cx="696" cy="1268.6"/><circle cx="697.9" cy="1285.1"/><circle cx="754.6" cy="1269"/><circle cx="698.7" cy="1259.1"/><circle cx="727.8" cy="1262.4"/><circle cx="703.2" cy="1249.3"/><circle cx="754.7" cy="1270.4"/><circle cx="740.3" cy="1259.7"/><circle cx="732.8" cy="1253.4"/><circle cx="741.7" cy="1269.8"/><circle cx="688.1" cy="1276"/><circle cx="652.6" cy="1262.8"/><circle cx="695.7" cy="1262.9"/><circle cx="747.6" cy="1277.7"/><circle cx="737.7" cy="1269.9"/><circle cx="638.8" cy="1282.5"/><circle cx="723.7" cy="1243.7"/><circle cx="507.3" cy="1260.7"/><circle cx="715" cy="1255.1"/><circle cx="624.8" cy="1268.6"/><circle cx="752.4" cy="1278.3"/><circle cx="637" cy="1264"/><circle cx="709.2" cy="1260.2"/><circle cx="710.8" cy="1258.9"/><circle cx="724.3" cy="1282.3"/><circle cx="754.2" cy="1270.5"/><circle cx="648.6" cy="1269.8"/><circle cx="652" cy="1268.9"/><circle cx="736.1" cy="1263.6"/><circle cx="751.7" cy="1275.8"/><circle cx="656" cy="1279.7"/><circle cx="691.5" cy="1280.5"/><circle cx="654" cy="1267.6"/><circle cx="534.8" cy="1258.4"/><circle cx="711.3" cy="1235.4"/><circle cx="687.7" cy="1275.3"/><circle cx="718.8" cy="1245.3"/><circle cx="527" cy="1270.8"/><circle cx="712.1" cy="1261.5"/><circle cx="656.1" cy="1282.6"/><circle cx="697.2" cy="1247.9"/><circle cx="709.9" cy="1265.3"/><circle cx="677.4" cy="1264.3"/><circle cx="645.8" cy="1254.1"/><circle cx="515.6" cy="1274.8"/><circle cx="747.5" cy="1269"/><circle cx="687.1" cy="1261.1"/><circle cx="613.8" cy="1248.2"/><circle cx="695" cy="1268.3"/><circle cx="685.3" cy="1247.5"/><circle cx="705" cy="1258.6"/><circle cx="708.7" cy="1261.4"/><circle cx="731.7" cy="1282.3"/><circle cx="704.8" cy="1242.8"/><circle cx="748.1" cy="1271.5"/><circle cx="684.9" cy="1265.7"/><circle cx="610.6" cy="1248.6"/><circle cx="738.2" cy="1273.6"/><circle cx="657.3" cy="1264.8"/><circle cx="698.2" cy="1262.6"/><circle cx="742.3" cy="1268.1"/><circle cx="726.4" cy="1256.7"/><circle cx="671.6" cy="1285.8"/><circle cx="691.6" cy="1267.2"/><circle cx="723" cy="1258.2"/><circle cx="688.7" cy="1252.8"/><circle cx="693.6" cy="1279.9"/><circle cx="731" cy="1273.3"/><circle cx="667.9" cy="1243.3"/><circle cx="643.8" cy="1257"/><circle cx="737.8" cy="1268.9"/><circle cx="694.6" cy="1245.6"/><circle cx="672.8" cy="1269.1"/><circle cx="666.4" cy="1243.8"/><circle cx="611.4" cy="1245.3"/><circle cx="738.4" cy="1269.6"/><circle cx="693" cy="1273.4"/><circle cx="587.8" cy="1248.1"/><circle cx="670.3" cy="1248.3"/><circle cx="635.5" cy="1279.1"/><circle cx="707.5" cy="1259.2"/><circle cx="550.1" cy="1273.7"/><circle cx="745.6" cy="1270.9"/><circle cx="757.8" cy="1269.9"/><circle cx="688" cy="1264.2"/><circle cx="632.9" cy="1247.7"/><circle cx="702.4" cy="1281.5"/><circle cx="755.3" cy="1271.4"/><circle cx="733.7" cy="1261.7"/><circle cx="699.5" cy="1272.3"/><circle cx="676.8" cy="1266.5"/><circle cx="629" cy="1254.6"/><circle cx="530.9" cy="1272.8"/><circle cx="552.2" cy="1276.8"/><circle cx="728.9" cy="1269.5"/><circle cx="750.6" cy="1272.9"/><circle cx="641.8" cy="1243"/><circle cx="741.3" cy="1262.9"/><circle cx="580" cy="1263"/><circle cx="658.6" cy="1253.7"/><circle cx="623.6" cy="1266.4"/><circle cx="694.6" cy="1273.8"/><circle cx="691.4" cy="1247.3"/><circle cx="579.8" cy="1258"/><circle cx="734.7" cy="1251"/><circle cx="745.2" cy="1276.9"/><circle cx="694.8" cy="1271.3"/><circle cx="752.5" cy="1272.8"/><circle cx="564.9" cy="1255.9"/><circle cx="705.3" cy="1271.1"/><circle cx="600.6" cy="1271.7"/><circle cx="679.5" cy="1269.3"/><circle cx="699.6" cy="1263.5"/><circle cx="750.1" cy="1266.7"/><circle cx="689.1" cy="1253.1"/><circle cx="579.2" cy="1256.9"/><circle cx="669.3" cy="1271.7"/><circle cx="750.5" cy="1267.1"/><circle cx="741.5" cy="1258.6"/><circle cx="698" cy="1269.5"/><circle cx="671.3" cy="1245.3"/><circle cx="636.2" cy="1270.9"/><circle cx="664.5" cy="1266.7"/><circle cx="747.7" cy="1258.6"/><circle cx="737.2" cy="1271.6"/><circle cx="678" cy="1275.2"/><circle cx="748.3" cy="1269.7"/><circle cx="733.2" cy="1266.8"/><circle cx="660.1" cy="1246.4"/><circle cx="660.6" cy="1272.2"/><circle cx="611" cy="1279.2"/><circle cx="721.9" cy="1265.9"/><circle cx="638" cy="1268.7"/><circle cx="757" cy="1271"/><circle cx="719" cy="1274.5"/><circle cx="654.9" cy="1252.3"/><circle cx="594.9" cy="1269.5"/><circle cx="609.9" cy="1260.5"/><circle cx="752.5" cy="1263.5"/><circle cx="727" cy="1247"/><circle cx="700.7" cy="1253.4"/><circle cx="750.5" cy="1268.9"/><circle cx="750.6" cy="1265"/><circle cx="704.2" cy="1277.7"/><circle cx="668.2" cy="1252.5"/><circle cx="683.9" cy="1249.9"/><circle cx="636.3" cy="1261.8"/><circle cx="734.4" cy="1272.4"/><circle cx="685.8" cy="1257.7"/><circle cx="755.2" cy="1266.3"/><circle cx="728.7" cy="1251.4"/><circle cx="633.4" cy="1283"/><circle cx="713.4" cy="1267.8"/><circle cx="652.5" cy="1266.1"/><circle cx="638.8" cy="1275.3"/><circle cx="696.3" cy="1273.1"/><circle cx="658.8" cy="1260.6"/><circle cx="654.9" cy="1264"/><circle cx="616.1" cy="1241.3"/><circle cx="704.7" cy="1253.3"/><circle cx="648.7" cy="1242.5"/><circle cx="758.2" cy="1269.8"/><circle cx="526.7" cy="1279.8"/><circle cx="545.1" cy="1259.4"/><circle cx="680.5" cy="1268.4"/><circle cx="754.8" cy="1270"/><circle cx="753.8" cy="1274.8"/><circle cx="681.9" cy="1263.4"/><circle cx="583.8" cy="1275.4"/><circle cx="745" cy="1268.4"/><circle cx="681.7" cy="1275.2"/><circle cx="658.8" cy="1252.1"/><circle cx="750.3" cy="1270.7"/><circle cx="757.9" cy="1270.4"/><circle cx="705.5" cy="1281.4"/><circle cx="604.1" cy="1273.8"/><circle cx="532.8" cy="1251.6"/><circle cx="725.3" cy="1273.8"/><circle cx="654.3" cy="1263"/><circle cx="710.7" cy="1258.1"/><circle cx="737.8" cy="1280.1"/><circle cx="602.7" cy="1268.5"/><circle cx="581.1" cy="1259.3"/><circle cx="656.2" cy="1286"/><circle cx="725.2" cy="1254.7"/><circle cx="711.4" cy="1262.6"/><circle cx="756.1" cy="1270.8"/><circle cx="660" cy="1266.4"/><circle cx="525.7" cy="1257.8"/><circle cx="620.9" cy="1264.3"/><circle cx="682.7" cy="1284.8"/><circle cx="674.6" cy="1272.9"/><circle cx="688.3" cy="1273.2"/><circle cx="707.7" cy="1263.6"/><circle cx="650.2" cy="1253"/><circle cx="731.4" cy="1283.9"/><circle cx="706.1" cy="1274.5"/><circle cx="679.5" cy="1272.1"/><circle cx="728" cy="1263"/><circle cx="746.4" cy="1272.7"/><circle cx="609.4" cy="1272.3"/><circle cx="742.4" cy="1261.5"/><circle cx="655.4" cy="1264.9"/><circle cx="719.2" cy="1278.6"/><circle cx="642.7" cy="1272.1"/><circle cx="521.7" cy="1260.6"/><circle cx="695.7" cy="1257.8"/><circle cx="755.2" cy="1267.3"/><circle cx="675.9" cy="1261.6"/><circle cx="652.2" cy="1242.7"/><circle cx="742.8" cy="1261.4"/><circle cx="558.6" cy="1286.4"/><circle cx="741" cy="1270.9"/><circle cx="716.7" cy="1276.2"/><circle cx="750.9" cy="1265.9"/><circle cx="704.4" cy="1261.7"/><circle cx="682.6" cy="1269.4"/><circle cx="751.3" cy="1262.7"/><circle cx="746.3" cy="1269.4"/><circle cx="576.5" cy="1270.8"/><circle cx="720.2" cy="1279.6"/><circle cx="722.4" cy="1248.7"/><circle cx="653.4" cy="1275"/><circle cx="735.3" cy="1279"/><circle cx="746.1" cy="1266.5"/><circle cx="705.8" cy="1246.5"/><circle cx="681" cy="1257.1"/><circle cx="597.4" cy="1256.4"/><circle cx="694.9" cy="1284.4"/><circle cx="711.4" cy="1285.9"/><circle cx="689.7" cy="1252.4"/><circle cx="696.2" cy="1265.8"/><circle cx="755.3" cy="1273.2"/><circle cx="712.2" cy="1251.8"/><circle cx="652" cy="1251.7"/><circle cx="626.9" cy="1253"/><circle cx="742.9" cy="1265.8"/><circle cx="690.4" cy="1279"/><circle cx="598.8" cy="1255.4"/><circle cx="645.9" cy="1259"/><circle cx="629.2" cy="1270"/><circle cx="744.3" cy="1262.4"/><circle cx="715.8" cy="1262.4"/><circle cx="686" cy="1257.1"/><circle cx="651.4" cy="1262.7"/><circle cx="684.3" cy="1277.6"/><circle cx="607.1" cy="1258.2"/><circle cx="755.2" cy="1270.7"/><circle cx="712.6" cy="1265.4"/><circle cx="697.4" cy="1239.1"/><circle cx="656.9" cy="1261.2"/><circle cx="726.9" cy="1251.4"/><circle cx="745" cy="1271.1"/><circle cx="672.1" cy="1241.8"/><circle cx="690.9" cy="1253.5"/><circle cx="720" cy="1257.6"/><circle cx="717.6" cy="1259.3"/><circle cx="568.9" cy="1269.4"/><circle cx="686.7" cy="1237.9"/><circle cx="641.9" cy="1267.7"/><circle cx="692.6" cy="1289.4"/><circle cx="664.2" cy="1272.3"/><circle cx="700.1" cy="1276.4"/><circle cx="585" cy="1257.7"/><circle cx="746.8" cy="1262.2"/><circle cx="745.3" cy="1273.7"/><circle cx="752.2" cy="1266.8"/><circle cx="645.1" cy="1259.3"/><circle cx="643.4" cy="1272.7"/><circle cx="573.1" cy="1284.1"/><circle cx="679.5" cy="1274.7"/><circle cx="744.9" cy="1258.5"/><circle cx="644.8" cy="1280.3"/><circle cx="717.7" cy="1261.4"/><circle cx="729.8" cy="1285.2"/><circle cx="709.1" cy="1279.9"/><circle cx="682.7" cy="1268"/><circle cx="615.9" cy="1258.8"/><circle cx="651.9" cy="1269.5"/><circle cx="658.9" cy="1266.1"/><circle cx="694.5" cy="1265.2"/><circle cx="685.7" cy="1245.1"/><circle cx="687.9" cy="1250.1"/><circle cx="672.5" cy="1227.5"/><circle cx="669.6" cy="1277.4"/><circle cx="655.2" cy="1255.9"/><circle cx="746.4" cy="1269.4"/><circle cx="734.4" cy="1266.3"/><circle cx="655.9" cy="1265.8"/><circle cx="720.5" cy="1255.1"/><circle cx="733.3" cy="1258"/><circle cx="676.6" cy="1252.7"/><circle cx="643" cy="1259.1"/><circle cx="755.8" cy="1268.1"/><circle cx="728.1" cy="1263.3"/><circle cx="692.8" cy="1275.8"/><circle cx="647.1" cy="1254.9"/><circle cx="748.1" cy="1275.5"/><circle cx="753.1" cy="1268.7"/><circle cx="738.8" cy="1276"/><circle cx="748.3" cy="1271.6"/><circle cx="548.3" cy="1258.2"/><circle cx="598.1" cy="1234.3"/><circle cx="642.7" cy="1262.9"/><circle cx="746.4" cy="1268.3"/><circle cx="640" cy="1241.6"/><circle cx="684.9" cy="1260.2"/><circle cx="732.5" cy="1268.3"/><circle cx="719.3" cy="1272.1"/><circle cx="684" cy="1247.8"/><circle cx="652.9" cy="1255.2"/><circle cx="694.9" cy="1265.3"/><circle cx="702.1" cy="1265"/><circle cx="689.7" cy="1256.8"/><circle cx="663.9" cy="1257.3"/><circle cx="681.8" cy="1256.4"/><circle cx="722.4" cy="1260.8"/><circle cx="713.5" cy="1284.2"/><circle cx="569" cy="1273.4"/><circle cx="757.1" cy="1272.2"/><circle cx="748.5" cy="1264.2"/><circle cx="698.4" cy="1255.8"/><circle cx="736" cy="1265.7"/><circle cx="716.3" cy="1256.3"/><circle cx="722.1" cy="1277.6"/><circle cx="738.6" cy="1264.7"/><circle cx="547.5" cy="1262.2"/><circle cx="676.3" cy="1286.1"/><circle cx="723.1" cy="1273.4"/><circle cx="749.1" cy="1270"/><circle cx="651.7" cy="1248.4"/><circle cx="583.1" cy="1235.7"/><circle cx="738.6" cy="1278.6"/><circle cx="731.4" cy="1265.5"/><circle cx="676.1" cy="1272.2"/><circle cx="755.9" cy="1276.4"/><circle cx="757.1" cy="1273.7"/><circle cx="681.6" cy="1269.7"/><circle cx="753.7" cy="1271.9"/><circle cx="670.2" cy="1253.6"/><circle cx="649.8" cy="1266.4"/><circle cx="742" cy="1261.2"/><circle cx="633.8" cy="1277.9"/><circle cx="714.2" cy="1247.9"/><circle cx="696.9" cy="1274.6"/><circle cx="682" cy="1258"/><circle cx="672.8" cy="1265.5"/><circle cx="750.5" cy="1273.7"/><circle cx="746.5" cy="1261.2"/><circle cx="698.3" cy="1276.2"/><circle cx="683.7" cy="1267"/><circle cx="612.5" cy="1273.9"/><circle cx="706.2" cy="1265.5"/><circle cx="730.2" cy="1259.4"/><circle cx="694.3" cy="1287.8"/><circle cx="640.9" cy="1260.9"/><circle cx="744.1" cy="1273.3"/><circle cx="730.5" cy="1264.3"/><circle cx="606.8" cy="1275.5"/><circle cx="674.3" cy="1272.1"/><circle cx="556" cy="1270.4"/><circle cx="715.1" cy="1281.3"/><circle cx="703.3" cy="1289.3"/><circle cx="708.4" cy="1236.5"/><circle cx="722.7" cy="1250.9"/><circle cx="698.5" cy="1256"/><circle cx="647.3" cy="1248"/><circle cx="731.9" cy="1276.5"/><circle cx="626.5" cy="1254.4"/><circle cx="615.5" cy="1260.5"/><circle cx="579.2" cy="1257.3"/><circle cx="699.4" cy="1268.3"/><circle cx="734.6" cy="1273.2"/><circle cx="731.7" cy="1270.7"/><circle cx="668.4" cy="1253.2"/><circle cx="744.4" cy="1274"/><circle cx="632" cy="1269.9"/><circle cx="713" cy="1237.1"/><circle cx="704.7" cy="1242.3"/><circle cx="524.5" cy="1260.3"/><circle cx="683.9" cy="1280.4"/><circle cx="702.3" cy="1259.6"/><circle cx="688.7" cy="1249.9"/><circle cx="706.3" cy="1283.8"/><circle cx="672.3" cy="1280.3"/><circle cx="687.2" cy="1263"/><circle cx="741.2" cy="1266.1"/><circle cx="741.8" cy="1265.3"/><circle cx="736.5" cy="1279.3"/><circle cx="754.7" cy="1268.8"/><circle cx="736.2" cy="1263.2"/><circle cx="588.3" cy="1267.8"/><circle cx="650.1" cy="1251.4"/><circle cx="634.8" cy="1263.3"/><circle cx="686.6" cy="1247.7"/><circle cx="743" cy="1262.5"/><circle cx="756.7" cy="1271.3"/><circle cx="748.7" cy="1272"/><circle cx="594.5" cy="1263.3"/><circle cx="659.6" cy="1276.6"/><circle cx="741.2" cy="1265.8"/><circle cx="751.5" cy="1274.8"/><circle cx="711.5" cy="1270.1"/><circle cx="694.4" cy="1256.9"/><circle cx="709.7" cy="1287.1"/><circle cx="703.4" cy="1252.3"/><circle cx="723.2" cy="1253.8"/><circle cx="740.3" cy="1272.5"/><circle cx="612.6" cy="1255.9"/><circle cx="702.8" cy="1271.5"/><circle cx="621.3" cy="1261"/><circle cx="756.8" cy="1273.7"/><circle cx="730.9" cy="1272.4"/><circle cx="692.9" cy="1253.5"/><circle cx="672.5" cy="1275.9"/><circle cx="669.8" cy="1257.1"/><circle cx="598.4" cy="1287.2"/><circle cx="642.9" cy="1272.9"/><circle cx="712.7" cy="1256.7"/><circle cx="560.9" cy="1244.3"/><circle cx="687.1" cy="1277.7"/><circle cx="533.7" cy="1258.1"/><circle cx="614.3" cy="1266.2"/><circle cx="643.1" cy="1268.4"/><circle cx="698.8" cy="1262.5"/><circle cx="729.4" cy="1268.8"/><circle cx="757.1" cy="1272.9"/><circle cx="754.5" cy="1267"/><circle cx="677.5" cy="1238.6"/><circle cx="595.3" cy="1243.7"/><circle cx="696.4" cy="1259"/><circle cx="721" cy="1246.4"/><circle cx="746" cy="1275.8"/><circle cx="711.3" cy="1252.7"/><circle cx="511.7" cy="1260.7"/><circle cx="651.6" cy="1272.3"/><circle cx="717.4" cy="1265.5"/><circle cx="690.7" cy="1252.5"/><circle cx="513.6" cy="1271.8"/><circle cx="726.5" cy="1264.7"/><circle cx="749.6" cy="1267.9"/><circle cx="696.2" cy="1256"/><circle cx="673.2" cy="1260.7"/><circle cx="672.1" cy="1275.4"/><circle cx="720.3" cy="1269.8"/><circle cx="732" cy="1249.7"/><circle cx="691.4" cy="1258.8"/><circle cx="734.4" cy="1279.1"/><circle cx="644.6" cy="1259.4"/><circle cx="703.1" cy="1249.3"/><circle cx="661.2" cy="1259.2"/><circle cx="747.1" cy="1265.3"/><circle cx="704.9" cy="1278.1"/><circle cx="727.9" cy="1257.8"/><circle cx="709.6" cy="1263"/><circle cx="670.5" cy="1261.5"/><circle cx="748" cy="1266.1"/><circle cx="699.5" cy="1273.8"/><circle cx="724" cy="1276.6"/><circle cx="750.5" cy="1270.3"/><circle cx="751" cy="1279.1"/><circle cx="740" cy="1286.8"/><circle cx="664.3" cy="1288.8"/><circle cx="625.6" cy="1256.2"/><circle cx="672.6" cy="1267.8"/><circle cx="697.7" cy="1271.5"/><circle cx="681" cy="1279.1"/><circle cx="685.6" cy="1265.2"/><circle cx="754.5" cy="1264.2"/><circle cx="622" cy="1255.5"/><circle cx="743.4" cy="1281.1"/><circle cx="624" cy="1258.4"/><circle cx="730.4" cy="1264"/><circle cx="740.6" cy="1262"/><circle cx="704.6" cy="1265.7"/><circle cx="706.9" cy="1278.3"/><circle cx="667.8" cy="1254.3"/><circle cx="687.8" cy="1243.5"/><circle cx="689.3" cy="1276.1"/><circle cx="672.9" cy="1248.1"/><circle cx="595.4" cy="1281"/><circle cx="748.7" cy="1266.7"/><circle cx="708" cy="1254"/><circle cx="754.9" cy="1269.6"/><circle cx="734.3" cy="1289.3"/><circle cx="751.1" cy="1264"/><circle cx="696.8" cy="1261.8"/><circle cx="631.5" cy="1259.1"/><circle cx="599.5" cy="1255.8"/><circle cx="677.9" cy="1282.7"/><circle cx="688.8" cy="1280.8"/><circle cx="565" cy="1250.9"/><circle cx="698.1" cy="1261.1"/><circle cx="679.9" cy="1254.3"/><circle cx="737.2" cy="1270.4"/><circle cx="648.8" cy="1271"/><circle cx="752.8" cy="1270.3"/><circle cx="709.3" cy="1257.2"/><circle cx="695.4" cy="1275.2"/><circle cx="752.4" cy="1270"/><circle cx="749" cy="1269.9"/><circle cx="694" cy="1256.3"/><circle cx="729.2" cy="1276.2"/><circle cx="717.7" cy="1274"/><circle cx="756.8" cy="1270.5"/><circle cx="633.3" cy="1272.2"/><circle cx="646.5" cy="1254.6"/><circle cx="643.7" cy="1257.4"/><circle cx="725.3" cy="1274.9"/><circle cx="656.9" cy="1286.5"/><circle cx="686.9" cy="1253.6"/><circle cx="695.6" cy="1281.7"/><circle cx="738.1" cy="1276.1"/><circle cx="740.7" cy="1264.1"/><circle cx="714.5" cy="1287.9"/><circle cx="620.4" cy="1263"/><circle cx="656.6" cy="1260.1"/><circle cx="619.8" cy="1250.2"/><circle cx="688.4" cy="1254.5"/><circle cx="697.4" cy="1260.3"/><circle cx="607" cy="1244.8"/><circle cx="695.7" cy="1254.7"/><circle cx="680.3" cy="1291.2"/><circle cx="693.2" cy="1259.1"/><circle cx="728.1" cy="1263.9"/><circle cx="644.2" cy="1271.8"/><circle cx="633.7" cy="1259.7"/><circle cx="675.7" cy="1267.6"/><circle cx="756" cy="1271.4"/><circle cx="730.8" cy="1274.3"/><circle cx="725.2" cy="1266.6"/><circle cx="674.7" cy="1274.3"/><circle cx="757.3" cy="1271"/><circle cx="680.5" cy="1277.4"/><circle cx="715.3" cy="1281.7"/><circle cx="667.6" cy="1273.9"/><circle cx="655.2" cy="1260.6"/><circle cx="708.3" cy="1267.7"/><circle cx="680.5" cy="1235.2"/><circle cx="724.6" cy="1262"/><circle cx="609.5" cy="1276.9"/><circle cx="635.7" cy="1258.8"/><circle cx="715.9" cy="1265.3"/><circle cx="612.6" cy="1263.5"/><circle cx="677.3" cy="1272.2"/><circle cx="724.4" cy="1255.2"/><circle cx="750.5" cy="1268.4"/><circle cx="731.2" cy="1280"/><circle cx="668.3" cy="1256.9"/><circle cx="652.3" cy="1275.9"/><circle cx="661.5" cy="1276.2"/><circle cx="685.3" cy="1258.1"/><circle cx="520.3" cy="1273.6"/><circle cx="682.2" cy="1262.6"/><circle cx="634.7" cy="1258.7"/><circle cx="734" cy="1262.9"/><circle cx="636.4" cy="1256.5"/><circle cx="708.8" cy="1258.5"/><circle cx="616.8" cy="1268.6"/><circle cx="659.1" cy="1243"/><circle cx="598.3" cy="1274.6"/><circle cx="590.3" cy="1273.9"/><circle cx="701.4" cy="1264.6"/><circle cx="676.1" cy="1247.1"/><circle cx="669.8" cy="1271.5"/><circle cx="754.8" cy="1275.6"/><circle cx="728.8" cy="1268.8"/><circle cx="741.5" cy="1263.3"/><circle cx="723.1" cy="1250.7"/><circle cx="527" cy="1280.3"/><circle cx="664.9" cy="1243.1"/><circle cx="749.9" cy="1278.8"/><circle cx="642.7" cy="1253.4"/><circle cx="737.7" cy="1257.6"/><circle cx="675.5" cy="1258.4"/><circle cx="737.5" cy="1254.1"/><circle cx="551.7" cy="1276.3"/><circle cx="635" cy="1254.8"/><circle cx="595.6" cy="1265"/><circle cx="605.3" cy="1276.3"/><circle cx="749.7" cy="1268.6"/><circle cx="678.8" cy="1268.2"/><circle cx="733.5" cy="1261.2"/><circle cx="588.9" cy="1269.7"/><circle cx="657.8" cy="1251.3"/><circle cx="631" cy="1276.6"/><circle cx="694.5" cy="1254.4"/><circle cx="734.6" cy="1282.2"/><circle cx="746.5" cy="1258.7"/><circle cx="671.5" cy="1271.7"/><circle cx="643.9" cy="1291.7"/><circle cx="710.7" cy="1248"/><circle cx="737.1" cy="1254.9"/><circle cx="741.7" cy="1260.9"/><circle cx="672.6" cy="1248.4"/><circle cx="757.2" cy="1273.3"/><circle cx="705.5" cy="1268.4"/><circle cx="743.2" cy="1266.4"/><circle cx="738.1" cy="1266.6"/><circle cx="746.9" cy="1268.8"/><circle cx="756.8" cy="1269.5"/><circle cx="755.2" cy="1266.6"/><circle cx="698.5" cy="1267"/><circle cx="718" cy="1253.1"/><circle cx="666.7" cy="1271.3"/><circle cx="694.7" cy="1287"/><circle cx="725.5" cy="1262.1"/><circle cx="730.8" cy="1282"/><circle cx="675.4" cy="1261.5"/><circle cx="746.3" cy="1274.4"/><circle cx="726" cy="1281.1"/><circle cx="751.8" cy="1271.9"/><circle cx="743.7" cy="1283.9"/><circle cx="687" cy="1237.9"/><circle cx="693.7" cy="1264.4"/><circle cx="612.6" cy="1255.7"/><circle cx="740.9" cy="1271.2"/><circle cx="515" cy="1253.3"/><circle cx="733.5" cy="1270.7"/><circle cx="747.4" cy="1269.4"/><circle cx="709.4" cy="1271.8"/><circle cx="557.3" cy="1275.6"/><circle cx="711.9" cy="1262.8"/><circle cx="711.3" cy="1247.1"/><circle cx="670" cy="1270.9"/><circle cx="633.2" cy="1258.4"/><circle cx="623.7" cy="1262.7"/><circle cx="699.8" cy="1242.6"/><circle cx="648.9" cy="1274.6"/><circle cx="683.9" cy="1280.3"/><circle cx="719.4" cy="1258.6"/><circle cx="722.6" cy="1257.8"/><circle cx="712.1" cy="1255"/><circle cx="516.5" cy="1272.2"/><circle cx="636.2" cy="1258.6"/><circle cx="579.9" cy="1250.5"/><circle cx="635.9" cy="1269.5"/><circle cx="682.1" cy="1277.7"/><circle cx="729.7" cy="1268.8"/><circle cx="698.6" cy="1252.6"/><circle cx="756.5" cy="1267.3"/><circle cx="753.1" cy="1266.5"/><circle cx="734.6" cy="1272.2"/><circle cx="648.3" cy="1258.2"/><circle cx="669.5" cy="1269.5"/><circle cx="757.6" cy="1272.4"/><circle cx="634.9" cy="1234.6"/><circle cx="603.1" cy="1254.9"/><circle cx="664.2" cy="1262.6"/><circle cx="756" cy="1268.5"/><circle cx="733.6" cy="1262.2"/><circle cx="726.9" cy="1263.3"/><circle cx="609.2" cy="1281.1"/><circle cx="702.6" cy="1280.5"/><circle cx="678.7" cy="1251.2"/><circle cx="747.4" cy="1279.3"/><circle cx="735.2" cy="1258.9"/><circle cx="750" cy="1265.1"/><circle cx="657" cy="1276.6"/><circle cx="606" cy="1258.5"/><circle cx="741.1" cy="1263.7"/><circle cx="715.1" cy="1270.1"/><circle cx="712.2" cy="1256.5"/><circle cx="706.5" cy="1278.4"/><circle cx="721.2" cy="1267"/><circle cx="738.2" cy="1267.7"/><circle cx="684.3" cy="1250.7"/><circle cx="739" cy="1257.5"/><circle cx="664.8" cy="1261.3"/><circle cx="750.5" cy="1269.2"/><circle cx="743.8" cy="1265.6"/><circle cx="669" cy="1271.5"/><circle cx="585.6" cy="1261.9"/><circle cx="680.7" cy="1257.8"/><circle cx="745.9" cy="1269.6"/><circle cx="634.4" cy="1277.2"/><circle cx="700.8" cy="1267.1"/><circle cx="662.1" cy="1274"/><circle cx="657.8" cy="1250.3"/><circle cx="743.4" cy="1265"/><circle cx="752" cy="1276.4"/><circle cx="683.6" cy="1260.9"/><circle cx="722" cy="1246.7"/><circle cx="729.9" cy="1251.8"/><circle cx="673.3" cy="1265.2"/><circle cx="746.8" cy="1277.9"/><circle cx="675.6" cy="1266.5"/><circle cx="681.9" cy="1264.9"/><circle cx="681.9" cy="1248.3"/><circle cx="622.1" cy="1246"/><circle cx="745.6" cy="1266"/><circle cx="681.5" cy="1252.1"/><circle cx="695.2" cy="1263.6"/><circle cx="625.6" cy="1247.6"/><circle cx="757.6" cy="1272"/><circle cx="711.9" cy="1288.5"/><circle cx="713.4" cy="1264.4"/><circle cx="661.2" cy="1249.4"/><circle cx="749.9" cy="1266.3"/><circle cx="758" cy="1272.2"/><circle cx="712.3" cy="1241.3"/><circle cx="661.7" cy="1291.6"/><circle cx="638.3" cy="1261"/><circle cx="757.5" cy="1274.3"/><circle cx="559.8" cy="1277.3"/><circle cx="697.2" cy="1241.3"/><circle cx="748.7" cy="1262.6"/><circle cx="703.7" cy="1249.4"/><circle cx="755.6" cy="1274.3"/><circle cx="735" cy="1256.8"/><circle cx="725.7" cy="1277"/><circle cx="717.5" cy="1272.1"/><circle cx="665" cy="1265.8"/><circle cx="729.2" cy="1248.4"/><circle cx="655.1" cy="1284.4"/><circle cx="695.7" cy="1261.6"/><circle cx="729.1" cy="1267.1"/><circle cx="744.4" cy="1274.9"/><circle cx="613.5" cy="1276.4"/><circle cx="694" cy="1269.8"/><circle cx="745.4" cy="1254"/><circle cx="686.3" cy="1249.8"/><circle cx="738.9" cy="1281"/><circle cx="639.2" cy="1277.8"/><circle cx="543.9" cy="1271.5"/><circle cx="748.2" cy="1269.1"/><circle cx="711.7" cy="1270.2"/><circle cx="707.4" cy="1232.3"/><circle cx="737.3" cy="1255.4"/><circle cx="579" cy="1257"/><circle cx="654.1" cy="1253.5"/><circle cx="739.1" cy="1276.2"/><circle cx="752.7" cy="1274.8"/><circle cx="693.3" cy="1280.9"/><circle cx="671.3" cy="1278.1"/><circle cx="718" cy="1279"/><circle cx="728.6" cy="1259.8"/><circle cx="753.1" cy="1269.7"/><circle cx="673.7" cy="1269.5"/><circle cx="711.8" cy="1264.1"/><circle cx="740" cy="1261.1"/><circle cx="661.3" cy="1266"/><circle cx="751.5" cy="1279.1"/><circle cx="736.3" cy="1278.9"/><circle cx="641.5" cy="1271.9"/><circle cx="553" cy="1273.8"/><circle cx="489" cy="1259.6"/><circle cx="573.2" cy="1276.3"/><circle cx="720.6" cy="1294.2"/><circle cx="695.5" cy="1285.7"/><circle cx="688.1" cy="1242.2"/><circle cx="719.3" cy="1261.8"/><circle cx="739.5" cy="1273.6"/><circle cx="735.8" cy="1259.3"/><circle cx="749.2" cy="1269.5"/><circle cx="748.5" cy="1266.3"/><circle cx="568.7" cy="1269.5"/><circle cx="747.2" cy="1270.3"/><circle cx="721.6" cy="1269.2"/><circle cx="736.3" cy="1274.8"/><circle cx="688.4" cy="1255.8"/><circle cx="686.1" cy="1244.5"/><circle cx="618.3" cy="1258.5"/><circle cx="694.3" cy="1258"/><circle cx="655.2" cy="1239.1"/><circle cx="693.1" cy="1277.4"/><circle cx="739.6" cy="1268.2"/><circle cx="695.8" cy="1265.7"/><circle cx="639.1" cy="1271.7"/><circle cx="585.1" cy="1247.3"/><circle cx="597.6" cy="1239.9"/><circle cx="681.1" cy="1254"/><circle cx="636.6" cy="1259.1"/><circle cx="732.4" cy="1269.2"/><circle cx="753.4" cy="1274.3"/><circle cx="613.4" cy="1253.9"/><circle cx="743.6" cy="1273.2"/><circle cx="688.9" cy="1252.7"/><circle cx="739.6" cy="1267.4"/><circle cx="571" cy="1247.9"/><circle cx="712" cy="1293.1"/><circle cx="685" cy="1277.9"/><circle cx="645.6" cy="1256.1"/><circle cx="730.6" cy="1259.8"/><circle cx="699.1" cy="1264"/><circle cx="624.9" cy="1259"/><circle cx="659.7" cy="1265.5"/><circle cx="688" cy="1253.6"/><circle cx="697.1" cy="1264.9"/><circle cx="744.1" cy="1272.5"/><circle cx="673.8" cy="1279.3"/><circle cx="740.8" cy="1269.1"/><circle cx="749.6" cy="1270.8"/><circle cx="690.8" cy="1266.1"/><circle cx="750.2" cy="1266"/><circle cx="757.5" cy="1273"/><circle cx="704.6" cy="1251"/><circle cx="744.4" cy="1259"/><circle cx="652.3" cy="1273.8"/><circle cx="704.7" cy="1256.3"/><circle cx="735.2" cy="1274.6"/><circle cx="729.3" cy="1263.8"/><circle cx="693.3" cy="1276.2"/><circle cx="693.5" cy="1259.3"/><circle cx="646.1" cy="1251.5"/><circle cx="593.3" cy="1265.6"/><circle cx="628.1" cy="1256.5"/><circle cx="727.2" cy="1281.4"/><circle cx="754.7" cy="1272"/><circle cx="756.7" cy="1271.5"/><circle cx="712.1" cy="1276.5"/><circle cx="562" cy="1260.7"/><circle cx="676.4" cy="1261.3"/><circle cx="591.6" cy="1270.5"/><circle cx="700.6" cy="1269.1"/><circle cx="745" cy="1255.5"/><circle cx="741.4" cy="1262.1"/><circle cx="692.7" cy="1262.4"/><circle cx="708.3" cy="1271.9"/><circle cx="646.8" cy="1266"/><circle cx="663.8" cy="1238.2"/><circle cx="735.3" cy="1272.3"/><circle cx="741.4" cy="1276.3"/><circle cx="685" cy="1268.2"/><circle cx="685.3" cy="1258.3"/><circle cx="663.9" cy="1254.2"/><circle cx="626.5" cy="1265.1"/><circle cx="698.4" cy="1250.6"/><circle cx="756.4" cy="1269.3"/><circle cx="701.4" cy="1258.6"/><circle cx="692.9" cy="1275.4"/><circle cx="727.9" cy="1274"/><circle cx="561.7" cy="1259.5"/><circle cx="751.3" cy="1272.5"/><circle cx="630.3" cy="1263.4"/><circle cx="754.8" cy="1271.6"/><circle cx="681.6" cy="1266.4"/><circle cx="698" cy="1272.1"/><circle cx="553.9" cy="1254.2"/><circle cx="627.8" cy="1265.4"/><circle cx="484.4" cy="1273.4"/><circle cx="509" cy="1255.5"/><circle cx="733.8" cy="1280.8"/><circle cx="669.8" cy="1280.4"/><circle cx="688.3" cy="1270.9"/><circle cx="745.3" cy="1270.8"/><circle cx="698" cy="1260.9"/><circle cx="693.2" cy="1247.9"/><circle cx="648.1" cy="1255.5"/><circle cx="688.7" cy="1248.1"/><circle cx="740.3" cy="1266.8"/><circle cx="758.2" cy="1271.2"/><circle cx="735.4" cy="1266.8"/><circle cx="721.1" cy="1257.1"/><circle cx="679.9" cy="1268.5"/><circle cx="596.9" cy="1252.2"/><circle cx="683.7" cy="1283.9"/><circle cx="730.8" cy="1272.7"/><circle cx="715.6" cy="1251.8"/><circle cx="753.8" cy="1278.1"/><circle cx="735.3" cy="1285.4"/><circle cx="721.9" cy="1260.2"/><circle cx="663.6" cy="1251.1"/><circle cx="700.4" cy="1272.2"/><circle cx="599.5" cy="1262"/><circle cx="739.8" cy="1264.7"/><circle cx="614.1" cy="1260.6"/><circle cx="688.9" cy="1246.1"/><circle cx="734" cy="1267.3"/><circle cx="694.6" cy="1259.1"/><circle cx="684" cy="1242.8"/><circle cx="728.5" cy="1261.3"/><circle cx="731" cy="1245.1"/><circle cx="616.2" cy="1259.5"/><circle cx="607.6" cy="1270"/><circle cx="693" cy="1242.8"/><circle cx="690" cy="1266.7"/><circle cx="607.4" cy="1263.6"/><circle cx="633.4" cy="1277.5"/><circle cx="731.1" cy="1267.4"/><circle cx="655.3" cy="1249.5"/><circle cx="711" cy="1261.1"/><circle cx="724.4" cy="1264.8"/><circle cx="707.1" cy="1231.3"/><circle cx="750" cy="1265.4"/><circle cx="729.3" cy="1241.7"/><circle cx="750.5" cy="1275.9"/><circle cx="745.6" cy="1268.1"/><circle cx="643.2" cy="1238.3"/><circle cx="631.8" cy="1283.9"/><circle cx="749.2" cy="1272.7"/><circle cx="656.1" cy="1278"/><circle cx="670.5" cy="1267.9"/><circle cx="680.5" cy="1262.2"/><circle cx="735.8" cy="1266.8"/><circle cx="723.7" cy="1266"/><circle cx="705" cy="1254.8"/><circle cx="667.8" cy="1249.9"/><circle cx="745.4" cy="1278"/><circle cx="665.6" cy="1257"/><circle cx="753.6" cy="1270.1"/><circle cx="624.8" cy="1246.3"/><circle cx="739.8" cy="1265.5"/><circle cx="672.8" cy="1241.3"/><circle cx="605.7" cy="1264.4"/><circle cx="684.5" cy="1259.1"/><circle cx="551.2" cy="1270.6"/><circle cx="542.3" cy="1258"/><circle cx="671.6" cy="1260.1"/><circle cx="712.7" cy="1273.2"/><circle cx="712.8" cy="1267.3"/><circle cx="573.3" cy="1268.7"/><circle cx="748.8" cy="1281.5"/><circle cx="744.2" cy="1278.1"/><circle cx="525.5" cy="1277.8"/><circle cx="752.3" cy="1274.3"/><circle cx="754.6" cy="1271"/><circle cx="733.9" cy="1253.2"/><circle cx="640.8" cy="1268.1"/><circle cx="755.6" cy="1268.4"/><circle cx="741.4" cy="1270.5"/><circle cx="672.8" cy="1263.5"/><circle cx="600.6" cy="1282.6"/><circle cx="633" cy="1267.5"/><circle cx="643.1" cy="1279.5"/><circle cx="756.9" cy="1271.1"/><circle cx="739.6" cy="1271.5"/><circle cx="738.4" cy="1268"/><circle cx="745.3" cy="1281"/><circle cx="601.1" cy="1249.4"/><circle cx="663.6" cy="1249.2"/><circle cx="683.8" cy="1270"/><circle cx="525.4" cy="1270.6"/><circle cx="626.5" cy="1267.8"/><circle cx="738.2" cy="1259.1"/><circle cx="688.1" cy="1233"/><circle cx="592.1" cy="1266.7"/><circle cx="660.7" cy="1270.2"/><circle cx="676.8" cy="1274.8"/><circle cx="696.6" cy="1259.9"/><circle cx="629.3" cy="1250"/><circle cx="697.6" cy="1250.2"/><circle cx="696.3" cy="1270.9"/><circle cx="526.2" cy="1271.1"/><circle cx="697.2" cy="1222.8"/><circle cx="674.5" cy="1239.4"/><circle cx="566.3" cy="1277.6"/><circle cx="651.2" cy="1261.6"/><circle cx="655.8" cy="1242.7"/><circle cx="724" cy="1243.6"/><circle cx="698.8" cy="1274.8"/><circle cx="732.1" cy="1247.3"/><circle cx="728.4" cy="1265.9"/><circle cx="600.8" cy="1257"/><circle cx="753.2" cy="1266.9"/><circle cx="744.4" cy="1256.7"/><circle cx="534.7" cy="1259.2"/><circle cx="690.9" cy="1260.6"/><circle cx="649.3" cy="1252.8"/><circle cx="743.1" cy="1262.8"/><circle cx="740.5" cy="1286"/><circle cx="626.6" cy="1249.1"/><circle cx="699.8" cy="1276.6"/><circle cx="744" cy="1267.7"/><circle cx="743.9" cy="1250.7"/><circle cx="615.3" cy="1244"/><circle cx="541.3" cy="1261.6"/><circle cx="678.4" cy="1263.5"/><circle cx="686.1" cy="1251.3"/><circle cx="703.5" cy="1256.8"/><circle cx="569.2" cy="1261.8"/><circle cx="674.3" cy="1239"/><circle cx="701.7" cy="1250.5"/><circle cx="726.5" cy="1256.7"/><circle cx="689.2" cy="1268.7"/><circle cx="698.7" cy="1279.7"/><circle cx="690.9" cy="1255"/><circle cx="722" cy="1262.3"/><circle cx="731.4" cy="1259.7"/><circle cx="755.6" cy="1270.8"/><circle cx="700.9" cy="1261.7"/><circle cx="654.7" cy="1255.8"/><circle cx="674.7" cy="1249"/><circle cx="628.6" cy="1281.7"/><circle cx="745" cy="1265.7"/><circle cx="739.9" cy="1261.7"/><circle cx="599.6" cy="1254.8"/><circle cx="579.8" cy="1258.5"/><circle cx="670.1" cy="1253.4"/><circle cx="609.1" cy="1242.7"/><circle cx="747.7" cy="1270.5"/><circle cx="657" cy="1262.4"/><circle cx="712.1" cy="1281.1"/><circle cx="752.6" cy="1268.6"/><circle cx="724.5" cy="1260.3"/><circle cx="743.7" cy="1269.6"/><circle cx="756.2" cy="1269.5"/><circle cx="689.6" cy="1256.3"/><circle cx="757.7" cy="1271.6"/><circle cx="692.4" cy="1265.1"/><circle cx="698" cy="1251.8"/><circle cx="731.6" cy="1261.6"/><circle cx="690.8" cy="1280.9"/><circle cx="705.6" cy="1260"/><circle cx="641.3" cy="1266.5"/><circle cx="678.2" cy="1254.5"/><circle cx="503.3" cy="1260.4"/><circle cx="738.8" cy="1270.5"/><circle cx="668.8" cy="1284.1"/><circle cx="594.3" cy="1262.6"/><circle cx="755" cy="1267.4"/><circle cx="639.6" cy="1241.2"/><circle cx="755.3" cy="1273.2"/><circle cx="730.4" cy="1262.4"/><circle cx="652.6" cy="1270.5"/><circle cx="668.9" cy="1264.4"/><circle cx="628.2" cy="1260.9"/><circle cx="687.3" cy="1248.6"/><circle cx="758" cy="1270.4"/><circle cx="625.3" cy="1273.7"/><circle cx="630.7" cy="1264.2"/><circle cx="737.4" cy="1289"/><circle cx="651.7" cy="1262.1"/><circle cx="752.7" cy="1273.2"/><circle cx="730.8" cy="1270.6"/><circle cx="578" cy="1264"/><circle cx="519" cy="1255.3"/><circle cx="753.7" cy="1269.7"/><circle cx="693.1" cy="1242.7"/><circle cx="748" cy="1271.2"/><circle cx="681.6" cy="1278.1"/><circle cx="587" cy="1267.4"/><circle cx="743.8" cy="1259.3"/><circle cx="753.4" cy="1267.3"/><circle cx="670" cy="1276.2"/><circle cx="755.3" cy="1269.6"/><circle cx="690.9" cy="1262.2"/><circle cx="744.3" cy="1274"/><circle cx="741.5" cy="1272.3"/><circle cx="733.1" cy="1264.6"/><circle cx="682.8" cy="1264.4"/><circle cx="629" cy="1280.1"/><circle cx="721.3" cy="1274.3"/><circle cx="684.6" cy="1254.6"/><circle cx="707.9" cy="1261.5"/><circle cx="617.5" cy="1261.8"/><circle cx="691.9" cy="1281.7"/><circle cx="721.6" cy="1274.8"/><circle cx="602.2" cy="1267.9"/><circle cx="724.8" cy="1280.6"/><circle cx="701.9" cy="1269.4"/><circle cx="679.2" cy="1263.1"/><circle cx="664.3" cy="1253.8"/><circle cx="676.9" cy="1271.3"/><circle cx="675.2" cy="1271.1"/><circle cx="593.9" cy="1272.6"/><circle cx="696.5" cy="1265.6"/><circle cx="650" cy="1244.5"/><circle cx="679.4" cy="1245.4"/><circle cx="671.1" cy="1269.5"/><circle cx="748.4" cy="1270.8"/><circle cx="655.9" cy="1276.4"/><circle cx="745.2" cy="1255.6"/><circle cx="496.1" cy="1260"/><circle cx="692.5" cy="1280.5"/><circle cx="577.8" cy="1257.9"/><circle cx="648.3" cy="1274.4"/><circle cx="753.7" cy="1268.3"/><circle cx="705.4" cy="1285.3"/><circle cx="643.5" cy="1276.7"/><circle cx="662.9" cy="1249.4"/><circle cx="732.6" cy="1270.9"/><circle cx="609.8" cy="1246.9"/><circle cx="639.6" cy="1266.5"/><circle cx="719.9" cy="1268.7"/><circle cx="726.9" cy="1269.5"/><circle cx="707.1" cy="1270.6"/><circle cx="745.4" cy="1272.3"/><circle cx="730.9" cy="1258.6"/><circle cx="669.4" cy="1270.5"/><circle cx="647.3" cy="1247.4"/><circle cx="733.7" cy="1261.8"/><circle cx="727.1" cy="1275.1"/><circle cx="742.9" cy="1266.1"/><circle cx="509.3" cy="1250.2"/><circle cx="698.2" cy="1252.9"/><circle cx="636.7" cy="1270.2"/><circle cx="691.2" cy="1272.9"/><circle cx="739.8" cy="1277.1"/><circle cx="712.3" cy="1294.9"/><circle cx="664.9" cy="1267.5"/><circle cx="741.5" cy="1256.1"/><circle cx="617" cy="1250.4"/><circle cx="752" cy="1269.3"/><circle cx="663.1" cy="1254"/><circle cx="691.8" cy="1267.1"/><circle cx="669.7" cy="1258.6"/><circle cx="715.1" cy="1239.7"/><circle cx="719.8" cy="1273.7"/><circle cx="681.1" cy="1265.1"/><circle cx="727.9" cy="1251.2"/><circle cx="647.4" cy="1266.2"/><circle cx="734.7" cy="1243"/><circle cx="745.8" cy="1267.3"/><circle cx="676.6" cy="1260.4"/><circle cx="678.7" cy="1260.7"/><circle cx="690.2" cy="1273.9"/><circle cx="689.3" cy="1233.6"/><circle cx="659.7" cy="1246.1"/><circle cx="688.9" cy="1256"/><circle cx="606.3" cy="1287.2"/><circle cx="729" cy="1238"/><circle cx="616.1" cy="1270.6"/><circle cx="593.2" cy="1258.6"/><circle cx="642" cy="1263.7"/><circle cx="713" cy="1274"/><circle cx="755.4" cy="1269.7"/><circle cx="686.7" cy="1265.1"/><circle cx="707.2" cy="1263"/><circle cx="650.5" cy="1271.1"/><circle cx="750.9" cy="1274.3"/><circle cx="611.4" cy="1272.5"/><circle cx="728.4" cy="1271"/><circle cx="681.9" cy="1245.6"/><circle cx="655.6" cy="1267.3"/><circle cx="714.1" cy="1271.3"/><circle cx="656.7" cy="1269.5"/><circle cx="611.2" cy="1269.8"/><circle cx="757.9" cy="1272.5"/><circle cx="748.7" cy="1276.6"/><circle cx="730.4" cy="1279.6"/><circle cx="645.9" cy="1237.4"/><circle cx="751.5" cy="1267"/><circle cx="617.5" cy="1276.4"/><circle cx="653.1" cy="1270.1"/><circle cx="729" cy="1265.3"/><circle cx="692.6" cy="1255.8"/><circle cx="693.4" cy="1277.4"/><circle cx="753.7" cy="1269.4"/><circle cx="741.3" cy="1272"/><circle cx="730.2" cy="1285.9"/><circle cx="579.3" cy="1259.7"/><circle cx="689.2" cy="1275.1"/><circle cx="687.8" cy="1278.3"/><circle cx="738.2" cy="1279.2"/><circle cx="749.9" cy="1268.8"/><circle cx="685.3" cy="1269.1"/><circle cx="653.7" cy="1254.9"/><circle cx="733.5" cy="1262.3"/><circle cx="702.8" cy="1265.3"/><circle cx="741.1" cy="1271.9"/><circle cx="723.3" cy="1264.2"/><circle cx="679.3" cy="1274.8"/><circle cx="599.3" cy="1228.4"/><circle cx="585.7" cy="1256.6"/><circle cx="743.2" cy="1277.9"/><circle cx="748.5" cy="1269.6"/><circle cx="740" cy="1277.1"/><circle cx="711.7" cy="1272.4"/><circle cx="525.2" cy="1257.6"/><circle cx="644.2" cy="1257.8"/><circle cx="618.8" cy="1258"/><circle cx="694.1" cy="1268.5"/><circle cx="661.1" cy="1259.2"/><circle cx="743.6" cy="1272.8"/><circle cx="688" cy="1270.9"/><circle cx="709.1" cy="1271.6"/><circle cx="530.7" cy="1261.5"/><circle cx="702.4" cy="1264.3"/><circle cx="621.8" cy="1249.5"/><circle cx="731.9" cy="1257.1"/><circle cx="627.1" cy="1261.5"/><circle cx="648.4" cy="1267.7"/><circle cx="626" cy="1248.2"/><circle cx="540.6" cy="1259.9"/><circle cx="728.3" cy="1262.2"/><circle cx="556.8" cy="1278.8"/><circle cx="616.8" cy="1260.9"/><circle cx="746.6" cy="1264.7"/><circle cx="694.2" cy="1247.9"/><circle cx="688.6" cy="1275.7"/><circle cx="621.6" cy="1250"/><circle cx="709.5" cy="1265.9"/><circle cx="660" cy="1241.8"/><circle cx="727.1" cy="1260.4"/><circle cx="578.9" cy="1244.9"/><circle cx="696.8" cy="1267.7"/><circle cx="684.3" cy="1269.1"/><circle cx="650.3" cy="1256.3"/><circle cx="695.9" cy="1266.3"/><circle cx="695" cy="1275.7"/><circle cx="698.3" cy="1244.2"/><circle cx="739.2" cy="1268.2"/><circle cx="687.1" cy="1255.2"/><circle cx="619.6" cy="1261"/><circle cx="619.7" cy="1255.1"/><circle cx="667" cy="1260.2"/><circle cx="616.4" cy="1283.2"/><circle cx="750.2" cy="1267.3"/><circle cx="650.8" cy="1271.7"/><circle cx="687.5" cy="1264.6"/><circle cx="754.9" cy="1272.2"/><circle cx="730.6" cy="1257.9"/><circle cx="598" cy="1272"/><circle cx="709.6" cy="1236.3"/><circle cx="679.3" cy="1274.4"/><circle cx="716.8" cy="1258.6"/><circle cx="672.6" cy="1284.3"/><circle cx="700.9" cy="1251.3"/><circle cx="725.3" cy="1266.7"/><circle cx="706" cy="1268.7"/><circle cx="613" cy="1276.3"/><circle cx="624.3" cy="1282.2"/><circle cx="748.8" cy="1279.1"/><circle cx="660.5" cy="1264"/><circle cx="719.3" cy="1268"/><circle cx="626.7" cy="1257.4"/><circle cx="597.4" cy="1284.4"/><circle cx="685.4" cy="1268.2"/><circle cx="573.7" cy="1257"/><circle cx="612.5" cy="1265.1"/><circle cx="699.9" cy="1255.7"/><circle cx="735.3" cy="1272.1"/><circle cx="669.6" cy="1246.7"/><circle cx="666.1" cy="1254.7"/><circle cx="738.8" cy="1276.3"/><circle cx="736.6" cy="1266.4"/><circle cx="679.4" cy="1264.9"/><circle cx="695.9" cy="1245.9"/><circle cx="688.5" cy="1262.7"/><circle cx="752.1" cy="1272.4"/><circle cx="741.5" cy="1264.4"/><circle cx="600.3" cy="1283.7"/><circle cx="697.5" cy="1258.8"/><circle cx="751" cy="1271.7"/><circle cx="743.4" cy="1261.7"/><circle cx="692.7" cy="1273"/><circle cx="733.9" cy="1264.6"/><circle cx="732.3" cy="1264"/><circle cx="755.6" cy="1270.5"/><circle cx="535.1" cy="1249.1"/><circle cx="749.7" cy="1262.7"/><circle cx="572.5" cy="1262.1"/><circle cx="659.7" cy="1285.4"/><circle cx="645.5" cy="1254"/><circle cx="655.9" cy="1273.7"/><circle cx="720.2" cy="1282.9"/><circle cx="749.4" cy="1271.2"/><circle cx="712.5" cy="1249.4"/><circle cx="666.4" cy="1251"/><circle cx="691.9" cy="1235.3"/><circle cx="636.5" cy="1275"/><circle cx="708.4" cy="1261.5"/><circle cx="715.4" cy="1263.9"/><circle cx="688.3" cy="1253.3"/><circle cx="709.9" cy="1279.9"/><circle cx="713.5" cy="1254.8"/><circle cx="726.9" cy="1256.7"/><circle cx="563.5" cy="1263.3"/><circle cx="667.7" cy="1253.5"/><circle cx="556.9" cy="1269.1"/><circle cx="689" cy="1290.3"/><circle cx="735.3" cy="1268.3"/><circle cx="658.2" cy="1268.5"/><circle cx="681.7" cy="1244"/><circle cx="570.6" cy="1246.1"/><circle cx="692.5" cy="1272.5"/><circle cx="687.7" cy="1285.7"/><circle cx="698.5" cy="1242"/><circle cx="602.1" cy="1280.4"/><circle cx="664.2" cy="1272.9"/><circle cx="666.9" cy="1277.2"/><circle cx="726.1" cy="1265"/><circle cx="679.9" cy="1260.6"/><circle cx="617.9" cy="1256.9"/><circle cx="732.4" cy="1277.4"/><circle cx="535.9" cy="1274.8"/><circle cx="644.3" cy="1248.2"/><circle cx="741.5" cy="1260.5"/><circle cx="719.4" cy="1266.4"/><circle cx="704.7" cy="1243.2"/><circle cx="614.8" cy="1241.2"/><circle cx="752.7" cy="1276.4"/><circle cx="704.4" cy="1263.9"/><circle cx="626.3" cy="1271.9"/><circle cx="549.7" cy="1259.2"/><circle cx="737.5" cy="1271.9"/><circle cx="726.6" cy="1272.2"/><circle cx="664.5" cy="1259"/><circle cx="566.3" cy="1239.1"/><circle cx="608.7" cy="1257.6"/><circle cx="747.5" cy="1265.5"/><circle cx="689.7" cy="1284.8"/><circle cx="723.3" cy="1266.2"/><circle cx="742.6" cy="1260.5"/><circle cx="720.1" cy="1275.7"/><circle cx="625.4" cy="1261"/><circle cx="736.5" cy="1273.5"/><circle cx="518.6" cy="1281.2"/><circle cx="745.1" cy="1259.1"/><circle cx="676.4" cy="1285.6"/><circle cx="656.1" cy="1262.1"/><circle cx="514.6" cy="1280.9"/><circle cx="665.8" cy="1266"/><circle cx="679.4" cy="1260.6"/><circle cx="728.9" cy="1252.3"/><circle cx="707.6" cy="1280.1"/><circle cx="573.4" cy="1273.4"/><circle cx="569.9" cy="1268.9"/><circle cx="694.2" cy="1260.1"/><circle cx="753.4" cy="1272.2"/><circle cx="487.4" cy="1257.9"/><circle cx="734.4" cy="1252.1"/><circle cx="656.3" cy="1271.2"/><circle cx="721" cy="1254.1"/><circle cx="679.8" cy="1261.1"/><circle cx="491.7" cy="1274.3"/><circle cx="729.4" cy="1271.4"/><circle cx="517.8" cy="1260.1"/><circle cx="751.3" cy="1271.7"/><circle cx="741.4" cy="1271.4"/><circle cx="711.2" cy="1240.9"/><circle cx="707" cy="1247.2"/><circle cx="712.6" cy="1261.6"/><circle cx="658.4" cy="1286.5"/><circle cx="695.1" cy="1257.6"/><circle cx="693.3" cy="1280.9"/><circle cx="584.8" cy="1263.6"/><circle cx="697.5" cy="1269.9"/><circle cx="590.8" cy="1249.8"/><circle cx="719.9" cy="1244.9"/><circle cx="721.5" cy="1265.5"/><circle cx="736.9" cy="1262.8"/><circle cx="729.2" cy="1261.9"/><circle cx="591.3" cy="1261"/><circle cx="720.5" cy="1258.1"/><circle cx="633.6" cy="1273.7"/><circle cx="673" cy="1270.5"/><circle cx="535.8" cy="1275.4"/><circle cx="740.9" cy="1268.2"/><circle cx="691.2" cy="1258.1"/><circle cx="726.7" cy="1270.6"/><circle cx="718" cy="1252.4"/><circle cx="689.6" cy="1284.8"/><circle cx="715.4" cy="1249.1"/><circle cx="606.1" cy="1259.6"/><circle cx="662.6" cy="1283.5"/><circle cx="744.3" cy="1256.3"/><circle cx="639.5" cy="1275.8"/><circle cx="728.7" cy="1275.3"/><circle cx="663.5" cy="1240.6"/><circle cx="494.4" cy="1259.3"/><circle cx="564.9" cy="1272.7"/><circle cx="690.7" cy="1240.8"/><circle cx="697.2" cy="1275.5"/><circle cx="665.3" cy="1277.9"/><circle cx="745.3" cy="1250.6"/><circle cx="737.6" cy="1272.1"/><circle cx="654.2" cy="1260.2"/><circle cx="674.9" cy="1264.5"/><circle cx="739.3" cy="1264.8"/><circle cx="681.2" cy="1254.9"/><circle cx="595.6" cy="1273.2"/><circle cx="636.3" cy="1270.7"/><circle cx="703" cy="1249.5"/><circle cx="502" cy="1272.7"/><circle cx="607.7" cy="1276"/><circle cx="749.2" cy="1262.8"/><circle cx="699.7" cy="1248.6"/><circle cx="736" cy="1259.1"/><circle cx="602.2" cy="1264"/><circle cx="667" cy="1254.1"/><circle cx="669.3" cy="1264.1"/><circle cx="751.5" cy="1274.9"/><circle cx="729.4" cy="1261.2"/><circle cx="689.7" cy="1248.1"/><circle cx="632.7" cy="1257.5"/><circle cx="598" cy="1243.8"/><circle cx="689.2" cy="1280.9"/><circle cx="686.9" cy="1226"/><circle cx="603.1" cy="1227.8"/><circle cx="664.1" cy="1273.1"/><circle cx="692.8" cy="1250.1"/><circle cx="687" cy="1256.5"/><circle cx="754.3" cy="1270.5"/><circle cx="688.6" cy="1253.1"/><circle cx="668" cy="1250.2"/><circle cx="650.5" cy="1255.7"/><circle cx="688.1" cy="1257.3"/><circle cx="667.6" cy="1248"/><circle cx="713" cy="1239.1"/><circle cx="646.8" cy="1257.2"/><circle cx="675.2" cy="1255.8"/><circle cx="749.4" cy="1273.9"/><circle cx="590.4" cy="1263.3"/><circle cx="757.4" cy="1270"/><circle cx="742.2" cy="1261.7"/><circle cx="734.1" cy="1266.3"/><circle cx="630.8" cy="1260.3"/><circle cx="734.1" cy="1286"/><circle cx="594.7" cy="1280.1"/><circle cx="740.9" cy="1272.5"/><circle cx="644.3" cy="1267.8"/><circle cx="694.3" cy="1230.5"/><circle cx="643.1" cy="1240.9"/><circle cx="718.8" cy="1267.8"/><circle cx="754.8" cy="1271.3"/><circle cx="736.9" cy="1261.6"/><circle cx="670.8" cy="1273.6"/><circle cx="755" cy="1270.1"/><circle cx="647.6" cy="1273.8"/><circle cx="719.7" cy="1272.5"/><circle cx="651.7" cy="1283.6"/><circle cx="673.5" cy="1248.1"/><circle cx="737.6" cy="1258.8"/><circle cx="742.3" cy="1266.7"/><circle cx="701.9" cy="1256"/><circle cx="747.2" cy="1279.8"/><circle cx="641" cy="1266.4"/><circle cx="641.4" cy="1269.8"/><circle cx="726.2" cy="1276"/><circle cx="645.4" cy="1286.3"/><circle cx="662.7" cy="1276.4"/><circle cx="691.5" cy="1247.5"/><circle cx="743.8" cy="1278.6"/><circle cx="654.4" cy="1264.4"/><circle cx="669" cy="1259.2"/><circle cx="629" cy="1253.6"/><circle cx="753.2" cy="1270.2"/><circle cx="661.9" cy="1241.4"/><circle cx="752.1" cy="1268.7"/><circle cx="633.8" cy="1271.1"/><circle cx="679" cy="1255.4"/><circle cx="672.3" cy="1281.8"/><circle cx="672.7" cy="1259.7"/><circle cx="750.9" cy="1269.7"/><circle cx="703.7" cy="1246.2"/><circle cx="536.7" cy="1260.8"/><circle cx="697.6" cy="1268.1"/><circle cx="725.4" cy="1272.6"/><circle cx="549.8" cy="1273.2"/><circle cx="727.4" cy="1274.1"/><circle cx="732.1" cy="1262.2"/><circle cx="675.7" cy="1238.7"/><circle cx="744.4" cy="1269.5"/><circle cx="713.2" cy="1259.6"/><circle cx="656.1" cy="1250"/><circle cx="679.6" cy="1253.7"/><circle cx="699.5" cy="1277.3"/><circle cx="630.7" cy="1265.7"/><circle cx="754" cy="1269.5"/><circle cx="645.8" cy="1267.9"/><circle cx="682.3" cy="1248.7"/><circle cx="740" cy="1265.5"/><circle cx="590.8" cy="1274.1"/><circle cx="714.9" cy="1254.6"/><circle cx="633.3" cy="1242.4"/><circle cx="599.8" cy="1254.4"/><circle cx="755.8" cy="1273.1"/><circle cx="502.7" cy="1272.2"/><circle cx="740.5" cy="1257.8"/><circle cx="672.1" cy="1285.7"/><circle cx="699.8" cy="1264.8"/><circle cx="591.2" cy="1246.9"/><circle cx="599.7" cy="1262"/><circle cx="688.9" cy="1251.3"/><circle cx="743.5" cy="1264"/><circle cx="720" cy="1247"/><circle cx="693.1" cy="1268.6"/><circle cx="741.2" cy="1262.4"/><circle cx="753.2" cy="1269.3"/><circle cx="725.2" cy="1276.1"/><circle cx="667.7" cy="1241"/><circle cx="667.2" cy="1275.6"/><circle cx="736.8" cy="1264.9"/><circle cx="502.7" cy="1272.6"/><circle cx="732.1" cy="1247.8"/><circle cx="745.1" cy="1266.9"/><circle cx="679.5" cy="1263"/><circle cx="709.4" cy="1269.9"/><circle cx="665.1" cy="1271.1"/><circle cx="659.3" cy="1271.1"/><circle cx="756.5" cy="1272.6"/><circle cx="642.3" cy="1257.2"/><circle cx="751" cy="1265.3"/><circle cx="613.9" cy="1271.7"/><circle cx="663.6" cy="1238.5"/><circle cx="727.9" cy="1275.6"/><circle cx="670" cy="1257.1"/><circle cx="702" cy="1289.4"/><circle cx="570.1" cy="1246.5"/><circle cx="652.5" cy="1274.3"/><circle cx="711.7" cy="1258.1"/><circle cx="640.2" cy="1288.3"/><circle cx="726.7" cy="1265.1"/><circle cx="665.3" cy="1283"/><circle cx="694.1" cy="1225.5"/><circle cx="623.4" cy="1268.1"/><circle cx="643.6" cy="1239.7"/><circle cx="712.3" cy="1246"/><circle cx="611.2" cy="1255"/><circle cx="745.9" cy="1261"/><circle cx="701.8" cy="1263.4"/><circle cx="728.5" cy="1271.7"/><circle cx="745.3" cy="1263.2"/><circle cx="732" cy="1276"/><circle cx="723.2" cy="1291.3"/><circle cx="752.2" cy="1272.7"/><circle cx="735" cy="1255.7"/><circle cx="689" cy="1246.4"/><circle cx="657.5" cy="1251"/><circle cx="563.3" cy="1257.8"/><circle cx="666.8" cy="1258.4"/><circle cx="634.8" cy="1255.7"/><circle cx="683.7" cy="1271.5"/><circle cx="752.9" cy="1265.8"/><circle cx="681.4" cy="1258.7"/><circle cx="715.3" cy="1253.2"/><circle cx="628" cy="1274.5"/><circle cx="629.6" cy="1274.1"/><circle cx="550.4" cy="1269.6"/><circle cx="697.7" cy="1264.7"/><circle cx="747.1" cy="1265.6"/><circle cx="744" cy="1274"/><circle cx="685.2" cy="1241.9"/><circle cx="735.4" cy="1265.9"/><circle cx="743.3" cy="1260"/><circle cx="681" cy="1226.3"/><circle cx="701.9" cy="1275.3"/><circle cx="681.6" cy="1273.7"/><circle cx="749" cy="1265.6"/><circle cx="753" cy="1268.8"/><circle cx="686.2" cy="1238.5"/><circle cx="711.4" cy="1246.4"/><circle cx="757.1" cy="1270.3"/><circle cx="628" cy="1264.1"/><circle cx="694.6" cy="1288"/><circle cx="695.6" cy="1269.7"/><circle cx="660.7" cy="1278.9"/><circle cx="695" cy="1253.2"/><circle cx="725" cy="1267.1"/><circle cx="749.9" cy="1269.8"/><circle cx="740.3" cy="1264.4"/><circle cx="755.5" cy="1274.7"/><circle cx="756.3" cy="1272.5"/><circle cx="668" cy="1256.3"/><circle cx="641" cy="1249.5"/><circle cx="670.2" cy="1265.7"/><circle cx="716.5" cy="1274.5"/><circle cx="659.3" cy="1251.5"/><circle cx="660.4" cy="1273.8"/><circle cx="746.5" cy="1261.8"/><circle cx="691.7" cy="1255"/><circle cx="617" cy="1268.2"/><circle cx="602.7" cy="1268.1"/><circle cx="634.4" cy="1274.1"/><circle cx="646.4" cy="1282.9"/><circle cx="747.7" cy="1270.8"/><circle cx="735.5" cy="1254.5"/><circle cx="622.9" cy="1264.1"/><circle cx="753" cy="1277.3"/><circle cx="738.7" cy="1257.5"/><circle cx="605.6" cy="1274.6"/><circle cx="693.8" cy="1270.8"/><circle cx="694" cy="1261.6"/><circle cx="668.6" cy="1274.8"/><circle cx="636.2" cy="1262.3"/><circle cx="672.8" cy="1277.3"/><circle cx="668.2" cy="1272.4"/><circle cx="683.1" cy="1248.7"/><circle cx="755.7" cy="1266.9"/><circle cx="735.9" cy="1251.5"/><circle cx="689.6" cy="1234.9"/><circle cx="683" cy="1272.1"/><circle cx="518.6" cy="1277.3"/><circle cx="670.1" cy="1252"/><circle cx="660.3" cy="1278.9"/><circle cx="651.6" cy="1268"/><circle cx="619.8" cy="1267.1"/><circle cx="749.8" cy="1274.5"/><circle cx="749.6" cy="1272"/><circle cx="758" cy="1271"/><circle cx="756.4" cy="1271.4"/><circle cx="745.1" cy="1275.8"/><circle cx="558.4" cy="1276.6"/><circle cx="751.4" cy="1274.5"/><circle cx="654.5" cy="1267.8"/><circle cx="673.8" cy="1282.8"/><circle cx="638.6" cy="1259.2"/><circle cx="637.5" cy="1273.5"/><circle cx="530.5" cy="1259.7"/><circle cx="745.9" cy="1273.2"/><circle cx="617.8" cy="1269"/><circle cx="586" cy="1261.9"/><circle cx="619.2" cy="1273.4"/><circle cx="677.2" cy="1257.5"/><circle cx="735.1" cy="1272.2"/><circle cx="679" cy="1276.9"/><circle cx="673.8" cy="1271.3"/><circle cx="642.4" cy="1253.2"/><circle cx="693.4" cy="1276.9"/><circle cx="709.6" cy="1250.1"/><circle cx="676.4" cy="1268.9"/><circle cx="656.3" cy="1275.7"/><circle cx="729.8" cy="1281.4"/><circle cx="661.9" cy="1272.9"/><circle cx="720.8" cy="1256.2"/><circle cx="672.4" cy="1272.6"/><circle cx="734.7" cy="1259.7"/><circle cx="649.1" cy="1234.3"/><circle cx="644.3" cy="1273.4"/><circle cx="660.5" cy="1225.4"/><circle cx="631" cy="1270.5"/><circle cx="639.3" cy="1262.3"/><circle cx="585.1" cy="1262.3"/><circle cx="643.7" cy="1270.2"/><circle cx="703.6" cy="1264.5"/><circle cx="686.5" cy="1274.3"/><circle cx="710.7" cy="1257.4"/><circle cx="634.2" cy="1238.8"/><circle cx="646.4" cy="1253.6"/><circle cx="695.1" cy="1265.3"/><circle cx="748.5" cy="1269.4"/><circle cx="749.4" cy="1269.5"/><circle cx="682.2" cy="1262.4"/><circle cx="749.3" cy="1263.2"/><circle cx="511" cy="1250.7"/><circle cx="742.9" cy="1268.1"/><circle cx="720.6" cy="1239.3"/><circle cx="668.5" cy="1265.3"/><circle cx="756.2" cy="1268.9"/><circle cx="686.8" cy="1285"/><circle cx="728.8" cy="1242.7"/><circle cx="667.4" cy="1263.3"/><circle cx="733" cy="1259.1"/><circle cx="737.4" cy="1270.6"/><circle cx="638.8" cy="1271.6"/><circle cx="627.6" cy="1270.2"/><circle cx="643.6" cy="1261"/><circle cx="753.6" cy="1268.8"/><circle cx="750.2" cy="1272"/><circle cx="645.4" cy="1272.9"/><circle cx="713.9" cy="1248.1"/><circle cx="756.6" cy="1271.8"/><circle cx="718" cy="1253.9"/><circle cx="688.9" cy="1233.7"/><circle cx="721.5" cy="1267.2"/><circle cx="663" cy="1260.2"/><circle cx="648.2" cy="1260"/><circle cx="740.4" cy="1268.5"/><circle cx="757.4" cy="1271"/><circle cx="582.5" cy="1264.4"/><circle cx="747.6" cy="1260.2"/><circle cx="749.7" cy="1263.4"/><circle cx="691.6" cy="1291.1"/><circle cx="554.4" cy="1252.9"/><circle cx="706.2" cy="1266.3"/><circle cx="679.4" cy="1258.3"/><circle cx="570.6" cy="1271.3"/><circle cx="680.6" cy="1291.8"/><circle cx="720.8" cy="1262"/><circle cx="737.2" cy="1265.8"/><circle cx="749.8" cy="1264.9"/><circle cx="693" cy="1282"/><circle cx="581.2" cy="1279.4"/><circle cx="596" cy="1264.9"/><circle cx="686.1" cy="1285.4"/><circle cx="558.8" cy="1261.7"/><circle cx="620.6" cy="1254.9"/><circle cx="692.5" cy="1241.5"/><circle cx="754.2" cy="1277"/><circle cx="729.7" cy="1269"/><circle cx="749.6" cy="1271.6"/><circle cx="680.2" cy="1271"/><circle cx="753.5" cy="1271.8"/><circle cx="718.7" cy="1277.6"/><circle cx="625.1" cy="1283.4"/><circle cx="685.6" cy="1278.2"/><circle cx="727.2" cy="1273"/><circle cx="693.8" cy="1236.4"/><circle cx="743.3" cy="1263.8"/><circle cx="735.3" cy="1262.1"/><circle cx="678.2" cy="1268.9"/><circle cx="742.8" cy="1276"/><circle cx="728.5" cy="1269.4"/><circle cx="681" cy="1266.4"/><circle cx="723.9" cy="1243.8"/><circle cx="708" cy="1286.6"/><circle cx="699.5" cy="1255.3"/><circle cx="747.9" cy="1272.9"/><circle cx="566.9" cy="1274.5"/><circle cx="649.5" cy="1256.2"/><circle cx="733.3" cy="1259.6"/><circle cx="754.5" cy="1269.6"/><circle cx="663.5" cy="1257.3"/><circle cx="552" cy="1269.6"/><circle cx="707.5" cy="1275.2"/><circle cx="740" cy="1266.5"/><circle cx="689.1" cy="1263.1"/><circle cx="713.4" cy="1271.6"/><circle cx="587.9" cy="1259.5"/><circle cx="668.7" cy="1235.4"/><circle cx="684.8" cy="1268.8"/><circle cx="730.9" cy="1277.3"/><circle cx="550.9" cy="1263.1"/><circle cx="712.5" cy="1252.5"/><circle cx="634.6" cy="1257.7"/><circle cx="751.2" cy="1261.1"/><circle cx="738.3" cy="1266.2"/><circle cx="672.9" cy="1291.1"/><circle cx="751" cy="1268.8"/><circle cx="609.8" cy="1269.3"/><circle cx="712.3" cy="1264"/><circle cx="745.6" cy="1265.4"/><circle cx="661" cy="1265.7"/><circle cx="680.6" cy="1265.2"/><circle cx="732.2" cy="1267.2"/><circle cx="753.9" cy="1270.6"/><circle cx="724.6" cy="1251.3"/><circle cx="706.8" cy="1276.3"/><circle cx="755.3" cy="1272.8"/><circle cx="732.2" cy="1262.9"/><circle cx="757.4" cy="1272.6"/><circle cx="703.1" cy="1263.1"/><circle cx="671.1" cy="1258.6"/><circle cx="691.6" cy="1245.9"/><circle cx="577.6" cy="1285.7"/><circle cx="739.4" cy="1277.7"/><circle cx="733.5" cy="1265.2"/><circle cx="648" cy="1268.5"/><circle cx="650.4" cy="1277.4"/><circle cx="736.5" cy="1256.7"/><circle cx="735.8" cy="1263.1"/><circle cx="736.4" cy="1264.6"/><circle cx="697.9" cy="1250.6"/><circle cx="732.2" cy="1255"/><circle cx="696.9" cy="1276.4"/><circle cx="741" cy="1260.2"/><circle cx="520" cy="1256.2"/><circle cx="734.5" cy="1263.4"/><circle cx="593.5" cy="1274.8"/><circle cx="738.2" cy="1269"/><circle cx="661.3" cy="1259.9"/><circle cx="695.2" cy="1268.6"/><circle cx="745.2" cy="1260.4"/><circle cx="688.5" cy="1270.5"/><circle cx="743.6" cy="1277.6"/><circle cx="730.3" cy="1280.1"/><circle cx="751.2" cy="1271.8"/><circle cx="547.4" cy="1270.2"/><circle cx="708.9" cy="1231.9"/><circle cx="724" cy="1259.3"/><circle cx="685.9" cy="1269.3"/><circle cx="690.6" cy="1262.4"/><circle cx="683.7" cy="1273.4"/><circle cx="748.7" cy="1279.3"/><circle cx="641" cy="1273.4"/><circle cx="725.3" cy="1268"/><circle cx="718.6" cy="1257.7"/><circle cx="706.8" cy="1238.5"/><circle cx="702.2" cy="1260.3"/><circle cx="684.5" cy="1266"/><circle cx="737.3" cy="1267.4"/><circle cx="741.3" cy="1264.4"/><circle cx="675.7" cy="1271.6"/><circle cx="666.1" cy="1274.1"/><circle cx="604.8" cy="1272"/><circle cx="575.8" cy="1262.6"/><circle cx="751.5" cy="1276.8"/><circle cx="706.6" cy="1259.7"/><circle cx="667.9" cy="1274.9"/><circle cx="544.9" cy="1275.2"/><circle cx="590.2" cy="1259.3"/><circle cx="688.8" cy="1268"/><circle cx="731.6" cy="1258.1"/><circle cx="695.2" cy="1251.1"/><circle cx="639.1" cy="1265.1"/><circle cx="721.6" cy="1267.5"/><circle cx="728.7" cy="1274.6"/><circle cx="537.9" cy="1259.4"/><circle cx="670.4" cy="1239.3"/><circle cx="621.7" cy="1257.7"/><circle cx="738.8" cy="1266"/><circle cx="696.6" cy="1249.5"/><circle cx="622.1" cy="1269"/><circle cx="711.6" cy="1283.1"/><circle cx="702.7" cy="1255.4"/><circle cx="654.6" cy="1257.4"/><circle cx="696" cy="1255.4"/><circle cx="694.5" cy="1277.7"/><circle cx="750" cy="1276.2"/><circle cx="754.2" cy="1265.7"/><circle cx="686.7" cy="1264"/><circle cx="615.5" cy="1269"/><circle cx="640.4" cy="1260.9"/><circle cx="744.6" cy="1264.7"/><circle cx="715.1" cy="1257.6"/><circle cx="631.5" cy="1265.5"/><circle cx="756.7" cy="1269.7"/><circle cx="748.6" cy="1275.4"/><circle cx="677.2" cy="1278.7"/><circle cx="670.8" cy="1272.6"/><circle cx="724.4" cy="1260.5"/><circle cx="708.7" cy="1255.4"/><circle cx="626.9" cy="1265.1"/><circle cx="678.9" cy="1251.1"/><circle cx="576.8" cy="1272.3"/><circle cx="697.4" cy="1265.6"/><circle cx="741.1" cy="1264.6"/><circle cx="573.4" cy="1269.9"/><circle cx="737.3" cy="1273.5"/><circle cx="666.8" cy="1245"/><circle cx="756.9" cy="1269.5"/><circle cx="741.8" cy="1274.7"/><circle cx="755.4" cy="1269.9"/><circle cx="671.2" cy="1266.1"/><circle cx="715.8" cy="1265.5"/><circle cx="608" cy="1255.3"/><circle cx="748.3" cy="1278.5"/><circle cx="677.6" cy="1239.4"/><circle cx="752.8" cy="1266.4"/><circle cx="605.9" cy="1262.7"/><circle cx="675.1" cy="1283.2"/><circle cx="728.2" cy="1274.4"/><circle cx="717.1" cy="1272.5"/><circle cx="739.9" cy="1260.4"/><circle cx="734.8" cy="1271.4"/><circle cx="720.3" cy="1277.2"/><circle cx="671" cy="1280.6"/><circle cx="729.7" cy="1265.9"/><circle cx="705" cy="1256.9"/><circle cx="732" cy="1282.7"/><circle cx="625.2" cy="1276.8"/><circle cx="539.6" cy="1260.7"/><circle cx="742.6" cy="1271.2"/><circle cx="682.6" cy="1267.3"/><circle cx="646.2" cy="1286.1"/><circle cx="653.2" cy="1251.6"/><circle cx="624.5" cy="1266.9"/><circle cx="688.1" cy="1249"/><circle cx="556.8" cy="1268.5"/><circle cx="669.4" cy="1276"/><circle cx="739.6" cy="1282.6"/><circle cx="698" cy="1242.6"/><circle cx="699" cy="1258.1"/><circle cx="740.9" cy="1275.5"/><circle cx="618" cy="1263.6"/><circle cx="646.8" cy="1246.2"/><circle cx="748.3" cy="1276.6"/><circle cx="627.3" cy="1283.4"/><circle cx="678.1" cy="1257.6"/><circle cx="694.9" cy="1270.1"/><circle cx="686.8" cy="1262.1"/><circle cx="739.2" cy="1274.9"/><circle cx="624" cy="1267.5"/><circle cx="753.7" cy="1275.2"/><circle cx="644.4" cy="1274.2"/><circle cx="692.2" cy="1249.7"/><circle cx="737.7" cy="1261"/><circle cx="684.8" cy="1276.8"/><circle cx="638.3" cy="1271"/><circle cx="691.3" cy="1272.8"/><circle cx="704" cy="1271.5"/><circle cx="668.4" cy="1277.1"/><circle cx="669.6" cy="1270.6"/><circle cx="740.1" cy="1261.2"/><circle cx="738.8" cy="1284.3"/><circle cx="729.3" cy="1259.1"/><circle cx="750.9" cy="1265.6"/><circle cx="644.6" cy="1273.6"/><circle cx="674.4" cy="1269.4"/><circle cx="691.3" cy="1254.2"/><circle cx="647.8" cy="1270.8"/><circle cx="564.7" cy="1282"/><circle cx="745.1" cy="1274.1"/><circle cx="690.6" cy="1236.9"/><circle cx="644.3" cy="1269.8"/><circle cx="597.3" cy="1275.9"/><circle cx="729.4" cy="1243"/><circle cx="727.8" cy="1276.3"/><circle cx="734.2" cy="1281.7"/><circle cx="731.1" cy="1262.4"/><circle cx="728" cy="1283.7"/><circle cx="610.9" cy="1286.6"/><circle cx="613.2" cy="1251.7"/><circle cx="674.2" cy="1271.6"/><circle cx="592.1" cy="1269.7"/><circle cx="700.8" cy="1239.5"/><circle cx="671.4" cy="1285.5"/><circle cx="662.9" cy="1240"/><circle cx="665.7" cy="1260.7"/><circle cx="747.4" cy="1278.3"/><circle cx="719.4" cy="1260.7"/><circle cx="747.8" cy="1274.1"/><circle cx="733.6" cy="1287.6"/><circle cx="668.2" cy="1240.6"/><circle cx="737.9" cy="1276.8"/><circle cx="756.8" cy="1268.4"/><circle cx="616.9" cy="1287.8"/><circle cx="603.1" cy="1235.5"/><circle cx="614.5" cy="1259.9"/><circle cx="610.5" cy="1257.2"/><circle cx="679.7" cy="1271.1"/><circle cx="632.2" cy="1249.1"/><circle cx="744.4" cy="1276.5"/><circle cx="733" cy="1257.6"/><circle cx="665.5" cy="1252.1"/><circle cx="580" cy="1253.1"/><circle cx="730.1" cy="1274.1"/><circle cx="727.9" cy="1280.6"/><circle cx="687.5" cy="1261.5"/><circle cx="752.6" cy="1266.3"/><circle cx="725.2" cy="1263.7"/><circle cx="744.8" cy="1264.6"/><circle cx="747.5" cy="1276.4"/><circle cx="669.4" cy="1241.6"/><circle cx="665.1" cy="1258.9"/><circle cx="654.5" cy="1244.5"/><circle cx="689.6" cy="1240.3"/><circle cx="684" cy="1280"/><circle cx="578" cy="1248.6"/><circle cx="607.4" cy="1280.8"/><circle cx="708.3" cy="1261"/><circle cx="649.5" cy="1254.9"/><circle cx="626.5" cy="1273.1"/><circle cx="637.1" cy="1283.8"/><circle cx="661.7" cy="1247.1"/><circle cx="692.1" cy="1262.2"/><circle cx="678.1" cy="1243.8"/><circle cx="694.7" cy="1283.6"/><circle cx="638.4" cy="1269.7"/><circle cx="747.2" cy="1272.5"/><circle cx="597.6" cy="1275.5"/><circle cx="507.5" cy="1274.2"/><circle cx="692.4" cy="1257.2"/><circle cx="682.5" cy="1238.5"/><circle cx="693.9" cy="1265.6"/><circle cx="704" cy="1268.9"/><circle cx="589.5" cy="1253"/><circle cx="692.9" cy="1268.5"/><circle cx="739.4" cy="1278.8"/><circle cx="602.3" cy="1241.6"/><circle cx="673.5" cy="1267.1"/><circle cx="728.6" cy="1274"/><circle cx="697.2" cy="1275.9"/><circle cx="568.4" cy="1269.6"/><circle cx="557.7" cy="1259.2"/><circle cx="756.8" cy="1273.8"/><circle cx="750.3" cy="1277.1"/><circle cx="706.2" cy="1242.8"/><circle cx="749.5" cy="1259.5"/><circle cx="660.9" cy="1273.3"/><circle cx="674.1" cy="1242.4"/><circle cx="696.3" cy="1243.7"/><circle cx="748" cy="1271.6"/><circle cx="743.1" cy="1279.1"/><circle cx="744.8" cy="1275.4"/><circle cx="584.7" cy="1241.5"/><circle cx="733.3" cy="1266.9"/><circle cx="660.6" cy="1233.6"/><circle cx="663.2" cy="1240.2"/><circle cx="697.2" cy="1268.6"/><circle cx="723.7" cy="1259.5"/><circle cx="635.4" cy="1264.2"/><circle cx="643.5" cy="1259.5"/><circle cx="717.5" cy="1261.5"/><circle cx="735.7" cy="1271.1"/><circle cx="748.3" cy="1268.1"/><circle cx="662.4" cy="1227"/><circle cx="709.7" cy="1273.3"/><circle cx="614.3" cy="1269.2"/><circle cx="667.7" cy="1285.3"/><circle cx="724.1" cy="1257.6"/><circle cx="682.7" cy="1261.5"/><circle cx="710.2" cy="1271"/><circle cx="724.7" cy="1275.9"/><circle cx="604.8" cy="1263.8"/><circle cx="525.7" cy="1275.2"/><circle cx="657.4" cy="1245.2"/><circle cx="696" cy="1269.6"/><circle cx="733.7" cy="1265.5"/><circle cx="638.1" cy="1251.8"/><circle cx="647.5" cy="1287.7"/><circle cx="675.8" cy="1254.8"/><circle cx="738.7" cy="1281.1"/><circle cx="733.4" cy="1264.3"/><circle cx="717.6" cy="1255.2"/><circle cx="634.1" cy="1250.1"/><circle cx="583.8" cy="1245.4"/><circle cx="745.5" cy="1271.7"/><circle cx="569.5" cy="1268.8"/><circle cx="600.2" cy="1275.4"/><circle cx="751.9" cy="1269.9"/><circle cx="671.7" cy="1261.6"/><circle cx="614.1" cy="1264.1"/><circle cx="673.3" cy="1273.1"/><circle cx="704.3" cy="1258.6"/><circle cx="757.6" cy="1271.8"/><circle cx="581.9" cy="1289.2"/><circle cx="724.2" cy="1249.8"/><circle cx="749.1" cy="1265.4"/><circle cx="621.2" cy="1264.9"/><circle cx="724.2" cy="1262.5"/><circle cx="729.3" cy="1261.2"/><circle cx="746.7" cy="1263.7"/><circle cx="693.9" cy="1237"/><circle cx="695.9" cy="1266.8"/><circle cx="673.3" cy="1265.1"/><circle cx="688.2" cy="1278.7"/><circle cx="751.1" cy="1269.6"/><circle cx="597.5" cy="1273.2"/><circle cx="642.1" cy="1267.8"/><circle cx="747.9" cy="1271.1"/><circle cx="562.7" cy="1257.8"/><circle cx="725.5" cy="1275.6"/><circle cx="658.6" cy="1277.2"/><circle cx="573.7" cy="1263.8"/><circle cx="668.8" cy="1269.1"/><circle cx="733.9" cy="1266.2"/><circle cx="747" cy="1259.3"/><circle cx="752.8" cy="1263.8"/><circle cx="721.8" cy="1269.8"/><circle cx="749.6" cy="1262.1"/><circle cx="734.5" cy="1266.8"/><circle cx="675.2" cy="1274.9"/><circle cx="711.9" cy="1263.6"/><circle cx="657.8" cy="1268"/><circle cx="707.7" cy="1272.5"/><circle cx="745.9" cy="1280.7"/><circle cx="743" cy="1265.6"/><circle cx="697.7" cy="1248.2"/><circle cx="692.2" cy="1271.8"/><circle cx="671.3" cy="1260.1"/><circle cx="755.7" cy="1272.1"/><circle cx="630.5" cy="1272.8"/><circle cx="687" cy="1265.6"/><circle cx="738.9" cy="1285.5"/><circle cx="632" cy="1265.6"/><circle cx="730.8" cy="1279.2"/><circle cx="741.7" cy="1283.1"/><circle cx="672.3" cy="1282.7"/><circle cx="753.8" cy="1271.3"/><circle cx="676.7" cy="1271.6"/><circle cx="735.7" cy="1255.8"/><circle cx="623.9" cy="1231.8"/><circle cx="732.1" cy="1254.5"/><circle cx="716.9" cy="1255.5"/><circle cx="687.7" cy="1263.8"/><circle cx="517.1" cy="1253"/><circle cx="740.8" cy="1269.7"/><circle cx="575.2" cy="1257.8"/><circle cx="610.8" cy="1262.1"/><circle cx="676.1" cy="1259.5"/><circle cx="752.6" cy="1268.7"/><circle cx="735.5" cy="1264.8"/><circle cx="575.4" cy="1277.2"/><circle cx="739.6" cy="1274.3"/><circle cx="714.3" cy="1275.5"/><circle cx="723.6" cy="1255.8"/><circle cx="649.2" cy="1268.6"/><circle cx="641.3" cy="1268.8"/><circle cx="740.6" cy="1264.1"/><circle cx="620.7" cy="1263.6"/><circle cx="719.9" cy="1281.4"/><circle cx="613.1" cy="1266.4"/><circle cx="665.8" cy="1269.1"/><circle cx="755.3" cy="1271.3"/><circle cx="754.5" cy="1269.8"/><circle cx="743.6" cy="1281.4"/><circle cx="692.8" cy="1255.7"/><circle cx="689.3" cy="1252"/><circle cx="724.1" cy="1263.2"/><circle cx="658.3" cy="1253.2"/><circle cx="679.8" cy="1268.7"/><circle cx="681.4" cy="1276.9"/><circle cx="752.9" cy="1269.4"/><circle cx="697.6" cy="1255.4"/><circle cx="685.6" cy="1271.8"/><circle cx="747.9" cy="1270.2"/><circle cx="752.3" cy="1265.2"/><circle cx="604.1" cy="1272.2"/><circle cx="649.2" cy="1262.7"/><circle cx="662" cy="1260"/><circle cx="742" cy="1268.6"/><circle cx="693.1" cy="1257"/><circle cx="697" cy="1260.7"/><circle cx="754.8" cy="1267.6"/><circle cx="670.1" cy="1249.9"/><circle cx="738.6" cy="1265.4"/><circle cx="528.8" cy="1271.8"/><circle cx="755.8" cy="1268.8"/><circle cx="753.6" cy="1276.6"/><circle cx="697.4" cy="1266.3"/><circle cx="696.5" cy="1258"/><circle cx="631.7" cy="1244"/><circle cx="745.2" cy="1259.6"/><circle cx="605.8" cy="1268"/><circle cx="609.8" cy="1264.4"/><circle cx="690.3" cy="1240.3"/><circle cx="756.9" cy="1270.8"/><circle cx="667.9" cy="1273.8"/><circle cx="601.1" cy="1273.4"/><circle cx="491.4" cy="1255.4"/><circle cx="537" cy="1241.4"/><circle cx="751.5" cy="1268.1"/><circle cx="662.2" cy="1245.1"/><circle cx="654.6" cy="1267.7"/><circle cx="662.2" cy="1263.9"/><circle cx="566" cy="1282.2"/><circle cx="683.9" cy="1262"/><circle cx="736" cy="1257.2"/><circle cx="738.7" cy="1258.6"/><circle cx="754.7" cy="1267.4"/><circle cx="719.1" cy="1283.7"/><circle cx="716.1" cy="1257.9"/><circle cx="620.1" cy="1272.2"/><circle cx="744.3" cy="1268.8"/><circle cx="709.7" cy="1255.7"/><circle cx="742.2" cy="1265.5"/><circle cx="552.6" cy="1277.4"/><circle cx="745.6" cy="1275.7"/><circle cx="743.5" cy="1265.6"/><circle cx="692.5" cy="1258.4"/><circle cx="745.9" cy="1278.7"/><circle cx="674.1" cy="1241.9"/><circle cx="648.8" cy="1269.4"/><circle cx="737.5" cy="1249.1"/><circle cx="677" cy="1243.1"/><circle cx="670.9" cy="1273"/><circle cx="598.7" cy="1263.9"/><circle cx="670.1" cy="1263.9"/><circle cx="682.4" cy="1252.8"/><circle cx="596.7" cy="1275.9"/><circle cx="710.6" cy="1270.5"/><circle cx="735" cy="1266.3"/><circle cx="579.6" cy="1252.5"/><circle cx="644.8" cy="1256.2"/><circle cx="602.8" cy="1268.7"/><circle cx="736.1" cy="1275.4"/><circle cx="741.6" cy="1265.9"/><circle cx="750.8" cy="1279.3"/><circle cx="616.7" cy="1256.2"/><circle cx="731.4" cy="1271.2"/><circle cx="708.3" cy="1264.9"/><circle cx="751.2" cy="1266.6"/><circle cx="657.2" cy="1266.3"/><circle cx="545.8" cy="1272.2"/><circle cx="660.4" cy="1278.3"/><circle cx="724.8" cy="1273.8"/><circle cx="756.4" cy="1274.7"/><circle cx="750" cy="1263.9"/><circle cx="750.6" cy="1266.5"/><circle cx="703" cy="1282.1"/><circle cx="635.6" cy="1266.9"/><circle cx="756.2" cy="1266.8"/><circle cx="700.2" cy="1244.6"/><circle cx="663.1" cy="1259.5"/><circle cx="712.3" cy="1268.9"/><circle cx="736.7" cy="1263.1"/><circle cx="716.2" cy="1267.6"/><circle cx="722.3" cy="1256.7"/><circle cx="599.7" cy="1256.4"/><circle cx="740.9" cy="1268.2"/><circle cx="657.3" cy="1269.8"/><circle cx="668.1" cy="1271.5"/><circle cx="717.2" cy="1257.1"/><circle cx="636.6" cy="1252.9"/><circle cx="567.4" cy="1273.5"/><circle cx="595" cy="1255"/><circle cx="664.7" cy="1272.8"/><circle cx="740" cy="1264.5"/><circle cx="754.4" cy="1271"/><circle cx="680.8" cy="1245.1"/><circle cx="679.3" cy="1272.5"/><circle cx="755.1" cy="1266.6"/><circle cx="627.6" cy="1258"/><circle cx="669.7" cy="1277.5"/><circle cx="703" cy="1272.6"/><circle cx="731.7" cy="1260.8"/><circle cx="756.6" cy="1268.6"/><circle cx="697.5" cy="1241.6"/><circle cx="715.4" cy="1242.6"/><circle cx="740.3" cy="1276.4"/><circle cx="609.2" cy="1268.2"/><circle cx="675.8" cy="1262.7"/><circle cx="739.6" cy="1273.6"/><circle cx="689" cy="1260.2"/><circle cx="732.9" cy="1249.6"/><circle cx="748.4" cy="1263.2"/><circle cx="691" cy="1265.7"/><circle cx="730.5" cy="1261.3"/><circle cx="687" cy="1261"/><circle cx="746.2" cy="1275.2"/><circle cx="716" cy="1267.2"/><circle cx="754.4" cy="1270.1"/><circle cx="689.2" cy="1265"/><circle cx="689.8" cy="1264.5"/><circle cx="757.7" cy="1270.4"/><circle cx="670.7" cy="1261.2"/><circle cx="746.5" cy="1274.5"/><circle cx="577.5" cy="1267.6"/><circle cx="742.2" cy="1251.3"/><circle cx="672.9" cy="1264.4"/><circle cx="721" cy="1257.9"/><circle cx="755.4" cy="1267.1"/><circle cx="721.2" cy="1273.2"/><circle cx="728.3" cy="1269.7"/><circle cx="681.4" cy="1271"/><circle cx="690.7" cy="1268.8"/><circle cx="670.8" cy="1246.4"/><circle cx="612.2" cy="1255.1"/><circle cx="756.6" cy="1273.5"/><circle cx="724" cy="1258.9"/><circle cx="721.9" cy="1248.7"/><circle cx="698.9" cy="1261.4"/><circle cx="736.2" cy="1260.3"/><circle cx="597.4" cy="1280.8"/><circle cx="699.5" cy="1265.3"/><circle cx="612.8" cy="1256"/><circle cx="701.5" cy="1271.2"/><circle cx="717.1" cy="1283.8"/><circle cx="584.8" cy="1245.4"/><circle cx="747" cy="1265.9"/><circle cx="668.6" cy="1259"/><circle cx="754.7" cy="1272.6"/><circle cx="696.6" cy="1278"/><circle cx="755.7" cy="1272.2"/><circle cx="647.5" cy="1268.7"/><circle cx="508.6" cy="1259"/><circle cx="542.3" cy="1248.6"/><circle cx="757.6" cy="1268.3"/><circle cx="670.6" cy="1269.7"/><circle cx="745.9" cy="1261.9"/><circle cx="577.3" cy="1269.1"/><circle cx="571.6" cy="1259.4"/><circle cx="739.6" cy="1267.5"/><circle cx="730" cy="1264.8"/><circle cx="748.9" cy="1275.5"/><circle cx="719.6" cy="1275.6"/><circle cx="649.4" cy="1259.9"/><circle cx="710.1" cy="1267.5"/><circle cx="692.5" cy="1249.8"/><circle cx="562.2" cy="1252.4"/><circle cx="731.6" cy="1292.3"/><circle cx="754.7" cy="1267.3"/><circle cx="601.7" cy="1243.4"/><circle cx="686.5" cy="1265.1"/><circle cx="622.2" cy="1256"/><circle cx="691" cy="1254.5"/><circle cx="657.9" cy="1254.3"/><circle cx="611.4" cy="1247.6"/><circle cx="649.8" cy="1269.3"/><circle cx="634.4" cy="1278.8"/><circle cx="505" cy="1257.7"/><circle cx="665.9" cy="1261.1"/><circle cx="690.4" cy="1269.5"/><circle cx="673.9" cy="1263.8"/><circle cx="750.8" cy="1267.5"/><circle cx="678.1" cy="1268.4"/><circle cx="566.3" cy="1260.5"/><circle cx="670.1" cy="1255.8"/><circle cx="697.7" cy="1277.3"/><circle cx="724.5" cy="1265.9"/><circle cx="731.6" cy="1266.9"/><circle cx="672.9" cy="1274.2"/><circle cx="687.4" cy="1269.2"/><circle cx="753.3" cy="1270.8"/><circle cx="756.7" cy="1271.4"/><circle cx="698.3" cy="1241.7"/><circle cx="687.7" cy="1273.8"/><circle cx="634.9" cy="1272.9"/><circle cx="738" cy="1282.2"/><circle cx="687.4" cy="1264.4"/><circle cx="585" cy="1275.7"/><circle cx="651.2" cy="1257.8"/><circle cx="637.6" cy="1264.1"/><circle cx="531.9" cy="1261.3"/><circle cx="745.5" cy="1262"/><circle cx="611" cy="1260.1"/><circle cx="718.5" cy="1272"/><circle cx="750.2" cy="1268.6"/><circle cx="723.7" cy="1269.6"/><circle cx="679" cy="1273"/><circle cx="755.8" cy="1272.2"/><circle cx="655.3" cy="1281.6"/><circle cx="655.1" cy="1267.6"/><circle cx="755.2" cy="1266.9"/><circle cx="692.9" cy="1236.8"/><circle cx="635.2" cy="1273.9"/><circle cx="672.4" cy="1258.4"/><circle cx="653" cy="1251.7"/><circle cx="690.8" cy="1280.3"/><circle cx="697.1" cy="1231.4"/><circle cx="715.5" cy="1273.2"/><circle cx="502.1" cy="1259.7"/><circle cx="660.4" cy="1254.6"/><circle cx="683" cy="1281.4"/><circle cx="739.3" cy="1257.8"/><circle cx="689.8" cy="1276.5"/><circle cx="731.2" cy="1281.6"/><circle cx="757" cy="1269.3"/><circle cx="613.8" cy="1270.1"/><circle cx="731.3" cy="1261.3"/><circle cx="743.5" cy="1279"/><circle cx="570.8" cy="1264.3"/><circle cx="649.2" cy="1245.7"/><circle cx="660.1" cy="1278.1"/><circle cx="752.5" cy="1269.1"/><circle cx="688.1" cy="1262.8"/><circle cx="751.9" cy="1267.2"/><circle cx="681.3" cy="1253"/><circle cx="714.6" cy="1270.2"/><circle cx="721.7" cy="1280.9"/><circle cx="691.1" cy="1249"/><circle cx="589.3" cy="1279.1"/><circle cx="620.7" cy="1248.9"/><circle cx="678" cy="1241.7"/><circle cx="696" cy="1244.1"/><circle cx="739.4" cy="1263.2"/><circle cx="586.5" cy="1276.6"/><circle cx="643.1" cy="1258.4"/><circle cx="725.1" cy="1256.2"/><circle cx="701.9" cy="1236.9"/><circle cx="751.7" cy="1262.2"/><circle cx="735.6" cy="1262.6"/><circle cx="686.8" cy="1288.1"/><circle cx="687.9" cy="1271.2"/><circle cx="582.7" cy="1269.3"/><circle cx="672.2" cy="1260.5"/><circle cx="683.8" cy="1262.1"/><circle cx="660.1" cy="1281.8"/><circle cx="606.6" cy="1258.9"/><circle cx="737.6" cy="1262.1"/><circle cx="693.4" cy="1256.6"/><circle cx="665.1" cy="1259.1"/><circle cx="684.4" cy="1292"/><circle cx="750.4" cy="1266.5"/><circle cx="677.8" cy="1248"/><circle cx="502.4" cy="1259.6"/><circle cx="658.1" cy="1277.2"/><circle cx="714.4" cy="1282.1"/><circle cx="757.5" cy="1270.2"/><circle cx="719.8" cy="1248.9"/><circle cx="733.2" cy="1257.3"/><circle cx="634.5" cy="1278.3"/><circle cx="752.4" cy="1261.6"/><circle cx="742.6" cy="1259.8"/><circle cx="731.6" cy="1285.1"/><circle cx="602" cy="1271"/><circle cx="666.6" cy="1289.4"/><circle cx="724.7" cy="1265.2"/><circle cx="655.9" cy="1240.8"/><circle cx="742.8" cy="1267.4"/><circle cx="648.2" cy="1261.3"/><circle cx="672" cy="1267.4"/><circle cx="680.4" cy="1267.7"/><circle cx="686.9" cy="1276.3"/><circle cx="667" cy="1284.6"/><circle cx="673.8" cy="1275.1"/><circle cx="751.6" cy="1267"/><circle cx="707.8" cy="1244"/><circle cx="696.4" cy="1268.1"/><circle cx="606.7" cy="1272.3"/><circle cx="683.4" cy="1253.9"/><circle cx="568" cy="1269.5"/><circle cx="689.3" cy="1265.3"/><circle cx="670.9" cy="1265.9"/><circle cx="747.2" cy="1274"/><circle cx="653.3" cy="1254.1"/><circle cx="695.4" cy="1254.7"/><circle cx="524" cy="1280.9"/><circle cx="691.5" cy="1247.9"/><circle cx="616.1" cy="1274.7"/><circle cx="675.9" cy="1282.6"/><circle cx="700.7" cy="1281.1"/><circle cx="621.7" cy="1284.1"/><circle cx="698.4" cy="1251.3"/><circle cx="733.5" cy="1281.5"/><circle cx="600.4" cy="1264.9"/><circle cx="732.3" cy="1248.2"/><circle cx="590.6" cy="1261"/><circle cx="689.6" cy="1266"/><circle cx="706.1" cy="1276.3"/><circle cx="727.7" cy="1247.2"/><circle cx="682.4" cy="1264.5"/><circle cx="673.7" cy="1258.5"/><circle cx="593.2" cy="1272.4"/><circle cx="624.2" cy="1275.6"/><circle cx="548.2" cy="1263.2"/><circle cx="709.4" cy="1269.7"/><circle cx="629.8" cy="1274.5"/><circle cx="676.4" cy="1263.9"/><circle cx="751.3" cy="1265.9"/><circle cx="729.9" cy="1256.2"/><circle cx="673" cy="1276.1"/><circle cx="702.2" cy="1244.1"/><circle cx="701.4" cy="1271.3"/><circle cx="615.4" cy="1274"/><circle cx="690.3" cy="1275.9"/><circle cx="628.5" cy="1258.9"/><circle cx="601.4" cy="1270.6"/><circle cx="736.2" cy="1264.6"/><circle cx="739.1" cy="1268.5"/><circle cx="686.1" cy="1277.7"/><circle cx="552.1" cy="1246.1"/><circle cx="589.2" cy="1272.5"/><circle cx="745.9" cy="1266.2"/><circle cx="678.4" cy="1253.6"/><circle cx="753.5" cy="1266.4"/><circle cx="755.8" cy="1275.6"/><circle cx="722.4" cy="1268.3"/><circle cx="756.1" cy="1275.2"/><circle cx="738.4" cy="1289.2"/><circle cx="600.1" cy="1271.3"/><circle cx="684.4" cy="1272"/><circle cx="607.2" cy="1259.4"/><circle cx="747.1" cy="1270.8"/><circle cx="663.4" cy="1267.8"/><circle cx="651.4" cy="1280.8"/><circle cx="687.9" cy="1266.3"/><circle cx="661.7" cy="1262.4"/><circle cx="732.9" cy="1261.1"/><circle cx="731.2" cy="1248.7"/><circle cx="645.3" cy="1275.8"/><circle cx="673.4" cy="1265.7"/><circle cx="743.8" cy="1272.4"/><circle cx="693.2" cy="1243.4"/><circle cx="673.3" cy="1278.3"/><circle cx="689.6" cy="1253.6"/><circle cx="741.4" cy="1269"/><circle cx="750.2" cy="1262.7"/><circle cx="697.4" cy="1248.8"/><circle cx="706.5" cy="1254.9"/><circle cx="720.7" cy="1281.8"/><circle cx="730.6" cy="1263.4"/><circle cx="753.8" cy="1268.1"/><circle cx="673.3" cy="1275.1"/><circle cx="674.4" cy="1235.8"/><circle cx="745.2" cy="1268.8"/><circle cx="722.1" cy="1252.1"/><circle cx="587.3" cy="1274.8"/><circle cx="607.3" cy="1257.1"/><circle cx="755.8" cy="1268.9"/><circle cx="715.6" cy="1247.1"/><circle cx="715.4" cy="1262.5"/><circle cx="516.6" cy="1271.8"/><circle cx="731.1" cy="1289.5"/><circle cx="580.2" cy="1263.8"/><circle cx="726.9" cy="1280.8"/><circle cx="711.2" cy="1259.3"/><circle cx="676.6" cy="1268.6"/><circle cx="709.7" cy="1284.4"/><circle cx="686.3" cy="1261.1"/><circle cx="557.2" cy="1262.5"/><circle cx="718" cy="1256.2"/><circle cx="669.6" cy="1273.1"/><circle cx="601.5" cy="1276.1"/><circle cx="691.4" cy="1268.7"/><circle cx="528.8" cy="1261.5"/><circle cx="758.2" cy="1271.5"/><circle cx="733.8" cy="1265.2"/><circle cx="548.7" cy="1263.2"/><circle cx="732.6" cy="1267.9"/><circle cx="721.8" cy="1263"/><circle cx="609" cy="1261.1"/><circle cx="735.4" cy="1263.2"/><circle cx="683.7" cy="1239.5"/><circle cx="646.5" cy="1262.9"/><circle cx="752.7" cy="1270.4"/><circle cx="674.4" cy="1265.6"/><circle cx="692.5" cy="1244.2"/><circle cx="509.4" cy="1273.4"/><circle cx="623.3" cy="1278.9"/><circle cx="703.1" cy="1264.3"/><circle cx="748.3" cy="1274.8"/><circle cx="491.3" cy="1273"/><circle cx="682.6" cy="1274.6"/><circle cx="692.6" cy="1270.5"/><circle cx="732.9" cy="1268.1"/><circle cx="681" cy="1274.8"/><circle cx="756" cy="1270.6"/><circle cx="716.3" cy="1246.6"/><circle cx="743.4" cy="1273.3"/><circle cx="617.7" cy="1254.8"/><circle cx="714.7" cy="1262.6"/><circle cx="746.9" cy="1269.7"/><circle cx="552.7" cy="1263.2"/><circle cx="658.5" cy="1237"/><circle cx="681.2" cy="1265.4"/><circle cx="730.8" cy="1263.2"/><circle cx="697.9" cy="1258.8"/><circle cx="651.7" cy="1265.8"/><circle cx="756.4" cy="1268.9"/><circle cx="724" cy="1267.5"/><circle cx="733.3" cy="1265.5"/><circle cx="581.3" cy="1256.9"/><circle cx="682.7" cy="1246.8"/><circle cx="736.5" cy="1286.7"/><circle cx="580.9" cy="1262"/><circle cx="673.2" cy="1275.9"/><circle cx="749.6" cy="1266.7"/><circle cx="738.5" cy="1274.6"/><circle cx="546.8" cy="1259.3"/><circle cx="702.4" cy="1278.3"/><circle cx="700.4" cy="1266.8"/><circle cx="626.3" cy="1243.3"/><circle cx="693.9" cy="1269.5"/><circle cx="699.6" cy="1248.8"/><circle cx="703.7" cy="1264.3"/><circle cx="689" cy="1264.1"/><circle cx="644.3" cy="1273.1"/><circle cx="755.9" cy="1268.5"/><circle cx="714.7" cy="1258.7"/><circle cx="590.3" cy="1289.8"/><circle cx="651.2" cy="1269.1"/><circle cx="690.6" cy="1273.2"/><circle cx="672.2" cy="1270"/><circle cx="668.1" cy="1254"/><circle cx="695.6" cy="1261.4"/><circle cx="689.4" cy="1258.9"/><circle cx="693.3" cy="1279.5"/><circle cx="754.3" cy="1267.8"/><circle cx="709.2" cy="1267.6"/><circle cx="671" cy="1271.2"/><circle cx="738.9" cy="1269"/><circle cx="754.1" cy="1273.9"/><circle cx="572" cy="1267.9"/><circle cx="675.3" cy="1262.4"/><circle cx="506.2" cy="1256.8"/><circle cx="743.1" cy="1267.2"/><circle cx="664.2" cy="1255.4"/><circle cx="711.7" cy="1258.3"/><circle cx="720.4" cy="1268"/><circle cx="728.5" cy="1274.7"/><circle cx="689.3" cy="1277.7"/><circle cx="698.8" cy="1249"/><circle cx="726.8" cy="1274.2"/><circle cx="687.2" cy="1265.1"/><circle cx="737" cy="1271.3"/><circle cx="666.7" cy="1243.7"/><circle cx="738" cy="1273.5"/><circle cx="664.6" cy="1265.8"/><circle cx="665" cy="1285.3"/><circle cx="748" cy="1276.7"/><circle cx="758" cy="1270.2"/><circle cx="577.9" cy="1259.4"/><circle cx="737.7" cy="1278.6"/><circle cx="748.2" cy="1268.9"/><circle cx="727.4" cy="1264.9"/><circle cx="726.6" cy="1269.5"/><circle cx="700.7" cy="1289.3"/><circle cx="736.7" cy="1279.8"/><circle cx="754" cy="1273.2"/><circle cx="721.4" cy="1267.9"/><circle cx="750.1" cy="1275.8"/><circle cx="689.4" cy="1274.7"/><circle cx="698.7" cy="1240.7"/><circle cx="706.3" cy="1242"/><circle cx="625.9" cy="1270.2"/><circle cx="751.7" cy="1273.8"/><circle cx="747.2" cy="1265.1"/><circle cx="662.2" cy="1264"/><circle cx="742" cy="1266.2"/><circle cx="658.5" cy="1248.6"/><circle cx="730.7" cy="1272"/><circle cx="500.8" cy="1259.8"/><circle cx="604.9" cy="1258.6"/><circle cx="671.1" cy="1267"/><circle cx="721.4" cy="1264.2"/><circle cx="668" cy="1275.4"/><circle cx="721.9" cy="1264.9"/><circle cx="612.9" cy="1269.5"/><circle cx="732.3" cy="1271.8"/><circle cx="675.6" cy="1251.2"/><circle cx="745.6" cy="1277.5"/><circle cx="708.2" cy="1288.6"/><circle cx="701.3" cy="1248.1"/><circle cx="669.9" cy="1265.4"/><circle cx="623.1" cy="1268.3"/><circle cx="653.1" cy="1282.9"/><circle cx="691.3" cy="1253.5"/><circle cx="732.9" cy="1279.5"/><circle cx="736" cy="1256.8"/><circle cx="736.6" cy="1282.3"/><circle cx="488" cy="1273.1"/><circle cx="757.7" cy="1270.2"/><circle cx="734.4" cy="1273.3"/><circle cx="681" cy="1272.1"/><circle cx="599.6" cy="1257.5"/><circle cx="618.1" cy="1269.5"/><circle cx="685.2" cy="1263.3"/><circle cx="662.2" cy="1265.7"/><circle cx="583.5" cy="1260.8"/><circle cx="594.2" cy="1241.5"/><circle cx="740.4" cy="1274.8"/><circle cx="748" cy="1262.2"/><circle cx="742.9" cy="1266.7"/><circle cx="749.7" cy="1268.1"/><circle cx="627.9" cy="1260.9"/><circle cx="752.3" cy="1269.8"/><circle cx="752.4" cy="1270.1"/><circle cx="733.4" cy="1271.7"/><circle cx="664.4" cy="1284.4"/><circle cx="706.1" cy="1247.8"/><circle cx="709.6" cy="1278.1"/><circle cx="635.5" cy="1231.7"/><circle cx="691.7" cy="1251"/><circle cx="616.3" cy="1260"/><circle cx="697.8" cy="1284.2"/><circle cx="715" cy="1278.9"/><circle cx="755.3" cy="1270.9"/><circle cx="674.5" cy="1265.6"/><circle cx="692.8" cy="1251.5"/><circle cx="682" cy="1260.2"/><circle cx="753.2" cy="1261.8"/><circle cx="641" cy="1260.1"/><circle cx="754.7" cy="1272"/><circle cx="659.3" cy="1260.1"/><circle cx="733.7" cy="1277.3"/><circle cx="754.8" cy="1272.7"/><circle cx="668.7" cy="1230.2"/><circle cx="753.1" cy="1266.9"/><circle cx="716.8" cy="1265.2"/><circle cx="556.5" cy="1251.7"/><circle cx="734.7" cy="1268"/><circle cx="557.7" cy="1277.8"/><circle cx="736.1" cy="1261.3"/><circle cx="723.1" cy="1249.9"/><circle cx="671.5" cy="1285.2"/><circle cx="676.2" cy="1242.7"/><circle cx="704.1" cy="1273.3"/><circle cx="727.2" cy="1286.7"/><circle cx="748.1" cy="1261"/><circle cx="722.1" cy="1264.7"/><circle cx="667.6" cy="1261.7"/><circle cx="692" cy="1234.5"/><circle cx="700.9" cy="1247.1"/><circle cx="680.2" cy="1263.9"/><circle cx="682.5" cy="1275"/><circle cx="747.1" cy="1275.5"/><circle cx="743.1" cy="1270.7"/><circle cx="732.3" cy="1258.8"/><circle cx="610.6" cy="1279.5"/><circle cx="699.6" cy="1256.6"/><circle cx="734.8" cy="1264.6"/><circle cx="734.6" cy="1270.9"/><circle cx="712.4" cy="1251.7"/><circle cx="611.1" cy="1263.7"/><circle cx="657.4" cy="1270.3"/><circle cx="640.7" cy="1273.9"/><circle cx="726.3" cy="1268.7"/><circle cx="716.3" cy="1266.6"/><circle cx="673.5" cy="1281.1"/><circle cx="657.6" cy="1254"/><circle cx="697.5" cy="1272.6"/><circle cx="681.5" cy="1280.6"/><circle cx="691.3" cy="1286"/><circle cx="643.2" cy="1259.6"/><circle cx="711.7" cy="1277"/><circle cx="682.6" cy="1236.2"/><circle cx="604.2" cy="1254.7"/><circle cx="735.6" cy="1275.6"/><circle cx="734.8" cy="1268.2"/><circle cx="710.7" cy="1284.9"/><circle cx="704.9" cy="1271.6"/><circle cx="532.4" cy="1250.3"/><circle cx="561.7" cy="1277"/><circle cx="622.7" cy="1265"/><circle cx="728.7" cy="1272.9"/><circle cx="607.7" cy="1263.8"/><circle cx="752.9" cy="1264.8"/><circle cx="700.2" cy="1278.1"/><circle cx="731.8" cy="1264.2"/><circle cx="688.5" cy="1273.2"/><circle cx="754.6" cy="1272.3"/><circle cx="739.7" cy="1263.4"/><circle cx="698.5" cy="1273.9"/><circle cx="729.1" cy="1277.3"/><circle cx="706" cy="1260.6"/><circle cx="675.5" cy="1270.5"/><circle cx="581.2" cy="1266.5"/><circle cx="699.5" cy="1274"/><circle cx="744.6" cy="1273.8"/><circle cx="730" cy="1249.3"/><circle cx="669.8" cy="1263.6"/><circle cx="732.9" cy="1257.4"/><circle cx="740.4" cy="1267"/><circle cx="665.8" cy="1263.6"/><circle cx="687.7" cy="1259.6"/><circle cx="747.8" cy="1272.3"/><circle cx="716.7" cy="1278.9"/><circle cx="717.5" cy="1256.4"/><circle cx="666.7" cy="1269.4"/><circle cx="675.9" cy="1276.1"/><circle cx="728.9" cy="1277.5"/><circle cx="624.6" cy="1270.3"/><circle cx="719.7" cy="1251.8"/><circle cx="634.3" cy="1271.5"/><circle cx="676.5" cy="1255.3"/><circle cx="707.9" cy="1287.4"/><circle cx="657.6" cy="1276.6"/><circle cx="714.6" cy="1252.2"/><circle cx="604.3" cy="1253.9"/><circle cx="703.5" cy="1258.3"/><circle cx="642.4" cy="1282"/><circle cx="565.1" cy="1261.7"/><circle cx="737.4" cy="1262.2"/><circle cx="630.6" cy="1264.1"/><circle cx="743.4" cy="1274.2"/><circle cx="622.9" cy="1263.2"/><circle cx="654.5" cy="1272.4"/><circle cx="749.7" cy="1271.5"/><circle cx="645.1" cy="1259.3"/><circle cx="612.7" cy="1264.9"/><circle cx="668.6" cy="1279.4"/><circle cx="626.2" cy="1257.9"/><circle cx="756.7" cy="1272.2"/><circle cx="700.1" cy="1253.8"/><circle cx="670.4" cy="1269.1"/><circle cx="722.9" cy="1259.4"/><circle cx="687.2" cy="1269.5"/><circle cx="707.9" cy="1246.4"/><circle cx="687.6" cy="1265.3"/><circle cx="693.2" cy="1265.7"/><circle cx="757.5" cy="1271.2"/><circle cx="665.5" cy="1247.2"/><circle cx="704" cy="1262.7"/><circle cx="710.6" cy="1257.2"/><circle cx="633.2" cy="1262.9"/><circle cx="610.1" cy="1272.1"/><circle cx="609.2" cy="1282.7"/><circle cx="640.9" cy="1228.9"/><circle cx="752.5" cy="1275.5"/><circle cx="679.9" cy="1278"/><circle cx="605.5" cy="1277"/><circle cx="752" cy="1267.9"/><circle cx="688" cy="1277.7"/><circle cx="660.7" cy="1278.8"/><circle cx="740.5" cy="1268.2"/><circle cx="745.9" cy="1271.5"/><circle cx="672.1" cy="1259.4"/><circle cx="685.2" cy="1279.2"/><circle cx="611.5" cy="1285.6"/><circle cx="748.9" cy="1275.2"/><circle cx="542.2" cy="1261"/><circle cx="697.7" cy="1280.6"/><circle cx="721.4" cy="1261"/><circle cx="744.5" cy="1265.9"/><circle cx="725.3" cy="1259.6"/><circle cx="566.6" cy="1272"/><circle cx="497.6" cy="1256.2"/><circle cx="536.2" cy="1274.4"/><circle cx="496.7" cy="1272"/><circle cx="539.1" cy="1255.8"/><circle cx="513.5" cy="1256.5"/><circle cx="520.8" cy="1247.9"/><circle cx="530" cy="1278.6"/><circle cx="515.3" cy="1274.5"/><circle cx="502.1" cy="1256"/><circle cx="495.6" cy="1272"/><circle cx="489.2" cy="1246.9"/><circle cx="528.3" cy="1256.9"/><circle cx="510.7" cy="1279.7"/><circle cx="493.9" cy="1275.7"/><circle cx="536.8" cy="1253.9"/><circle cx="500.7" cy="1278.7"/><circle cx="509.1" cy="1272.1"/><circle cx="502" cy="1285.6"/><circle cx="521.8" cy="1253.3"/><circle cx="518.9" cy="1257.8"/><circle cx="520.1" cy="1274.1"/><circle cx="500.2" cy="1250.6"/><circle cx="501.4" cy="1272.9"/><circle cx="499.5" cy="1251.9"/><circle cx="503.9" cy="1275"/><circle cx="493" cy="1258.7"/><circle cx="156" cy="1052.3"/><circle cx="390" cy="1091"/><circle cx="402.7" cy="1141"/><circle cx="360" cy="1207.7"/><circle cx="384.7" cy="1231.9"/><circle cx="345.7" cy="1246.7"/><circle cx="309" cy="1284.3"/><circle cx="341.7" cy="1287.7"/><circle cx="344.3" cy="1279"/><circle cx="374.3" cy="1294"/><circle cx="380" cy="1285.7"/><circle cx="382.7" cy="1282.7"/><circle cx="384.7" cy="1277.7"/><circle cx="395.7" cy="1284.3"/><circle cx="397" cy="1301.7"/><circle cx="409" cy="1279"/><circle cx="410.3" cy="1291.7"/><circle cx="420" cy="1278.3"/><circle cx="421.7" cy="1279"/><circle cx="426" cy="1260"/><circle cx="427.3" cy="1249"/><circle cx="434" cy="1248.3"/><circle cx="431.3" cy="1298.3"/><circle cx="434.3" cy="1285.7"/><circle cx="436.7" cy="1281.7"/><circle cx="442.7" cy="1285"/><circle cx="446.7" cy="1259"/><circle cx="451" cy="1251.7"/><circle cx="456.7" cy="1244.3"/><circle cx="453.3" cy="1278.3"/><circle cx="453.3" cy="1256.7"/><circle cx="459" cy="1265"/><circle cx="460" cy="1278.3"/><circle cx="465" cy="1256.7"/><circle cx="466.7" cy="1278.3"/><circle cx="468.3" cy="1273.3"/><circle cx="472.7" cy="1288.3"/><circle cx="471.7" cy="1255"/><circle cx="476.7" cy="1256.7"/><circle cx="480" cy="1278.3"/><circle cx="487.3" cy="1247.7"/><circle cx="497.3" cy="1238.3"/><circle cx="521" cy="1242.3"/><circle cx="523.3" cy="1293.3"/><circle cx="602.7" cy="1194"/><circle cx="580.3" cy="1201.7"/><circle cx="562.3" cy="1214.3"/><circle cx="636.7" cy="1210.7"/><circle cx="673.3" cy="1213.3"/><circle cx="689.3" cy="1207.7"/><circle cx="692.3" cy="1212.3"/><circle cx="705" cy="1218.3"/><circle cx="742.7" cy="1223.3"/><circle cx="628.3" cy="1366"/><circle cx="650.3" cy="1328.3"/><circle cx="658.3" cy="1315"/><circle cx="676.7" cy="1321.7"/><circle cx="684" cy="1316.7"/><circle cx="689.7" cy="1326"/><circle cx="673.3" cy="1310"/><circle cx="693.3" cy="1309.3"/><circle cx="745" cy="1301.7"/><circle cx="632.3" cy="1305.7"/><circle cx="625" cy="1301.7"/><circle cx="544" cy="1295.7"/><circle cx="581" cy="1294"/><circle cx="601.7" cy="1293.3"/><circle cx="615" cy="1292.7"/>
</g>
<line x1="763.9" y1="1020.7" x2="763.9" y2="1519.3" stroke="#2c3233" stroke-width="1.75"/>
<text x="118.1" y="1078.2" font-size="22.5" text-anchor="end" fill="#2d3b3e" textLength="12.6" lengthAdjust="spacingAndGlyphs" stroke="#2d3b3e" stroke-width="0.3">2</text>
<text x="118.1" y="1178.2" font-size="22.5" text-anchor="end" fill="#2d3b3e" textLength="12.6" lengthAdjust="spacingAndGlyphs" stroke="#2d3b3e" stroke-width="0.3">1</text>
<text x="118.1" y="1278.2" font-size="22.5" text-anchor="end" fill="#2d3b3e" textLength="12.6" lengthAdjust="spacingAndGlyphs" stroke="#2d3b3e" stroke-width="0.3">0</text>
<text x="118.1" y="1378.2" font-size="22.5" text-anchor="end" fill="#2d3b3e" textLength="30" lengthAdjust="spacingAndGlyphs" stroke="#2d3b3e" stroke-width="0.3">−1</text>
<text x="118.1" y="1478.2" font-size="22.5" text-anchor="end" fill="#2d3b3e" textLength="30" lengthAdjust="spacingAndGlyphs" stroke="#2d3b3e" stroke-width="0.3">−2</text>
<text x="197.5" y="1544.3" font-size="22.5" text-anchor="middle" fill="#2d3b3e" textLength="30" lengthAdjust="spacingAndGlyphs" stroke="#2d3b3e" stroke-width="0.3">−4</text>
<text x="339" y="1544.3" font-size="22.5" text-anchor="middle" fill="#2d3b3e" textLength="30" lengthAdjust="spacingAndGlyphs" stroke="#2d3b3e" stroke-width="0.3">−3</text>
<text x="480.6" y="1544.3" font-size="22.5" text-anchor="middle" fill="#2d3b3e" textLength="30" lengthAdjust="spacingAndGlyphs" stroke="#2d3b3e" stroke-width="0.3">−2</text>
<text x="622.1" y="1544.3" font-size="22.5" text-anchor="middle" fill="#2d3b3e" textLength="30" lengthAdjust="spacingAndGlyphs" stroke="#2d3b3e" stroke-width="0.3">−1</text>
<text x="763.7" y="1544.3" font-size="22.5" text-anchor="middle" fill="#2d3b3e" textLength="12.6" lengthAdjust="spacingAndGlyphs" stroke="#2d3b3e" stroke-width="0.3">0</text>
<text x="156" y="1042.3" font-size="16" text-anchor="middle" fill="#111" stroke="#000" stroke-width="0.3">CRYL1</text>
<text x="356.5" y="1616.4" font-size="27" fill="#2d3b3e" stroke="#2d3b3e" stroke-width="0.35" textLength="171.5" lengthAdjust="spacingAndGlyphs">Log<tspan font-size="18" dy="5.4">10</tspan><tspan dy="-5.4"> P Value</tspan></text>
<text font-size="27.5" fill="#2d3b3e" stroke="#2d3b3e" stroke-width="0.35" transform="translate(51.6 1358.4) rotate(-90)" textLength="177" lengthAdjust="spacingAndGlyphs">Log<tspan font-size="18" dy="5.4">2</tspan><tspan dy="-5.4"> FC Value</tspan></text>
</g></svg></body></html>
